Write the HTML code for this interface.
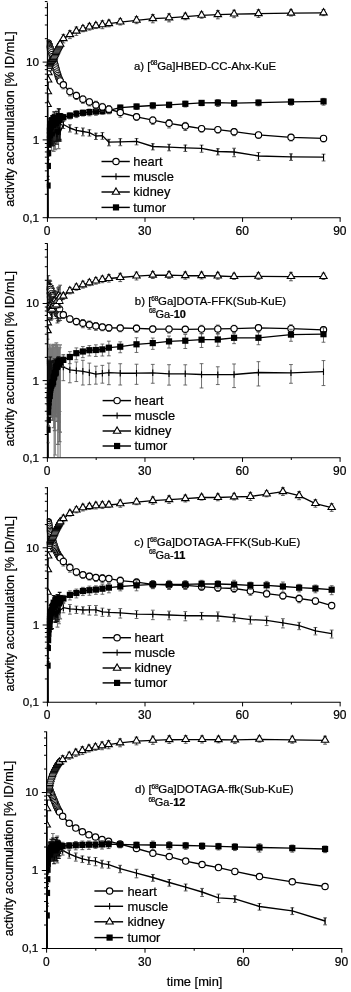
<!DOCTYPE html>
<html lang="en"><head><meta charset="utf-8"><title>Time activity curves</title>
<style>html,body{margin:0;padding:0;background:#fff}svg{display:block;filter:blur(0.38px)}text{font-family:'Liberation Sans', Arial, sans-serif;fill:#000;stroke:#000;stroke-width:0.22px}</style>
</head><body>
<svg width="351" height="992" viewBox="0 0 351 992">
<rect width="351" height="992" fill="#fff"/>
<g>
<clipPath id="cp0"><rect x="46.85" y="-3" width="320" height="221.1"/></clipPath>
<text x="39.2" y="221.65" text-anchor="end" font-size="11.8">0,1</text>
<text x="39.2" y="143.85" text-anchor="end" font-size="11.8">1</text>
<text x="39.2" y="66.05" text-anchor="end" font-size="11.8">10</text>
<text x="47.15" y="234.5" text-anchor="middle" font-size="12">0</text>
<text x="144.71" y="234.5" text-anchor="middle" font-size="12">30</text>
<text x="242.27" y="234.5" text-anchor="middle" font-size="12">60</text>
<text x="339.83" y="234.5" text-anchor="middle" font-size="12">90</text>
<text transform="translate(13.9 119) rotate(-90)" text-anchor="middle" font-size="12.65">activity accumulation [% ID/mL]</text>
<g clip-path="url(#cp0)">
<g>
<path d="M47.86 159.58V165.48 M45.96 159.58H49.76 M45.96 165.48H49.76" stroke="#777" stroke-width="1.15" fill="none"/>
<path d="M48.13 150.67V156.07 M46.23 150.67H50.03 M46.23 156.07H50.03" stroke="#777" stroke-width="1.15" fill="none"/>
<path d="M48.4 143.9V149.99 M46.5 143.9H50.3 M46.5 149.99H50.3" stroke="#777" stroke-width="1.15" fill="none"/>
<path d="M49.75 129.89V144.47 M47.85 129.89H51.65 M47.85 144.47H51.65" stroke="#777" stroke-width="1.15" fill="none"/>
<path d="M51.51 118.56V150.43 M49.61 118.56H53.41 M49.61 150.43H53.41" stroke="#777" stroke-width="1.15" fill="none"/>
<path d="M53.68 118.58V151.34 M51.78 118.58H55.58 M51.78 151.34H55.58" stroke="#777" stroke-width="1.15" fill="none"/>
<path d="M54.77 117.81V148.92 M52.87 117.81H56.67 M52.87 148.92H56.67" stroke="#777" stroke-width="1.15" fill="none"/>
<path d="M55.31 119.95V149.68 M53.41 119.95H57.21 M53.41 149.68H57.21" stroke="#777" stroke-width="1.15" fill="none"/>
<path d="M58.56 120.42V148.63 M56.66 120.42H60.46 M56.66 148.63H60.46" stroke="#777" stroke-width="1.15" fill="none"/>
<path d="M47.59 176.3V179.47 M45.69 176.3H49.49 M45.69 179.47H49.49" stroke="#111" stroke-width="1.15" fill="none"/>
<path d="M48.67 141.15V145.15 M46.77 141.15H50.57 M46.77 145.15H50.57" stroke="#111" stroke-width="1.15" fill="none"/>
<path d="M48.94 139.18V143.37 M47.04 139.18H50.84 M47.04 143.37H50.84" stroke="#111" stroke-width="1.15" fill="none"/>
<path d="M49.21 134.83V141.37 M47.31 134.83H51.11 M47.31 141.37H51.11" stroke="#111" stroke-width="1.15" fill="none"/>
<path d="M49.48 131.86V140.51 M47.58 131.86H51.38 M47.58 140.51H51.38" stroke="#111" stroke-width="1.15" fill="none"/>
<path d="M50.03 130.55V143.06 M48.13 130.55H51.93 M48.13 143.06H51.93" stroke="#111" stroke-width="1.15" fill="none"/>
<path d="M50.3 128.78V143.08 M48.4 128.78H52.2 M48.4 143.08H52.2" stroke="#111" stroke-width="1.15" fill="none"/>
<path d="M50.57 125.5V143.14 M48.67 125.5H52.47 M48.67 143.14H52.47" stroke="#111" stroke-width="1.15" fill="none"/>
<path d="M50.97 128.06V144.56 M49.07 128.06H52.87 M49.07 144.56H52.87" stroke="#111" stroke-width="1.15" fill="none"/>
<path d="M52.06 121.73V141.12 M50.16 121.73H53.96 M50.16 141.12H53.96" stroke="#111" stroke-width="1.15" fill="none"/>
<path d="M52.6 127.91V145.95 M50.7 127.91H54.5 M50.7 145.95H54.5" stroke="#111" stroke-width="1.15" fill="none"/>
<path d="M53.14 125.4V145.06 M51.24 125.4H55.04 M51.24 145.06H55.04" stroke="#111" stroke-width="1.15" fill="none"/>
<path d="M54.22 123.37V143.2 M52.32 123.37H56.12 M52.32 143.2H56.12" stroke="#111" stroke-width="1.15" fill="none"/>
<path d="M55.85 122.99V141.6 M53.95 122.99H57.75 M53.95 141.6H57.75" stroke="#111" stroke-width="1.15" fill="none"/>
<path d="M56.39 121.81V141.26 M54.49 121.81H58.29 M54.49 141.26H58.29" stroke="#111" stroke-width="1.15" fill="none"/>
<path d="M56.93 124.5V144.2 M55.03 124.5H58.83 M55.03 144.2H58.83" stroke="#111" stroke-width="1.15" fill="none"/>
<path d="M57.48 121.45V140.44 M55.58 121.45H59.38 M55.58 140.44H59.38" stroke="#111" stroke-width="1.15" fill="none"/>
<path d="M58.02 122.63V140.01 M56.12 122.63H59.92 M56.12 140.01H59.92" stroke="#111" stroke-width="1.15" fill="none"/>
<path d="M59.1 121.78V141.12 M57.2 121.78H61 M57.2 141.12H61" stroke="#111" stroke-width="1.15" fill="none"/>
<path d="M59.64 122.54V139.3 M57.74 122.54H61.54 M57.74 139.3H61.54" stroke="#111" stroke-width="1.15" fill="none"/>
<path d="M60.19 124.9V140.97 M58.29 124.9H62.09 M58.29 140.97H62.09" stroke="#111" stroke-width="1.15" fill="none"/>
<path d="M63.38 121.29V128.49 M61.48 121.29H65.28 M61.48 128.49H65.28" stroke="#333" stroke-width="0.8" fill="none"/>
<path d="M69.89 124.79V132 M67.99 124.79H71.79 M67.99 132H71.79" stroke="#333" stroke-width="0.8" fill="none"/>
<path d="M76.39 127.44V133.86 M74.49 127.44H78.29 M74.49 133.86H78.29" stroke="#333" stroke-width="0.8" fill="none"/>
<path d="M82.9 128V135.85 M81 128H84.8 M81 135.85H84.8" stroke="#333" stroke-width="0.8" fill="none"/>
<path d="M89.4 129.79V136.1 M87.5 129.79H91.3 M87.5 136.1H91.3" stroke="#333" stroke-width="0.8" fill="none"/>
<path d="M95.9 133.18V139.51 M94 133.18H97.8 M94 139.51H97.8" stroke="#333" stroke-width="0.8" fill="none"/>
<path d="M102.41 132.61V139.32 M100.51 132.61H104.31 M100.51 139.32H104.31" stroke="#333" stroke-width="0.8" fill="none"/>
<path d="M108.91 139.27V145.85 M107.01 139.27H110.81 M107.01 145.85H110.81" stroke="#333" stroke-width="0.8" fill="none"/>
<path d="M120.29 138.66V145.71 M118.39 138.66H122.19 M118.39 145.71H122.19" stroke="#333" stroke-width="0.8" fill="none"/>
<path d="M136.55 138.6V144.88 M134.65 138.6H138.45 M134.65 144.88H138.45" stroke="#333" stroke-width="0.8" fill="none"/>
<path d="M152.81 143.76V149.91 M150.91 143.76H154.71 M150.91 149.91H154.71" stroke="#333" stroke-width="0.8" fill="none"/>
<path d="M169.07 144.28V150.83 M167.17 144.28H170.97 M167.17 150.83H170.97" stroke="#333" stroke-width="0.8" fill="none"/>
<path d="M185.33 145.04V151.46 M183.43 145.04H187.23 M183.43 151.46H187.23" stroke="#333" stroke-width="0.8" fill="none"/>
<path d="M201.59 145.13V152.25 M199.69 145.13H203.49 M199.69 152.25H203.49" stroke="#333" stroke-width="0.8" fill="none"/>
<path d="M217.85 148.73V154.94 M215.95 148.73H219.75 M215.95 154.94H219.75" stroke="#333" stroke-width="0.8" fill="none"/>
<path d="M234.11 148.22V156.71 M232.21 148.22H236.01 M232.21 156.71H236.01" stroke="#333" stroke-width="0.8" fill="none"/>
<path d="M258.5 152.53V160.32 M256.6 152.53H260.4 M256.6 160.32H260.4" stroke="#333" stroke-width="0.8" fill="none"/>
<path d="M291.02 153.89V160.43 M289.12 153.89H292.92 M289.12 160.43H292.92" stroke="#333" stroke-width="0.8" fill="none"/>
<path d="M323.54 154.16V160.98 M321.64 154.16H325.44 M321.64 160.98H325.44" stroke="#333" stroke-width="0.8" fill="none"/>
<polyline points="47.8,219.7 47.59,177.62 47.86,161.96 48.13,153.14 48.4,146.88 48.67,143.11 48.94,140.79 49.21,137.19 49.48,135.77 49.75,135.62 50.03,135.77 50.3,134.4 50.57,132.85 50.97,135.21 51.51,133.01 52.06,130.4 52.6,135.17 53.14,133.23 53.68,132.43 54.22,133.34 54.77,131.69 55.31,130.3 55.85,129.98 56.39,129.61 56.93,133.96 57.48,130.99 58.02,129.56 58.56,131.7 59.1,130.05 59.64,130.59 60.19,132.05 63.38,124.5 69.89,128 76.39,130.3 82.9,131.5 89.4,132.6 95.9,136 102.41,135.6 108.91,142.2 120.29,141.8 136.55,141.4 152.81,146.5 169.07,147.2 185.33,147.9 201.59,148.3 217.85,151.5 234.11,152 258.5,156 291.02,156.8 323.54,157.2" fill="none" stroke="#000" stroke-width="1.35" stroke-linejoin="round"/>
<path d="M47.59 174.42V180.82" stroke="#000" stroke-width="1.1" fill="none"/>
<path d="M47.86 158.76V165.16" stroke="#000" stroke-width="1.1" fill="none"/>
<path d="M48.13 149.94V156.34" stroke="#000" stroke-width="1.1" fill="none"/>
<path d="M48.4 143.68V150.08" stroke="#000" stroke-width="1.1" fill="none"/>
<path d="M48.67 139.91V146.31" stroke="#000" stroke-width="1.1" fill="none"/>
<path d="M48.94 137.59V143.99" stroke="#000" stroke-width="1.1" fill="none"/>
<path d="M49.21 133.99V140.39" stroke="#000" stroke-width="1.1" fill="none"/>
<path d="M49.48 132.57V138.97" stroke="#000" stroke-width="1.1" fill="none"/>
<path d="M49.75 132.42V138.82" stroke="#000" stroke-width="1.1" fill="none"/>
<path d="M50.03 132.57V138.97" stroke="#000" stroke-width="1.1" fill="none"/>
<path d="M50.3 131.2V137.6" stroke="#000" stroke-width="1.1" fill="none"/>
<path d="M50.57 129.65V136.05" stroke="#000" stroke-width="1.1" fill="none"/>
<path d="M50.97 132.01V138.41" stroke="#000" stroke-width="1.1" fill="none"/>
<path d="M51.51 129.81V136.21" stroke="#000" stroke-width="1.1" fill="none"/>
<path d="M52.06 127.2V133.6" stroke="#000" stroke-width="1.1" fill="none"/>
<path d="M52.6 131.97V138.37" stroke="#000" stroke-width="1.1" fill="none"/>
<path d="M53.14 130.03V136.43" stroke="#000" stroke-width="1.1" fill="none"/>
<path d="M53.68 129.23V135.63" stroke="#000" stroke-width="1.1" fill="none"/>
<path d="M54.22 130.14V136.54" stroke="#000" stroke-width="1.1" fill="none"/>
<path d="M54.77 128.49V134.89" stroke="#000" stroke-width="1.1" fill="none"/>
<path d="M55.31 127.1V133.5" stroke="#000" stroke-width="1.1" fill="none"/>
<path d="M55.85 126.78V133.18" stroke="#000" stroke-width="1.1" fill="none"/>
<path d="M56.39 126.41V132.81" stroke="#000" stroke-width="1.1" fill="none"/>
<path d="M56.93 130.76V137.16" stroke="#000" stroke-width="1.1" fill="none"/>
<path d="M57.48 127.79V134.19" stroke="#000" stroke-width="1.1" fill="none"/>
<path d="M58.02 126.36V132.76" stroke="#000" stroke-width="1.1" fill="none"/>
<path d="M58.56 128.5V134.9" stroke="#000" stroke-width="1.1" fill="none"/>
<path d="M59.1 126.85V133.25" stroke="#000" stroke-width="1.1" fill="none"/>
<path d="M59.64 127.39V133.79" stroke="#000" stroke-width="1.1" fill="none"/>
<path d="M60.19 128.85V135.25" stroke="#000" stroke-width="1.1" fill="none"/>
<path d="M63.38 121.3V127.7" stroke="#000" stroke-width="1.1" fill="none"/>
<path d="M69.89 124.8V131.2" stroke="#000" stroke-width="1.1" fill="none"/>
<path d="M76.39 127.1V133.5" stroke="#000" stroke-width="1.1" fill="none"/>
<path d="M82.9 128.3V134.7" stroke="#000" stroke-width="1.1" fill="none"/>
<path d="M89.4 129.4V135.8" stroke="#000" stroke-width="1.1" fill="none"/>
<path d="M95.9 132.8V139.2" stroke="#000" stroke-width="1.1" fill="none"/>
<path d="M102.41 132.4V138.8" stroke="#000" stroke-width="1.1" fill="none"/>
<path d="M108.91 139V145.4" stroke="#000" stroke-width="1.1" fill="none"/>
<path d="M120.29 138.6V145" stroke="#000" stroke-width="1.1" fill="none"/>
<path d="M136.55 138.2V144.6" stroke="#000" stroke-width="1.1" fill="none"/>
<path d="M152.81 143.3V149.7" stroke="#000" stroke-width="1.1" fill="none"/>
<path d="M169.07 144V150.4" stroke="#000" stroke-width="1.1" fill="none"/>
<path d="M185.33 144.7V151.1" stroke="#000" stroke-width="1.1" fill="none"/>
<path d="M201.59 145.1V151.5" stroke="#000" stroke-width="1.1" fill="none"/>
<path d="M217.85 148.3V154.7" stroke="#000" stroke-width="1.1" fill="none"/>
<path d="M234.11 148.8V155.2" stroke="#000" stroke-width="1.1" fill="none"/>
<path d="M258.5 152.8V159.2" stroke="#000" stroke-width="1.1" fill="none"/>
<path d="M291.02 153.6V160" stroke="#000" stroke-width="1.1" fill="none"/>
<path d="M323.54 154V160.4" stroke="#000" stroke-width="1.1" fill="none"/>
</g>
<g>
<path d="M47.59 184.57V186.2 M45.69 184.57H49.49 M45.69 186.2H49.49" stroke="#111" stroke-width="1.15" fill="none"/>
<path d="M47.86 164.36V166.83 M45.96 164.36H49.76 M45.96 166.83H49.76" stroke="#111" stroke-width="1.15" fill="none"/>
<path d="M48.13 152.52V153.87 M46.23 152.52H50.03 M46.23 153.87H50.03" stroke="#111" stroke-width="1.15" fill="none"/>
<path d="M48.4 143.93V145.89 M46.5 143.93H50.3 M46.5 145.89H50.3" stroke="#111" stroke-width="1.15" fill="none"/>
<path d="M48.67 137.94V139.73 M46.77 137.94H50.57 M46.77 139.73H50.57" stroke="#111" stroke-width="1.15" fill="none"/>
<path d="M48.94 134.15V136.33 M47.04 134.15H50.84 M47.04 136.33H50.84" stroke="#111" stroke-width="1.15" fill="none"/>
<path d="M49.21 128.51V132.74 M47.31 128.51H51.11 M47.31 132.74H51.11" stroke="#111" stroke-width="1.15" fill="none"/>
<path d="M49.48 128.19V133.01 M47.58 128.19H51.38 M47.58 133.01H51.38" stroke="#111" stroke-width="1.15" fill="none"/>
<path d="M49.75 125.07V130.32 M47.85 125.07H51.65 M47.85 130.32H51.65" stroke="#111" stroke-width="1.15" fill="none"/>
<path d="M50.03 122.28V129.65 M48.13 122.28H51.93 M48.13 129.65H51.93" stroke="#111" stroke-width="1.15" fill="none"/>
<path d="M50.3 118.41V128.58 M48.4 118.41H52.2 M48.4 128.58H52.2" stroke="#111" stroke-width="1.15" fill="none"/>
<path d="M50.57 120.82V131.88 M48.67 120.82H52.47 M48.67 131.88H52.47" stroke="#111" stroke-width="1.15" fill="none"/>
<path d="M50.97 121.37V130.06 M49.07 121.37H52.87 M49.07 130.06H52.87" stroke="#111" stroke-width="1.15" fill="none"/>
<path d="M51.51 118.45V124.68 M49.61 118.45H53.41 M49.61 124.68H53.41" stroke="#111" stroke-width="1.15" fill="none"/>
<path d="M52.06 115.86V125.23 M50.16 115.86H53.96 M50.16 125.23H53.96" stroke="#111" stroke-width="1.15" fill="none"/>
<path d="M52.6 119.75V130.8 M50.7 119.75H54.5 M50.7 130.8H54.5" stroke="#111" stroke-width="1.15" fill="none"/>
<path d="M53.14 117.13V129 M51.24 117.13H55.04 M51.24 129H55.04" stroke="#111" stroke-width="1.15" fill="none"/>
<path d="M53.68 114.3V122.02 M51.78 114.3H55.58 M51.78 122.02H55.58" stroke="#111" stroke-width="1.15" fill="none"/>
<path d="M54.22 111.93V123.75 M52.32 111.93H56.12 M52.32 123.75H56.12" stroke="#111" stroke-width="1.15" fill="none"/>
<path d="M54.77 117.58V127.93 M52.87 117.58H56.67 M52.87 127.93H56.67" stroke="#111" stroke-width="1.15" fill="none"/>
<path d="M55.31 119.06V127.46 M53.41 119.06H57.21 M53.41 127.46H57.21" stroke="#111" stroke-width="1.15" fill="none"/>
<path d="M55.85 116.28V128.45 M53.95 116.28H57.75 M53.95 128.45H57.75" stroke="#111" stroke-width="1.15" fill="none"/>
<path d="M56.39 115.68V124.94 M54.49 115.68H58.29 M54.49 124.94H58.29" stroke="#111" stroke-width="1.15" fill="none"/>
<path d="M56.93 111.24V124.16 M55.03 111.24H58.83 M55.03 124.16H58.83" stroke="#111" stroke-width="1.15" fill="none"/>
<path d="M57.48 113.58V124.42 M55.58 113.58H59.38 M55.58 124.42H59.38" stroke="#111" stroke-width="1.15" fill="none"/>
<path d="M58.02 117.2V124.43 M56.12 117.2H59.92 M56.12 124.43H59.92" stroke="#111" stroke-width="1.15" fill="none"/>
<path d="M58.56 108.77V121.71 M56.66 108.77H60.46 M56.66 121.71H60.46" stroke="#111" stroke-width="1.15" fill="none"/>
<path d="M59.1 108.95V122.03 M57.2 108.95H61 M57.2 122.03H61" stroke="#111" stroke-width="1.15" fill="none"/>
<path d="M59.64 115.43V124.36 M57.74 115.43H61.54 M57.74 124.36H61.54" stroke="#111" stroke-width="1.15" fill="none"/>
<path d="M60.19 113.86V120.9 M58.29 113.86H62.09 M58.29 120.9H62.09" stroke="#111" stroke-width="1.15" fill="none"/>
<path d="M63.38 114.43V120.65 M61.48 114.43H65.28 M61.48 120.65H65.28" stroke="#333" stroke-width="0.8" fill="none"/>
<path d="M69.89 112.94V118.91 M67.99 112.94H71.79 M67.99 118.91H71.79" stroke="#333" stroke-width="0.8" fill="none"/>
<path d="M76.39 110.76V117.59 M74.49 110.76H78.29 M74.49 117.59H78.29" stroke="#333" stroke-width="0.8" fill="none"/>
<path d="M82.9 110.23V116 M81 110.23H84.8 M81 116H84.8" stroke="#333" stroke-width="0.8" fill="none"/>
<path d="M89.4 109.12V115.81 M87.5 109.12H91.3 M87.5 115.81H91.3" stroke="#333" stroke-width="0.8" fill="none"/>
<path d="M95.9 108.66V115.26 M94 108.66H97.8 M94 115.26H97.8" stroke="#333" stroke-width="0.8" fill="none"/>
<path d="M102.41 108.84V114.14 M100.51 108.84H104.31 M100.51 114.14H104.31" stroke="#333" stroke-width="0.8" fill="none"/>
<path d="M108.91 107.9V113.28 M107.01 107.9H110.81 M107.01 113.28H110.81" stroke="#333" stroke-width="0.8" fill="none"/>
<path d="M120.29 105.16V110.63 M118.39 105.16H122.19 M118.39 110.63H122.19" stroke="#333" stroke-width="0.8" fill="none"/>
<path d="M136.55 104.11V109.47 M134.65 104.11H138.45 M134.65 109.47H138.45" stroke="#333" stroke-width="0.8" fill="none"/>
<path d="M152.81 102.79V108.88 M150.91 102.79H154.71 M150.91 108.88H154.71" stroke="#333" stroke-width="0.8" fill="none"/>
<path d="M169.07 102.39V107.79 M167.17 102.39H170.97 M167.17 107.79H170.97" stroke="#333" stroke-width="0.8" fill="none"/>
<path d="M185.33 101.24V106.98 M183.43 101.24H187.23 M183.43 106.98H187.23" stroke="#333" stroke-width="0.8" fill="none"/>
<path d="M201.59 100.62V105.74 M199.69 100.62H203.49 M199.69 105.74H203.49" stroke="#333" stroke-width="0.8" fill="none"/>
<path d="M217.85 99.68V106.46 M215.95 99.68H219.75 M215.95 106.46H219.75" stroke="#333" stroke-width="0.8" fill="none"/>
<path d="M234.11 100.71V106.3 M232.21 100.71H236.01 M232.21 106.3H236.01" stroke="#333" stroke-width="0.8" fill="none"/>
<path d="M258.5 100.01V105.83 M256.6 100.01H260.4 M256.6 105.83H260.4" stroke="#333" stroke-width="0.8" fill="none"/>
<path d="M291.02 99.09V105.17 M289.12 99.09H292.92 M289.12 105.17H292.92" stroke="#333" stroke-width="0.8" fill="none"/>
<path d="M323.54 98.39V105.15 M321.64 98.39H325.44 M321.64 105.15H325.44" stroke="#333" stroke-width="0.8" fill="none"/>
<polyline points="47.8,219.7 47.59,185.53 47.86,165.95 48.13,153.2 48.4,144.79 48.67,138.56 48.94,135.12 49.21,130.57 49.48,131.23 49.75,127.27 50.03,126.95 50.3,123.93 50.57,127.05 50.97,125.5 51.51,121.6 52.06,120.15 52.6,124.99 53.14,124.9 53.68,118.43 54.22,118.05 54.77,122.97 55.31,122.48 55.85,123.2 56.39,119.57 56.93,118.24 57.48,118.58 58.02,121.05 58.56,116.29 59.1,116.09 59.64,119.95 60.19,116.27 63.38,117.2 69.89,115.6 76.39,113.8 82.9,112.8 89.4,112.1 95.9,111.6 102.41,111.2 108.91,110.3 120.29,107.6 136.55,106.5 152.81,105.5 169.07,104.8 185.33,103.8 201.59,102.9 217.85,102.7 234.11,103.2 258.5,102.6 291.02,101.8 323.54,101.4" fill="none" stroke="#000" stroke-width="1.35" stroke-linejoin="round"/>
<rect x="44.49" y="182.43" width="6.2" height="6.2" fill="#000"/>
<rect x="44.76" y="162.85" width="6.2" height="6.2" fill="#000"/>
<rect x="45.03" y="150.1" width="6.2" height="6.2" fill="#000"/>
<rect x="45.3" y="141.69" width="6.2" height="6.2" fill="#000"/>
<rect x="45.57" y="135.46" width="6.2" height="6.2" fill="#000"/>
<rect x="45.84" y="132.02" width="6.2" height="6.2" fill="#000"/>
<rect x="46.11" y="127.47" width="6.2" height="6.2" fill="#000"/>
<rect x="46.38" y="128.13" width="6.2" height="6.2" fill="#000"/>
<rect x="46.65" y="124.17" width="6.2" height="6.2" fill="#000"/>
<rect x="46.93" y="123.85" width="6.2" height="6.2" fill="#000"/>
<rect x="47.2" y="120.83" width="6.2" height="6.2" fill="#000"/>
<rect x="47.47" y="123.95" width="6.2" height="6.2" fill="#000"/>
<rect x="47.87" y="122.4" width="6.2" height="6.2" fill="#000"/>
<rect x="48.41" y="118.5" width="6.2" height="6.2" fill="#000"/>
<rect x="48.96" y="117.05" width="6.2" height="6.2" fill="#000"/>
<rect x="49.5" y="121.89" width="6.2" height="6.2" fill="#000"/>
<rect x="50.04" y="121.8" width="6.2" height="6.2" fill="#000"/>
<rect x="50.58" y="115.33" width="6.2" height="6.2" fill="#000"/>
<rect x="51.12" y="114.95" width="6.2" height="6.2" fill="#000"/>
<rect x="51.67" y="119.87" width="6.2" height="6.2" fill="#000"/>
<rect x="52.21" y="119.38" width="6.2" height="6.2" fill="#000"/>
<rect x="52.75" y="120.1" width="6.2" height="6.2" fill="#000"/>
<rect x="53.29" y="116.47" width="6.2" height="6.2" fill="#000"/>
<rect x="53.83" y="115.14" width="6.2" height="6.2" fill="#000"/>
<rect x="54.38" y="115.48" width="6.2" height="6.2" fill="#000"/>
<rect x="54.92" y="117.95" width="6.2" height="6.2" fill="#000"/>
<rect x="55.46" y="113.19" width="6.2" height="6.2" fill="#000"/>
<rect x="56" y="112.99" width="6.2" height="6.2" fill="#000"/>
<rect x="56.54" y="116.85" width="6.2" height="6.2" fill="#000"/>
<rect x="57.09" y="113.17" width="6.2" height="6.2" fill="#000"/>
<rect x="60.28" y="114.1" width="6.2" height="6.2" fill="#000"/>
<rect x="66.79" y="112.5" width="6.2" height="6.2" fill="#000"/>
<rect x="73.29" y="110.7" width="6.2" height="6.2" fill="#000"/>
<rect x="79.8" y="109.7" width="6.2" height="6.2" fill="#000"/>
<rect x="86.3" y="109" width="6.2" height="6.2" fill="#000"/>
<rect x="92.8" y="108.5" width="6.2" height="6.2" fill="#000"/>
<rect x="99.31" y="108.1" width="6.2" height="6.2" fill="#000"/>
<rect x="105.81" y="107.2" width="6.2" height="6.2" fill="#000"/>
<rect x="117.19" y="104.5" width="6.2" height="6.2" fill="#000"/>
<rect x="133.45" y="103.4" width="6.2" height="6.2" fill="#000"/>
<rect x="149.71" y="102.4" width="6.2" height="6.2" fill="#000"/>
<rect x="165.97" y="101.7" width="6.2" height="6.2" fill="#000"/>
<rect x="182.23" y="100.7" width="6.2" height="6.2" fill="#000"/>
<rect x="198.49" y="99.8" width="6.2" height="6.2" fill="#000"/>
<rect x="214.75" y="99.6" width="6.2" height="6.2" fill="#000"/>
<rect x="231.01" y="100.1" width="6.2" height="6.2" fill="#000"/>
<rect x="255.4" y="99.5" width="6.2" height="6.2" fill="#000"/>
<rect x="287.92" y="98.7" width="6.2" height="6.2" fill="#000"/>
<rect x="320.44" y="98.3" width="6.2" height="6.2" fill="#000"/>
</g>
<g>
<path d="M47.59 45.59V48.27 M45.69 45.59H49.49 M45.69 48.27H49.49" stroke="#222" stroke-width="0.8" fill="none"/>
<path d="M47.86 42.13V45.86 M45.96 42.13H49.76 M45.96 45.86H49.76" stroke="#222" stroke-width="0.8" fill="none"/>
<path d="M48.13 41.77V44.62 M46.23 41.77H50.03 M46.23 44.62H50.03" stroke="#222" stroke-width="0.8" fill="none"/>
<path d="M48.4 41.71V44.63 M46.5 41.71H50.3 M46.5 44.63H50.3" stroke="#222" stroke-width="0.8" fill="none"/>
<path d="M48.67 42.45V45.35 M46.77 42.45H50.57 M46.77 45.35H50.57" stroke="#222" stroke-width="0.8" fill="none"/>
<path d="M48.94 43.72V45.56 M47.04 43.72H50.84 M47.04 45.56H50.84" stroke="#222" stroke-width="0.8" fill="none"/>
<path d="M49.21 44.06V46.78 M47.31 44.06H51.11 M47.31 46.78H51.11" stroke="#222" stroke-width="0.8" fill="none"/>
<path d="M49.48 45.16V47.35 M47.58 45.16H51.38 M47.58 47.35H51.38" stroke="#222" stroke-width="0.8" fill="none"/>
<path d="M49.75 46.18V47.99 M47.85 46.18H51.65 M47.85 47.99H51.65" stroke="#222" stroke-width="0.8" fill="none"/>
<path d="M50.03 46.18V49.66 M48.13 46.18H51.93 M48.13 49.66H51.93" stroke="#222" stroke-width="0.8" fill="none"/>
<path d="M50.3 47.67V49.83 M48.4 47.67H52.2 M48.4 49.83H52.2" stroke="#222" stroke-width="0.8" fill="none"/>
<path d="M50.57 48.19V50.98 M48.67 48.19H52.47 M48.67 50.98H52.47" stroke="#222" stroke-width="0.8" fill="none"/>
<path d="M50.97 49.25V52.57 M49.07 49.25H52.87 M49.07 52.57H52.87" stroke="#222" stroke-width="0.8" fill="none"/>
<path d="M51.51 51.26V54.23 M49.61 51.26H53.41 M49.61 54.23H53.41" stroke="#222" stroke-width="0.8" fill="none"/>
<path d="M52.06 53.34V55.82 M50.16 53.34H53.96 M50.16 55.82H53.96" stroke="#222" stroke-width="0.8" fill="none"/>
<path d="M52.6 54.97V57.86 M50.7 54.97H54.5 M50.7 57.86H54.5" stroke="#222" stroke-width="0.8" fill="none"/>
<path d="M53.14 56.76V59.73 M51.24 56.76H55.04 M51.24 59.73H55.04" stroke="#222" stroke-width="0.8" fill="none"/>
<path d="M53.68 58.36V61.8 M51.78 58.36H55.58 M51.78 61.8H55.58" stroke="#222" stroke-width="0.8" fill="none"/>
<path d="M54.22 60.98V63.01 M52.32 60.98H56.12 M52.32 63.01H56.12" stroke="#222" stroke-width="0.8" fill="none"/>
<path d="M54.77 62.51V65.48 M52.87 62.51H56.67 M52.87 65.48H56.67" stroke="#222" stroke-width="0.8" fill="none"/>
<path d="M55.31 64.84V67.16 M53.41 64.84H57.21 M53.41 67.16H57.21" stroke="#222" stroke-width="0.8" fill="none"/>
<path d="M55.85 66.81V69.19 M53.95 66.81H57.75 M53.95 69.19H57.75" stroke="#222" stroke-width="0.8" fill="none"/>
<path d="M56.39 68.29V71.71 M54.49 68.29H58.29 M54.49 71.71H58.29" stroke="#222" stroke-width="0.8" fill="none"/>
<path d="M56.93 70.56V73.43 M55.03 70.56H58.83 M55.03 73.43H58.83" stroke="#222" stroke-width="0.8" fill="none"/>
<path d="M57.48 72.34V75.32 M55.58 72.34H59.38 M55.58 75.32H59.38" stroke="#222" stroke-width="0.8" fill="none"/>
<path d="M58.02 73.8V77.19 M56.12 73.8H59.92 M56.12 77.19H59.92" stroke="#222" stroke-width="0.8" fill="none"/>
<path d="M58.56 75.31V79.02 M56.66 75.31H60.46 M56.66 79.02H60.46" stroke="#222" stroke-width="0.8" fill="none"/>
<path d="M59.1 77.22V79.95 M57.2 77.22H61 M57.2 79.95H61" stroke="#222" stroke-width="0.8" fill="none"/>
<path d="M59.64 78.2V81.29 M57.74 78.2H61.54 M57.74 81.29H61.54" stroke="#222" stroke-width="0.8" fill="none"/>
<path d="M60.19 79.48V82.35 M58.29 79.48H62.09 M58.29 82.35H62.09" stroke="#222" stroke-width="0.8" fill="none"/>
<path d="M63.38 81.54V88.86 M61.48 81.54H65.28 M61.48 88.86H65.28" stroke="#333" stroke-width="0.8" fill="none"/>
<path d="M69.89 88.13V95.92 M67.99 88.13H71.79 M67.99 95.92H71.79" stroke="#333" stroke-width="0.8" fill="none"/>
<path d="M76.39 92.31V99.47 M74.49 92.31H78.29 M74.49 99.47H78.29" stroke="#333" stroke-width="0.8" fill="none"/>
<path d="M82.9 95.91V103.29 M81 95.91H84.8 M81 103.29H84.8" stroke="#333" stroke-width="0.8" fill="none"/>
<path d="M89.4 98.68V105.91 M87.5 98.68H91.3 M87.5 105.91H91.3" stroke="#333" stroke-width="0.8" fill="none"/>
<path d="M95.9 101.24V109.68 M94 101.24H97.8 M94 109.68H97.8" stroke="#333" stroke-width="0.8" fill="none"/>
<path d="M102.41 103.42V111.23 M100.51 103.42H104.31 M100.51 111.23H104.31" stroke="#333" stroke-width="0.8" fill="none"/>
<path d="M108.91 105.51V113.79 M107.01 105.51H110.81 M107.01 113.79H110.81" stroke="#333" stroke-width="0.8" fill="none"/>
<path d="M120.29 108.74V117.18 M118.39 108.74H122.19 M118.39 117.18H122.19" stroke="#333" stroke-width="0.8" fill="none"/>
<path d="M136.55 113.83V120.49 M134.65 113.83H138.45 M134.65 120.49H138.45" stroke="#333" stroke-width="0.8" fill="none"/>
<path d="M152.81 116.88V124.33 M150.91 116.88H154.71 M150.91 124.33H154.71" stroke="#333" stroke-width="0.8" fill="none"/>
<path d="M169.07 119.54V127.98 M167.17 119.54H170.97 M167.17 127.98H170.97" stroke="#333" stroke-width="0.8" fill="none"/>
<path d="M185.33 122.36V130.53 M183.43 122.36H187.23 M183.43 130.53H187.23" stroke="#333" stroke-width="0.8" fill="none"/>
<path d="M201.59 125.78V132.11 M199.69 125.78H203.49 M199.69 132.11H203.49" stroke="#333" stroke-width="0.8" fill="none"/>
<path d="M217.85 126.79V133.09 M215.95 126.79H219.75 M215.95 133.09H219.75" stroke="#333" stroke-width="0.8" fill="none"/>
<path d="M234.11 128.52V135.66 M232.21 128.52H236.01 M232.21 135.66H236.01" stroke="#333" stroke-width="0.8" fill="none"/>
<path d="M258.5 132.15V138.32 M256.6 132.15H260.4 M256.6 138.32H260.4" stroke="#333" stroke-width="0.8" fill="none"/>
<path d="M291.02 134.36V140.96 M289.12 134.36H292.92 M289.12 140.96H292.92" stroke="#333" stroke-width="0.8" fill="none"/>
<path d="M323.54 135.65V141.82 M321.64 135.65H325.44 M321.64 141.82H325.44" stroke="#333" stroke-width="0.8" fill="none"/>
<polyline points="47.8,219.7 47.59,46.93 47.86,44 48.13,43.2 48.4,43.17 48.67,43.9 48.94,44.64 49.21,45.42 49.48,46.25 49.75,47.09 50.03,47.92 50.3,48.75 50.57,49.59 50.97,50.91 51.51,52.75 52.06,54.58 52.6,56.41 53.14,58.25 53.68,60.08 54.22,62 54.77,64 55.31,66 55.85,68 56.39,70 56.93,72 57.48,73.83 58.02,75.5 58.56,77.16 59.1,78.58 59.64,79.75 60.19,80.91 63.38,84.8 69.89,91.6 76.39,95.5 82.9,99.2 89.4,101.9 95.9,105 102.41,106.9 108.91,109.2 120.29,112.5 136.55,116.8 152.81,120.2 169.07,123.3 185.33,126 201.59,128.6 217.85,129.6 234.11,131.7 258.5,134.9 291.02,137.3 323.54,138.4" fill="none" stroke="#000" stroke-width="1.35" stroke-linejoin="round"/>
<circle cx="47.59" cy="46.93" r="3.15" fill="#fff" stroke="#000" stroke-width="1.15"/>
<circle cx="47.86" cy="44" r="3.15" fill="#fff" stroke="#000" stroke-width="1.15"/>
<circle cx="48.13" cy="43.2" r="3.15" fill="#fff" stroke="#000" stroke-width="1.15"/>
<circle cx="48.4" cy="43.17" r="3.15" fill="#fff" stroke="#000" stroke-width="1.15"/>
<circle cx="48.67" cy="43.9" r="3.3" fill="#fff" stroke="#000" stroke-width="1.0"/>
<circle cx="48.94" cy="44.64" r="3.3" fill="#fff" stroke="#000" stroke-width="1.0"/>
<circle cx="49.21" cy="45.42" r="3.3" fill="#fff" stroke="#000" stroke-width="1.0"/>
<circle cx="49.48" cy="46.25" r="3.3" fill="#fff" stroke="#000" stroke-width="1.0"/>
<circle cx="49.75" cy="47.09" r="3.3" fill="#fff" stroke="#000" stroke-width="1.0"/>
<circle cx="50.03" cy="47.92" r="3.3" fill="#fff" stroke="#000" stroke-width="1.0"/>
<circle cx="50.3" cy="48.75" r="3.3" fill="#fff" stroke="#000" stroke-width="1.0"/>
<circle cx="50.57" cy="49.59" r="3.3" fill="#fff" stroke="#000" stroke-width="1.0"/>
<circle cx="50.97" cy="50.91" r="3.3" fill="#fff" stroke="#000" stroke-width="1.0"/>
<circle cx="51.51" cy="52.75" r="3.3" fill="#fff" stroke="#000" stroke-width="1.0"/>
<circle cx="52.06" cy="54.58" r="3.3" fill="#fff" stroke="#000" stroke-width="1.0"/>
<circle cx="52.6" cy="56.41" r="3.3" fill="#fff" stroke="#000" stroke-width="1.0"/>
<circle cx="53.14" cy="58.25" r="3.3" fill="#fff" stroke="#000" stroke-width="1.0"/>
<circle cx="53.68" cy="60.08" r="3.3" fill="#fff" stroke="#000" stroke-width="1.0"/>
<circle cx="54.22" cy="62" r="3.3" fill="#fff" stroke="#000" stroke-width="1.0"/>
<circle cx="54.77" cy="64" r="3.3" fill="#fff" stroke="#000" stroke-width="1.0"/>
<circle cx="55.31" cy="66" r="3.3" fill="#fff" stroke="#000" stroke-width="1.0"/>
<circle cx="55.85" cy="68" r="3.3" fill="#fff" stroke="#000" stroke-width="1.0"/>
<circle cx="56.39" cy="70" r="3.3" fill="#fff" stroke="#000" stroke-width="1.0"/>
<circle cx="56.93" cy="72" r="3.3" fill="#fff" stroke="#000" stroke-width="1.0"/>
<circle cx="57.48" cy="73.83" r="3.3" fill="#fff" stroke="#000" stroke-width="1.0"/>
<circle cx="58.02" cy="75.5" r="3.3" fill="#fff" stroke="#000" stroke-width="1.0"/>
<circle cx="58.56" cy="77.16" r="3.3" fill="#fff" stroke="#000" stroke-width="1.0"/>
<circle cx="59.1" cy="78.58" r="3.3" fill="#fff" stroke="#000" stroke-width="1.0"/>
<circle cx="59.64" cy="79.75" r="3.3" fill="#fff" stroke="#000" stroke-width="1.0"/>
<circle cx="60.19" cy="80.91" r="3.15" fill="#fff" stroke="#000" stroke-width="1.15"/>
<circle cx="63.38" cy="84.8" r="3.15" fill="#fff" stroke="#000" stroke-width="1.15"/>
<circle cx="69.89" cy="91.6" r="3.15" fill="#fff" stroke="#000" stroke-width="1.15"/>
<circle cx="76.39" cy="95.5" r="3.15" fill="#fff" stroke="#000" stroke-width="1.15"/>
<circle cx="82.9" cy="99.2" r="3.15" fill="#fff" stroke="#000" stroke-width="1.15"/>
<circle cx="89.4" cy="101.9" r="3.15" fill="#fff" stroke="#000" stroke-width="1.15"/>
<circle cx="95.9" cy="105" r="3.15" fill="#fff" stroke="#000" stroke-width="1.15"/>
<circle cx="102.41" cy="106.9" r="3.15" fill="#fff" stroke="#000" stroke-width="1.15"/>
<circle cx="108.91" cy="109.2" r="3.15" fill="#fff" stroke="#000" stroke-width="1.15"/>
<circle cx="120.29" cy="112.5" r="3.15" fill="#fff" stroke="#000" stroke-width="1.15"/>
<circle cx="136.55" cy="116.8" r="3.15" fill="#fff" stroke="#000" stroke-width="1.15"/>
<circle cx="152.81" cy="120.2" r="3.15" fill="#fff" stroke="#000" stroke-width="1.15"/>
<circle cx="169.07" cy="123.3" r="3.15" fill="#fff" stroke="#000" stroke-width="1.15"/>
<circle cx="185.33" cy="126" r="3.15" fill="#fff" stroke="#000" stroke-width="1.15"/>
<circle cx="201.59" cy="128.6" r="3.15" fill="#fff" stroke="#000" stroke-width="1.15"/>
<circle cx="217.85" cy="129.6" r="3.15" fill="#fff" stroke="#000" stroke-width="1.15"/>
<circle cx="234.11" cy="131.7" r="3.15" fill="#fff" stroke="#000" stroke-width="1.15"/>
<circle cx="258.5" cy="134.9" r="3.15" fill="#fff" stroke="#000" stroke-width="1.15"/>
<circle cx="291.02" cy="137.3" r="3.15" fill="#fff" stroke="#000" stroke-width="1.15"/>
<circle cx="323.54" cy="138.4" r="3.15" fill="#fff" stroke="#000" stroke-width="1.15"/>
</g>
<g>
<path d="M47.59 102.09V105.3 M45.69 102.09H49.49 M45.69 105.3H49.49" stroke="#222" stroke-width="0.8" fill="none"/>
<path d="M47.86 89.23V92.68 M45.96 89.23H49.76 M45.96 92.68H49.76" stroke="#222" stroke-width="0.8" fill="none"/>
<path d="M48.13 77.35V81.03 M46.23 77.35H50.03 M46.23 81.03H50.03" stroke="#222" stroke-width="0.8" fill="none"/>
<path d="M48.4 70.84V72.97 M46.5 70.84H50.3 M46.5 72.97H50.3" stroke="#222" stroke-width="0.8" fill="none"/>
<path d="M48.67 66.34V69.64 M46.77 66.34H50.57 M46.77 69.64H50.57" stroke="#222" stroke-width="0.8" fill="none"/>
<path d="M48.94 63.95V67.13 M47.04 63.95H50.84 M47.04 67.13H50.84" stroke="#222" stroke-width="0.8" fill="none"/>
<path d="M49.21 62.93V65.03 M47.31 62.93H51.11 M47.31 65.03H51.11" stroke="#222" stroke-width="0.8" fill="none"/>
<path d="M49.48 61.17V64.82 M47.58 61.17H51.38 M47.58 64.82H51.38" stroke="#222" stroke-width="0.8" fill="none"/>
<path d="M49.75 60.41V64.25 M47.85 60.41H51.65 M47.85 64.25H51.65" stroke="#222" stroke-width="0.8" fill="none"/>
<path d="M50.03 60.67V62.93 M48.13 60.67H51.93 M48.13 62.93H51.93" stroke="#222" stroke-width="0.8" fill="none"/>
<path d="M50.3 59.5V63.3 M48.4 59.5H52.2 M48.4 63.3H52.2" stroke="#222" stroke-width="0.8" fill="none"/>
<path d="M50.57 59.68V62.32 M48.67 59.68H52.47 M48.67 62.32H52.47" stroke="#222" stroke-width="0.8" fill="none"/>
<path d="M50.97 59.12V61.95 M49.07 59.12H52.87 M49.07 61.95H52.87" stroke="#222" stroke-width="0.8" fill="none"/>
<path d="M51.51 58.06V61.94 M49.61 58.06H53.41 M49.61 61.94H53.41" stroke="#222" stroke-width="0.8" fill="none"/>
<path d="M52.06 57.56V61.11 M50.16 57.56H53.96 M50.16 61.11H53.96" stroke="#222" stroke-width="0.8" fill="none"/>
<path d="M52.6 57.54V59.68 M50.7 57.54H54.5 M50.7 59.68H54.5" stroke="#222" stroke-width="0.8" fill="none"/>
<path d="M53.14 56.48V59.19 M51.24 56.48H55.04 M51.24 59.19H55.04" stroke="#222" stroke-width="0.8" fill="none"/>
<path d="M53.68 55.26V58.14 M51.78 55.26H55.58 M51.78 58.14H55.58" stroke="#222" stroke-width="0.8" fill="none"/>
<path d="M54.22 54.15V56.66 M52.32 54.15H56.12 M52.32 56.66H56.12" stroke="#222" stroke-width="0.8" fill="none"/>
<path d="M54.77 53.02V55.23 M52.87 53.02H56.67 M52.87 55.23H56.67" stroke="#222" stroke-width="0.8" fill="none"/>
<path d="M55.31 51.64V54.11 M53.41 51.64H57.21 M53.41 54.11H57.21" stroke="#222" stroke-width="0.8" fill="none"/>
<path d="M55.85 49.97V53.29 M53.95 49.97H57.75 M53.95 53.29H57.75" stroke="#222" stroke-width="0.8" fill="none"/>
<path d="M56.39 49.56V51.4 M54.49 49.56H58.29 M54.49 51.4H58.29" stroke="#222" stroke-width="0.8" fill="none"/>
<path d="M56.93 47.86V50.82 M55.03 47.86H58.83 M55.03 50.82H58.83" stroke="#222" stroke-width="0.8" fill="none"/>
<path d="M57.48 46.84V49.56 M55.58 46.84H59.38 M55.58 49.56H59.38" stroke="#222" stroke-width="0.8" fill="none"/>
<path d="M58.02 46.18V48.02 M56.12 46.18H59.92 M56.12 48.02H59.92" stroke="#222" stroke-width="0.8" fill="none"/>
<path d="M58.56 44.85V47.35 M56.66 44.85H60.46 M56.66 47.35H60.46" stroke="#222" stroke-width="0.8" fill="none"/>
<path d="M59.1 43.55V46.66 M57.2 43.55H61 M57.2 46.66H61" stroke="#222" stroke-width="0.8" fill="none"/>
<path d="M59.64 42.81V45.69 M57.74 42.81H61.54 M57.74 45.69H61.54" stroke="#222" stroke-width="0.8" fill="none"/>
<path d="M60.19 42.45V44.39 M58.29 42.45H62.09 M58.29 44.39H62.09" stroke="#222" stroke-width="0.8" fill="none"/>
<path d="M63.38 34.41V42.93 M61.48 34.41H65.28 M61.48 42.93H65.28" stroke="#333" stroke-width="0.8" fill="none"/>
<path d="M69.89 30.62V38.62 M67.99 30.62H71.79 M67.99 38.62H71.79" stroke="#333" stroke-width="0.8" fill="none"/>
<path d="M76.39 26.93V35.41 M74.49 26.93H78.29 M74.49 35.41H78.29" stroke="#333" stroke-width="0.8" fill="none"/>
<path d="M82.9 25.52V31.75 M81 25.52H84.8 M81 31.75H84.8" stroke="#333" stroke-width="0.8" fill="none"/>
<path d="M89.4 23.46V30.1 M87.5 23.46H91.3 M87.5 30.1H91.3" stroke="#333" stroke-width="0.8" fill="none"/>
<path d="M95.9 22.49V28.55 M94 22.49H97.8 M94 28.55H97.8" stroke="#333" stroke-width="0.8" fill="none"/>
<path d="M102.41 20.72V28.71 M100.51 20.72H104.31 M100.51 28.71H104.31" stroke="#333" stroke-width="0.8" fill="none"/>
<path d="M108.91 20.15V26.81 M107.01 20.15H110.81 M107.01 26.81H110.81" stroke="#333" stroke-width="0.8" fill="none"/>
<path d="M120.29 18.7V24.99 M118.39 18.7H122.19 M118.39 24.99H122.19" stroke="#333" stroke-width="0.8" fill="none"/>
<path d="M136.55 16.59V23.65 M134.65 16.59H138.45 M134.65 23.65H138.45" stroke="#333" stroke-width="0.8" fill="none"/>
<path d="M152.81 14.49V22.81 M150.91 14.49H154.71 M150.91 22.81H154.71" stroke="#333" stroke-width="0.8" fill="none"/>
<path d="M169.07 13.78V21.87 M167.17 13.78H170.97 M167.17 21.87H170.97" stroke="#333" stroke-width="0.8" fill="none"/>
<path d="M185.33 13.16V19.79 M183.43 13.16H187.23 M183.43 19.79H187.23" stroke="#333" stroke-width="0.8" fill="none"/>
<path d="M201.59 11.88V18.22 M199.69 11.88H203.49 M199.69 18.22H203.49" stroke="#333" stroke-width="0.8" fill="none"/>
<path d="M217.85 10.48V18.83 M215.95 10.48H219.75 M215.95 18.83H219.75" stroke="#333" stroke-width="0.8" fill="none"/>
<path d="M234.11 10.24V17.68 M232.21 10.24H236.01 M232.21 17.68H236.01" stroke="#333" stroke-width="0.8" fill="none"/>
<path d="M258.5 9.71V17.48 M256.6 9.71H260.4 M256.6 17.48H260.4" stroke="#333" stroke-width="0.8" fill="none"/>
<path d="M291.02 9.84V16.02 M289.12 9.84H292.92 M289.12 16.02H292.92" stroke="#333" stroke-width="0.8" fill="none"/>
<path d="M323.54 9.57V15.67 M321.64 9.57H325.44 M321.64 15.67H325.44" stroke="#333" stroke-width="0.8" fill="none"/>
<polyline points="47.8,219.7 47.59,104.59 47.86,91.85 48.13,80.09 48.4,72.81 48.67,68.89 48.94,66.44 49.21,64.88 49.48,63.9 49.75,63.23 50.03,62.7 50.3,62.3 50.57,61.9 50.97,61.43 51.51,60.9 52.06,60.23 52.6,59.51 53.14,58.73 53.68,57.6 54.22,56.31 54.77,55.03 55.31,53.78 55.85,52.53 56.39,51.38 56.93,50.24 57.48,49.1 58.02,48 58.56,47 59.1,46 59.64,45.15 60.19,44.32 63.38,38.7 69.89,34.7 76.39,31.2 82.9,28.9 89.4,27 95.9,25.8 102.41,24.8 108.91,23.7 120.29,22.1 136.55,20.3 152.81,18.7 169.07,17.9 185.33,16.7 201.59,15.3 217.85,14.7 234.11,14.1 258.5,13.7 291.02,13.2 323.54,12.9" fill="none" stroke="#000" stroke-width="1.35" stroke-linejoin="round"/>
<path d="M47.59 100.24 L51.29 106.54 L43.89 106.54 Z" fill="#fff" stroke="#000" stroke-width="1.1" stroke-linejoin="miter"/>
<path d="M47.86 87.5 L51.56 93.8 L44.16 93.8 Z" fill="#fff" stroke="#000" stroke-width="1.1" stroke-linejoin="miter"/>
<path d="M48.13 75.74 L51.83 82.04 L44.43 82.04 Z" fill="#fff" stroke="#000" stroke-width="1.1" stroke-linejoin="miter"/>
<path d="M48.4 68.46 L52.1 74.76 L44.7 74.76 Z" fill="#fff" stroke="#000" stroke-width="1.1" stroke-linejoin="miter"/>
<path d="M48.67 64.54 L52.37 70.84 L44.97 70.84 Z" fill="#fff" stroke="#000" stroke-width="1.0" stroke-linejoin="miter"/>
<path d="M48.94 62.09 L52.64 68.39 L45.24 68.39 Z" fill="#fff" stroke="#000" stroke-width="1.0" stroke-linejoin="miter"/>
<path d="M49.21 60.53 L52.91 66.83 L45.51 66.83 Z" fill="#fff" stroke="#000" stroke-width="1.0" stroke-linejoin="miter"/>
<path d="M49.48 59.55 L53.18 65.85 L45.78 65.85 Z" fill="#fff" stroke="#000" stroke-width="1.0" stroke-linejoin="miter"/>
<path d="M49.75 58.88 L53.45 65.18 L46.05 65.18 Z" fill="#fff" stroke="#000" stroke-width="1.0" stroke-linejoin="miter"/>
<path d="M50.03 58.35 L53.73 64.65 L46.33 64.65 Z" fill="#fff" stroke="#000" stroke-width="1.0" stroke-linejoin="miter"/>
<path d="M50.3 57.95 L54 64.25 L46.6 64.25 Z" fill="#fff" stroke="#000" stroke-width="1.0" stroke-linejoin="miter"/>
<path d="M50.57 57.55 L54.27 63.85 L46.87 63.85 Z" fill="#fff" stroke="#000" stroke-width="1.0" stroke-linejoin="miter"/>
<path d="M50.97 57.08 L54.67 63.38 L47.27 63.38 Z" fill="#fff" stroke="#000" stroke-width="1.0" stroke-linejoin="miter"/>
<path d="M51.51 56.55 L55.21 62.85 L47.81 62.85 Z" fill="#fff" stroke="#000" stroke-width="1.0" stroke-linejoin="miter"/>
<path d="M52.06 55.88 L55.76 62.18 L48.36 62.18 Z" fill="#fff" stroke="#000" stroke-width="1.0" stroke-linejoin="miter"/>
<path d="M52.6 55.16 L56.3 61.46 L48.9 61.46 Z" fill="#fff" stroke="#000" stroke-width="1.0" stroke-linejoin="miter"/>
<path d="M53.14 54.38 L56.84 60.68 L49.44 60.68 Z" fill="#fff" stroke="#000" stroke-width="1.0" stroke-linejoin="miter"/>
<path d="M53.68 53.25 L57.38 59.55 L49.98 59.55 Z" fill="#fff" stroke="#000" stroke-width="1.0" stroke-linejoin="miter"/>
<path d="M54.22 51.96 L57.92 58.26 L50.52 58.26 Z" fill="#fff" stroke="#000" stroke-width="1.0" stroke-linejoin="miter"/>
<path d="M54.77 50.68 L58.47 56.98 L51.07 56.98 Z" fill="#fff" stroke="#000" stroke-width="1.0" stroke-linejoin="miter"/>
<path d="M55.31 49.43 L59.01 55.73 L51.61 55.73 Z" fill="#fff" stroke="#000" stroke-width="1.0" stroke-linejoin="miter"/>
<path d="M55.85 48.18 L59.55 54.48 L52.15 54.48 Z" fill="#fff" stroke="#000" stroke-width="1.0" stroke-linejoin="miter"/>
<path d="M56.39 47.03 L60.09 53.33 L52.69 53.33 Z" fill="#fff" stroke="#000" stroke-width="1.0" stroke-linejoin="miter"/>
<path d="M56.93 45.89 L60.63 52.19 L53.23 52.19 Z" fill="#fff" stroke="#000" stroke-width="1.0" stroke-linejoin="miter"/>
<path d="M57.48 44.75 L61.18 51.05 L53.78 51.05 Z" fill="#fff" stroke="#000" stroke-width="1.0" stroke-linejoin="miter"/>
<path d="M58.02 43.65 L61.72 49.95 L54.32 49.95 Z" fill="#fff" stroke="#000" stroke-width="1.0" stroke-linejoin="miter"/>
<path d="M58.56 42.65 L62.26 48.95 L54.86 48.95 Z" fill="#fff" stroke="#000" stroke-width="1.0" stroke-linejoin="miter"/>
<path d="M59.1 41.65 L62.8 47.95 L55.4 47.95 Z" fill="#fff" stroke="#000" stroke-width="1.0" stroke-linejoin="miter"/>
<path d="M59.64 40.8 L63.34 47.1 L55.94 47.1 Z" fill="#fff" stroke="#000" stroke-width="1.0" stroke-linejoin="miter"/>
<path d="M60.19 39.97 L63.89 46.27 L56.49 46.27 Z" fill="#fff" stroke="#000" stroke-width="1.1" stroke-linejoin="miter"/>
<path d="M63.38 34.35 L67.08 40.65 L59.68 40.65 Z" fill="#fff" stroke="#000" stroke-width="1.1" stroke-linejoin="miter"/>
<path d="M69.89 30.35 L73.59 36.65 L66.19 36.65 Z" fill="#fff" stroke="#000" stroke-width="1.1" stroke-linejoin="miter"/>
<path d="M76.39 26.85 L80.09 33.15 L72.69 33.15 Z" fill="#fff" stroke="#000" stroke-width="1.1" stroke-linejoin="miter"/>
<path d="M82.9 24.55 L86.6 30.85 L79.2 30.85 Z" fill="#fff" stroke="#000" stroke-width="1.1" stroke-linejoin="miter"/>
<path d="M89.4 22.65 L93.1 28.95 L85.7 28.95 Z" fill="#fff" stroke="#000" stroke-width="1.1" stroke-linejoin="miter"/>
<path d="M95.9 21.45 L99.6 27.75 L92.2 27.75 Z" fill="#fff" stroke="#000" stroke-width="1.1" stroke-linejoin="miter"/>
<path d="M102.41 20.45 L106.11 26.75 L98.71 26.75 Z" fill="#fff" stroke="#000" stroke-width="1.1" stroke-linejoin="miter"/>
<path d="M108.91 19.35 L112.61 25.65 L105.21 25.65 Z" fill="#fff" stroke="#000" stroke-width="1.1" stroke-linejoin="miter"/>
<path d="M120.29 17.75 L123.99 24.05 L116.59 24.05 Z" fill="#fff" stroke="#000" stroke-width="1.1" stroke-linejoin="miter"/>
<path d="M136.55 15.95 L140.25 22.25 L132.85 22.25 Z" fill="#fff" stroke="#000" stroke-width="1.1" stroke-linejoin="miter"/>
<path d="M152.81 14.35 L156.51 20.65 L149.11 20.65 Z" fill="#fff" stroke="#000" stroke-width="1.1" stroke-linejoin="miter"/>
<path d="M169.07 13.55 L172.77 19.85 L165.37 19.85 Z" fill="#fff" stroke="#000" stroke-width="1.1" stroke-linejoin="miter"/>
<path d="M185.33 12.35 L189.03 18.65 L181.63 18.65 Z" fill="#fff" stroke="#000" stroke-width="1.1" stroke-linejoin="miter"/>
<path d="M201.59 10.95 L205.29 17.25 L197.89 17.25 Z" fill="#fff" stroke="#000" stroke-width="1.1" stroke-linejoin="miter"/>
<path d="M217.85 10.35 L221.55 16.65 L214.15 16.65 Z" fill="#fff" stroke="#000" stroke-width="1.1" stroke-linejoin="miter"/>
<path d="M234.11 9.75 L237.81 16.05 L230.41 16.05 Z" fill="#fff" stroke="#000" stroke-width="1.1" stroke-linejoin="miter"/>
<path d="M258.5 9.35 L262.2 15.65 L254.8 15.65 Z" fill="#fff" stroke="#000" stroke-width="1.1" stroke-linejoin="miter"/>
<path d="M291.02 8.85 L294.72 15.15 L287.32 15.15 Z" fill="#fff" stroke="#000" stroke-width="1.1" stroke-linejoin="miter"/>
<path d="M323.54 8.55 L327.24 14.85 L319.84 14.85 Z" fill="#fff" stroke="#000" stroke-width="1.1" stroke-linejoin="miter"/>
</g>
</g>
<path d="M47.45 2.5V218.3" stroke="#000" stroke-width="1.15" fill="none"/>
<path d="M46.75 217.7H340.63" stroke="#000" stroke-width="1.1" fill="none"/>
<path d="M42.65 217.7H47.45 M42.65 139.9H47.45 M42.65 62.1H47.45 M44.85 194.28H47.45 M44.85 180.58H47.45 M44.85 170.86H47.45 M44.85 163.32H47.45 M44.85 157.16H47.45 M44.85 151.95H47.45 M44.85 147.44H47.45 M44.85 143.46H47.45 M44.85 116.48H47.45 M44.85 102.78H47.45 M44.85 93.06H47.45 M44.85 85.52H47.45 M44.85 79.36H47.45 M44.85 74.15H47.45 M44.85 69.64H47.45 M44.85 65.66H47.45 M44.85 38.68H47.45 M44.85 24.98H47.45 M44.85 15.26H47.45 M44.85 7.72H47.45 M44.85 1.56H47.45" stroke="#000" stroke-width="1" fill="none"/>
<path d="M47.45 217.7V221.9 M145.01 217.7V221.9 M242.57 217.7V221.9 M340.13 217.7V221.9 M96.23 217.7V220 M193.79 217.7V220 M291.35 217.7V220" stroke="#000" stroke-width="1" fill="none"/>
<path d="M101.5 161.5H129.8" stroke="#000" stroke-width="1.45"/>
<circle cx="116" cy="161.5" r="3.15" fill="#fff" stroke="#000" stroke-width="1.15"/>
<text x="133.3" y="165.6" font-size="12.8">heart</text>
<path d="M101.5 176.5H129.8" stroke="#000" stroke-width="1.45"/>
<path d="M116 173.3V179.7" stroke="#000" stroke-width="1.1" fill="none"/>
<text x="133.3" y="180.6" font-size="12.8">muscle</text>
<path d="M101.5 192H129.8" stroke="#000" stroke-width="1.45"/>
<path d="M116 187.95 L119.7 194.25 L112.3 194.25 Z" fill="#fff" stroke="#000" stroke-width="1.1" stroke-linejoin="miter"/>
<text x="133.3" y="196.1" font-size="12.8">kidney</text>
<path d="M101.5 207.4H129.8" stroke="#000" stroke-width="1.45"/>
<rect x="112.9" y="204.3" width="6.2" height="6.2" fill="#000"/>
<text x="133.3" y="211.5" font-size="12.8">tumor</text>
<text x="134" y="69.6" font-size="11.4" fill="#2b2b2b" stroke="none">a) [<tspan font-size="6.61" dy="-4.2" letter-spacing="-0.35">68</tspan><tspan dy="4.2">Ga]HBED-CC-Ahx-KuE</tspan></text>
</g>
<g>
<clipPath id="cp1"><rect x="46.8" y="237.7" width="320" height="220.4"/></clipPath>
<text x="39.15" y="461.65" text-anchor="end" font-size="11.8">0,1</text>
<text x="39.15" y="384.55" text-anchor="end" font-size="11.8">1</text>
<text x="39.15" y="307.45" text-anchor="end" font-size="11.8">10</text>
<text x="47.1" y="474.5" text-anchor="middle" font-size="12">0</text>
<text x="144.66" y="474.5" text-anchor="middle" font-size="12">30</text>
<text x="242.22" y="474.5" text-anchor="middle" font-size="12">60</text>
<text x="339.78" y="474.5" text-anchor="middle" font-size="12">90</text>
<text transform="translate(13.85 358.8) rotate(-90)" text-anchor="middle" font-size="12.65">activity accumulation [% ID/mL]</text>
<g clip-path="url(#cp1)">
<g>
<path d="M47.54 290.57V308.96 M45.64 290.57H49.44 M45.64 308.96H49.44" stroke="#222" stroke-width="0.8" fill="none"/>
<path d="M47.81 282.36V297.62 M45.91 282.36H49.71 M45.91 297.62H49.71" stroke="#222" stroke-width="0.8" fill="none"/>
<path d="M48.08 281.79V292.85 M46.18 281.79H49.98 M46.18 292.85H49.98" stroke="#222" stroke-width="0.8" fill="none"/>
<path d="M48.35 275.65V297.02 M46.45 275.65H50.25 M46.45 297.02H50.25" stroke="#222" stroke-width="0.8" fill="none"/>
<path d="M48.62 280.84V298.59 M46.72 280.84H50.52 M46.72 298.59H50.52" stroke="#222" stroke-width="0.8" fill="none"/>
<path d="M48.89 285.28V296.47 M46.99 285.28H50.79 M46.99 296.47H50.79" stroke="#222" stroke-width="0.8" fill="none"/>
<path d="M49.16 286.19V297.18 M47.26 286.19H51.06 M47.26 297.18H51.06" stroke="#222" stroke-width="0.8" fill="none"/>
<path d="M49.43 280.01V295.61 M47.53 280.01H51.33 M47.53 295.61H51.33" stroke="#222" stroke-width="0.8" fill="none"/>
<path d="M49.7 285.54V302.32 M47.8 285.54H51.6 M47.8 302.32H51.6" stroke="#222" stroke-width="0.8" fill="none"/>
<path d="M49.98 280.89V294.28 M48.08 280.89H51.88 M48.08 294.28H51.88" stroke="#222" stroke-width="0.8" fill="none"/>
<path d="M50.25 281.16V297.63 M48.35 281.16H52.15 M48.35 297.63H52.15" stroke="#222" stroke-width="0.8" fill="none"/>
<path d="M50.52 283.79V295.29 M48.62 283.79H52.42 M48.62 295.29H52.42" stroke="#222" stroke-width="0.8" fill="none"/>
<path d="M50.92 285.75V296.55 M49.02 285.75H52.82 M49.02 296.55H52.82" stroke="#222" stroke-width="0.8" fill="none"/>
<path d="M51.46 286.79V300.7 M49.56 286.79H53.36 M49.56 300.7H53.36" stroke="#222" stroke-width="0.8" fill="none"/>
<path d="M52.01 285.65V304.89 M50.11 285.65H53.91 M50.11 304.89H53.91" stroke="#222" stroke-width="0.8" fill="none"/>
<path d="M52.55 287.69V303.84 M50.65 287.69H54.45 M50.65 303.84H54.45" stroke="#222" stroke-width="0.8" fill="none"/>
<path d="M53.09 288.5V302.83 M51.19 288.5H54.99 M51.19 302.83H54.99" stroke="#222" stroke-width="0.8" fill="none"/>
<path d="M53.63 290.38V303.56 M51.73 290.38H55.53 M51.73 303.56H55.53" stroke="#222" stroke-width="0.8" fill="none"/>
<path d="M54.17 293.66V312.59 M52.27 293.66H56.07 M52.27 312.59H56.07" stroke="#222" stroke-width="0.8" fill="none"/>
<path d="M54.72 297.54V310 M52.82 297.54H56.62 M52.82 310H56.62" stroke="#222" stroke-width="0.8" fill="none"/>
<path d="M55.26 291.13V312.45 M53.36 291.13H57.16 M53.36 312.45H57.16" stroke="#222" stroke-width="0.8" fill="none"/>
<path d="M55.8 295.92V315.86 M53.9 295.92H57.7 M53.9 315.86H57.7" stroke="#222" stroke-width="0.8" fill="none"/>
<path d="M56.34 302.46V318.55 M54.44 302.46H58.24 M54.44 318.55H58.24" stroke="#222" stroke-width="0.8" fill="none"/>
<path d="M56.88 301.12V316 M54.98 301.12H58.78 M54.98 316H58.78" stroke="#222" stroke-width="0.8" fill="none"/>
<path d="M57.43 304.56V322.95 M55.53 304.56H59.33 M55.53 322.95H59.33" stroke="#222" stroke-width="0.8" fill="none"/>
<path d="M57.97 306.1V320.38 M56.07 306.1H59.87 M56.07 320.38H59.87" stroke="#222" stroke-width="0.8" fill="none"/>
<path d="M58.51 303V321.61 M56.61 303H60.41 M56.61 321.61H60.41" stroke="#222" stroke-width="0.8" fill="none"/>
<path d="M59.05 302.87V317.88 M57.15 302.87H60.95 M57.15 317.88H60.95" stroke="#222" stroke-width="0.8" fill="none"/>
<path d="M59.59 303.49V314.34 M57.69 303.49H61.49 M57.69 314.34H61.49" stroke="#222" stroke-width="0.8" fill="none"/>
<path d="M60.14 309.4V320.44 M58.24 309.4H62.04 M58.24 320.44H62.04" stroke="#222" stroke-width="0.8" fill="none"/>
<path d="M63.33 311.74V318.39 M61.43 311.74H65.23 M61.43 318.39H65.23" stroke="#333" stroke-width="0.8" fill="none"/>
<path d="M69.84 316.05V322.45 M67.94 316.05H71.74 M67.94 322.45H71.74" stroke="#333" stroke-width="0.8" fill="none"/>
<path d="M76.34 318.74V324.94 M74.44 318.74H78.24 M74.44 324.94H78.24" stroke="#333" stroke-width="0.8" fill="none"/>
<path d="M82.85 319.56V327.74 M80.95 319.56H84.75 M80.95 327.74H84.75" stroke="#333" stroke-width="0.8" fill="none"/>
<path d="M89.35 321.02V329.28 M87.45 321.02H91.25 M87.45 329.28H91.25" stroke="#333" stroke-width="0.8" fill="none"/>
<path d="M95.85 322.55V330.29 M93.95 322.55H97.75 M93.95 330.29H97.75" stroke="#333" stroke-width="0.8" fill="none"/>
<path d="M102.36 324.01V330.72 M100.46 324.01H104.26 M100.46 330.72H104.26" stroke="#333" stroke-width="0.8" fill="none"/>
<path d="M108.86 324.85V331.47 M106.96 324.85H110.76 M106.96 331.47H110.76" stroke="#333" stroke-width="0.8" fill="none"/>
<path d="M120.24 324.99V331.74 M118.34 324.99H122.14 M118.34 331.74H122.14" stroke="#333" stroke-width="0.8" fill="none"/>
<path d="M136.5 325.1V332.28 M134.6 325.1H138.4 M134.6 332.28H138.4" stroke="#333" stroke-width="0.8" fill="none"/>
<path d="M152.76 326.15V332.54 M150.86 326.15H154.66 M150.86 332.54H154.66" stroke="#333" stroke-width="0.8" fill="none"/>
<path d="M169.02 325.92V333.06 M167.12 325.92H170.92 M167.12 333.06H170.92" stroke="#333" stroke-width="0.8" fill="none"/>
<path d="M185.28 326.33V333 M183.38 326.33H187.18 M183.38 333H187.18" stroke="#333" stroke-width="0.8" fill="none"/>
<path d="M201.54 325.32V333.81 M199.64 325.32H203.44 M199.64 333.81H203.44" stroke="#333" stroke-width="0.8" fill="none"/>
<path d="M217.8 325.1V333.63 M215.9 325.1H219.7 M215.9 333.63H219.7" stroke="#333" stroke-width="0.8" fill="none"/>
<path d="M234.06 325.3V332.71 M232.16 325.3H235.96 M232.16 332.71H235.96" stroke="#333" stroke-width="0.8" fill="none"/>
<path d="M258.45 324.85V331.47 M256.55 324.85H260.35 M256.55 331.47H260.35" stroke="#333" stroke-width="0.8" fill="none"/>
<path d="M290.97 324.81V333.32 M289.07 324.81H292.87 M289.07 333.32H292.87" stroke="#333" stroke-width="0.8" fill="none"/>
<path d="M323.49 326.78V333.56 M321.59 326.78H325.39 M321.59 333.56H325.39" stroke="#333" stroke-width="0.8" fill="none"/>
<polyline points="47.75,459.7 47.54,299.76 47.81,289.99 48.08,287.32 48.35,286.34 48.62,289.72 48.89,290.88 49.16,291.68 49.43,287.81 49.7,293.93 49.98,287.58 50.25,289.4 50.52,289.54 50.92,291.15 51.46,293.74 52.01,295.27 52.55,295.77 53.09,295.66 53.63,296.97 54.17,303.12 54.72,303.77 55.26,301.79 55.8,305.89 56.34,310.51 56.88,308.56 57.43,313.76 57.97,313.24 58.51,312.31 59.05,310.38 59.59,308.92 60.14,314.92 63.33,314.7 69.84,318.9 76.34,321.5 82.85,323.2 89.35,324.7 95.85,326 102.36,327 108.86,327.8 120.24,328 136.5,328.3 152.76,329 169.02,329.1 185.28,329.3 201.54,329.1 217.8,328.9 234.06,328.6 258.45,327.8 290.97,328.6 323.49,329.8" fill="none" stroke="#000" stroke-width="1.35" stroke-linejoin="round"/>
<circle cx="47.54" cy="299.76" r="3.15" fill="#fff" stroke="#000" stroke-width="1.15"/>
<circle cx="47.81" cy="289.99" r="3.15" fill="#fff" stroke="#000" stroke-width="1.15"/>
<circle cx="48.08" cy="287.32" r="3.15" fill="#fff" stroke="#000" stroke-width="1.15"/>
<circle cx="48.35" cy="286.34" r="3.15" fill="#fff" stroke="#000" stroke-width="1.15"/>
<circle cx="48.62" cy="289.72" r="3.3" fill="#fff" stroke="#000" stroke-width="1.0"/>
<circle cx="48.89" cy="290.88" r="3.3" fill="#fff" stroke="#000" stroke-width="1.0"/>
<circle cx="49.16" cy="291.68" r="3.3" fill="#fff" stroke="#000" stroke-width="1.0"/>
<circle cx="49.43" cy="287.81" r="3.3" fill="#fff" stroke="#000" stroke-width="1.0"/>
<circle cx="49.7" cy="293.93" r="3.3" fill="#fff" stroke="#000" stroke-width="1.0"/>
<circle cx="49.98" cy="287.58" r="3.3" fill="#fff" stroke="#000" stroke-width="1.0"/>
<circle cx="50.25" cy="289.4" r="3.3" fill="#fff" stroke="#000" stroke-width="1.0"/>
<circle cx="50.52" cy="289.54" r="3.3" fill="#fff" stroke="#000" stroke-width="1.0"/>
<circle cx="50.92" cy="291.15" r="3.3" fill="#fff" stroke="#000" stroke-width="1.0"/>
<circle cx="51.46" cy="293.74" r="3.3" fill="#fff" stroke="#000" stroke-width="1.0"/>
<circle cx="52.01" cy="295.27" r="3.3" fill="#fff" stroke="#000" stroke-width="1.0"/>
<circle cx="52.55" cy="295.77" r="3.3" fill="#fff" stroke="#000" stroke-width="1.0"/>
<circle cx="53.09" cy="295.66" r="3.3" fill="#fff" stroke="#000" stroke-width="1.0"/>
<circle cx="53.63" cy="296.97" r="3.3" fill="#fff" stroke="#000" stroke-width="1.0"/>
<circle cx="54.17" cy="303.12" r="3.3" fill="#fff" stroke="#000" stroke-width="1.0"/>
<circle cx="54.72" cy="303.77" r="3.3" fill="#fff" stroke="#000" stroke-width="1.0"/>
<circle cx="55.26" cy="301.79" r="3.3" fill="#fff" stroke="#000" stroke-width="1.0"/>
<circle cx="55.8" cy="305.89" r="3.3" fill="#fff" stroke="#000" stroke-width="1.0"/>
<circle cx="56.34" cy="310.51" r="3.3" fill="#fff" stroke="#000" stroke-width="1.0"/>
<circle cx="56.88" cy="308.56" r="3.3" fill="#fff" stroke="#000" stroke-width="1.0"/>
<circle cx="57.43" cy="313.76" r="3.3" fill="#fff" stroke="#000" stroke-width="1.0"/>
<circle cx="57.97" cy="313.24" r="3.3" fill="#fff" stroke="#000" stroke-width="1.0"/>
<circle cx="58.51" cy="312.31" r="3.3" fill="#fff" stroke="#000" stroke-width="1.0"/>
<circle cx="59.05" cy="310.38" r="3.3" fill="#fff" stroke="#000" stroke-width="1.0"/>
<circle cx="59.59" cy="308.92" r="3.3" fill="#fff" stroke="#000" stroke-width="1.0"/>
<circle cx="60.14" cy="314.92" r="3.15" fill="#fff" stroke="#000" stroke-width="1.15"/>
<circle cx="63.33" cy="314.7" r="3.15" fill="#fff" stroke="#000" stroke-width="1.15"/>
<circle cx="69.84" cy="318.9" r="3.15" fill="#fff" stroke="#000" stroke-width="1.15"/>
<circle cx="76.34" cy="321.5" r="3.15" fill="#fff" stroke="#000" stroke-width="1.15"/>
<circle cx="82.85" cy="323.2" r="3.15" fill="#fff" stroke="#000" stroke-width="1.15"/>
<circle cx="89.35" cy="324.7" r="3.15" fill="#fff" stroke="#000" stroke-width="1.15"/>
<circle cx="95.85" cy="326" r="3.15" fill="#fff" stroke="#000" stroke-width="1.15"/>
<circle cx="102.36" cy="327" r="3.15" fill="#fff" stroke="#000" stroke-width="1.15"/>
<circle cx="108.86" cy="327.8" r="3.15" fill="#fff" stroke="#000" stroke-width="1.15"/>
<circle cx="120.24" cy="328" r="3.15" fill="#fff" stroke="#000" stroke-width="1.15"/>
<circle cx="136.5" cy="328.3" r="3.15" fill="#fff" stroke="#000" stroke-width="1.15"/>
<circle cx="152.76" cy="329" r="3.15" fill="#fff" stroke="#000" stroke-width="1.15"/>
<circle cx="169.02" cy="329.1" r="3.15" fill="#fff" stroke="#000" stroke-width="1.15"/>
<circle cx="185.28" cy="329.3" r="3.15" fill="#fff" stroke="#000" stroke-width="1.15"/>
<circle cx="201.54" cy="329.1" r="3.15" fill="#fff" stroke="#000" stroke-width="1.15"/>
<circle cx="217.8" cy="328.9" r="3.15" fill="#fff" stroke="#000" stroke-width="1.15"/>
<circle cx="234.06" cy="328.6" r="3.15" fill="#fff" stroke="#000" stroke-width="1.15"/>
<circle cx="258.45" cy="327.8" r="3.15" fill="#fff" stroke="#000" stroke-width="1.15"/>
<circle cx="290.97" cy="328.6" r="3.15" fill="#fff" stroke="#000" stroke-width="1.15"/>
<circle cx="323.49" cy="329.8" r="3.15" fill="#fff" stroke="#000" stroke-width="1.15"/>
</g>
<g>
<path d="M47.54 424.71V442.88 M45.64 424.71H49.44 M45.64 442.88H49.44" stroke="#7a7a7a" stroke-width="1.15" fill="none"/>
<path d="M47.81 410.45V426.79 M45.91 410.45H49.71 M45.91 426.79H49.71" stroke="#7a7a7a" stroke-width="1.15" fill="none"/>
<path d="M48.08 404.94V420.31 M46.18 404.94H49.98 M46.18 420.31H49.98" stroke="#7a7a7a" stroke-width="1.15" fill="none"/>
<path d="M48.35 396.2V408.2 M46.45 396.2H50.25 M46.45 408.2H50.25" stroke="#7a7a7a" stroke-width="1.15" fill="none"/>
<path d="M48.62 391.12V407.23 M46.72 391.12H50.52 M46.72 407.23H50.52" stroke="#7a7a7a" stroke-width="1.15" fill="none"/>
<path d="M48.89 386.01V415.67 M46.99 386.01H50.79 M46.99 415.67H50.79" stroke="#7a7a7a" stroke-width="1.15" fill="none"/>
<path d="M49.16 348.3V415.42 M47.26 348.3H51.06 M47.26 415.42H51.06" stroke="#7a7a7a" stroke-width="1.15" fill="none"/>
<path d="M49.43 344.2V413.12 M47.53 344.2H51.33 M47.53 413.12H51.33" stroke="#7a7a7a" stroke-width="1.15" fill="none"/>
<path d="M49.7 349.54V391.47 M47.8 349.54H51.6 M47.8 391.47H51.6" stroke="#7a7a7a" stroke-width="1.15" fill="none"/>
<path d="M49.98 349.33V405.41 M48.08 349.33H51.88 M48.08 405.41H51.88" stroke="#7a7a7a" stroke-width="1.15" fill="none"/>
<path d="M50.25 348.82V398.27 M48.35 348.82H52.15 M48.35 398.27H52.15" stroke="#7a7a7a" stroke-width="1.15" fill="none"/>
<path d="M50.52 350.92V398.81 M48.62 350.92H52.42 M48.62 398.81H52.42" stroke="#7a7a7a" stroke-width="1.15" fill="none"/>
<path d="M50.92 345.82V409.96 M49.02 345.82H52.82 M49.02 409.96H52.82" stroke="#7a7a7a" stroke-width="1.15" fill="none"/>
<path d="M51.46 347.84V412.73 M49.56 347.84H53.36 M49.56 412.73H53.36" stroke="#7a7a7a" stroke-width="1.15" fill="none"/>
<path d="M52.01 348.67V417.17 M50.11 348.67H53.91 M50.11 417.17H53.91" stroke="#7a7a7a" stroke-width="1.15" fill="none"/>
<path d="M52.55 345.26V419.22 M50.65 345.26H54.45 M50.65 419.22H54.45" stroke="#7a7a7a" stroke-width="1.15" fill="none"/>
<path d="M53.09 345.04V414.42 M51.19 345.04H54.99 M51.19 414.42H54.99" stroke="#7a7a7a" stroke-width="1.15" fill="none"/>
<path d="M53.63 344.34V427.55 M51.73 344.34H55.53 M51.73 427.55H55.53" stroke="#7a7a7a" stroke-width="1.15" fill="none"/>
<path d="M54.17 347.61V457.2 M52.27 347.61H56.07" stroke="#7a7a7a" stroke-width="1.15" fill="none"/>
<path d="M54.72 347.21V415.71 M52.82 347.21H56.62 M52.82 415.71H56.62" stroke="#7a7a7a" stroke-width="1.15" fill="none"/>
<path d="M55.26 345.59V455.03 M53.36 345.59H57.16 M53.36 455.03H57.16" stroke="#7a7a7a" stroke-width="1.15" fill="none"/>
<path d="M55.8 344.55V416.45 M53.9 344.55H57.7 M53.9 416.45H57.7" stroke="#7a7a7a" stroke-width="1.15" fill="none"/>
<path d="M56.34 342.92V409.45 M54.44 342.92H58.24 M54.44 409.45H58.24" stroke="#7a7a7a" stroke-width="1.15" fill="none"/>
<path d="M56.88 347.11V415.71 M54.98 347.11H58.78 M54.98 415.71H58.78" stroke="#7a7a7a" stroke-width="1.15" fill="none"/>
<path d="M57.43 344.88V412.76 M55.53 344.88H59.33 M55.53 412.76H59.33" stroke="#7a7a7a" stroke-width="1.15" fill="none"/>
<path d="M57.97 347.38V457.2 M56.07 347.38H59.87" stroke="#7a7a7a" stroke-width="1.15" fill="none"/>
<path d="M58.51 349.09V420.54 M56.61 349.09H60.41 M56.61 420.54H60.41" stroke="#7a7a7a" stroke-width="1.15" fill="none"/>
<path d="M59.05 347.84V414.33 M57.15 347.84H60.95 M57.15 414.33H60.95" stroke="#7a7a7a" stroke-width="1.15" fill="none"/>
<path d="M59.59 347.61V411.54 M57.69 347.61H61.49 M57.69 411.54H61.49" stroke="#7a7a7a" stroke-width="1.15" fill="none"/>
<path d="M60.14 344.84V457.2 M58.24 344.84H62.04" stroke="#7a7a7a" stroke-width="1.15" fill="none"/>
<path d="M63.33 356.01V380.68 M61.43 356.01H65.23 M61.43 380.68H65.23" stroke="#4a4a4a" stroke-width="0.8" fill="none"/>
<path d="M69.84 359.54V382.79 M67.94 359.54H71.74 M67.94 382.79H71.74" stroke="#4a4a4a" stroke-width="0.8" fill="none"/>
<path d="M76.34 361.98V381.55 M74.44 361.98H78.24 M74.44 381.55H78.24" stroke="#4a4a4a" stroke-width="0.8" fill="none"/>
<path d="M82.85 360.27V385.03 M80.95 360.27H84.75 M80.95 385.03H84.75" stroke="#4a4a4a" stroke-width="0.8" fill="none"/>
<path d="M89.35 363.1V384.65 M87.45 363.1H91.25 M87.45 384.65H91.25" stroke="#4a4a4a" stroke-width="0.8" fill="none"/>
<path d="M95.85 366.19V384.16 M93.95 366.19H97.75 M93.95 384.16H97.75" stroke="#4a4a4a" stroke-width="0.8" fill="none"/>
<path d="M102.36 365.37V383.17 M100.46 365.37H104.26 M100.46 383.17H104.26" stroke="#4a4a4a" stroke-width="0.8" fill="none"/>
<path d="M108.86 363.08V384.68 M106.96 363.08H110.76 M106.96 384.68H110.76" stroke="#4a4a4a" stroke-width="0.8" fill="none"/>
<path d="M120.24 363.72V385 M118.34 363.72H122.14 M118.34 385H122.14" stroke="#4a4a4a" stroke-width="0.8" fill="none"/>
<path d="M136.5 364.23V384.36 M134.6 364.23H138.4 M134.6 384.36H138.4" stroke="#4a4a4a" stroke-width="0.8" fill="none"/>
<path d="M152.76 364.39V383.26 M150.86 364.39H154.66 M150.86 383.26H154.66" stroke="#4a4a4a" stroke-width="0.8" fill="none"/>
<path d="M169.02 364.69V385.14 M167.12 364.69H170.92 M167.12 385.14H170.92" stroke="#4a4a4a" stroke-width="0.8" fill="none"/>
<path d="M185.28 364.78V385.02 M183.38 364.78H187.18 M183.38 385.02H187.18" stroke="#4a4a4a" stroke-width="0.8" fill="none"/>
<path d="M201.54 363.67V387.98 M199.64 363.67H203.44 M199.64 387.98H203.44" stroke="#4a4a4a" stroke-width="0.8" fill="none"/>
<path d="M217.8 366.77V384.56 M215.9 366.77H219.7 M215.9 384.56H219.7" stroke="#4a4a4a" stroke-width="0.8" fill="none"/>
<path d="M234.06 363.98V387.59 M232.16 363.98H235.96 M232.16 387.59H235.96" stroke="#4a4a4a" stroke-width="0.8" fill="none"/>
<path d="M258.45 361.67V385.97 M256.55 361.67H260.35 M256.55 385.97H260.35" stroke="#4a4a4a" stroke-width="0.8" fill="none"/>
<path d="M290.97 364.56V383.27 M289.07 364.56H292.87 M289.07 383.27H292.87" stroke="#4a4a4a" stroke-width="0.8" fill="none"/>
<path d="M323.49 360.57V385.55 M321.59 360.57H325.39 M321.59 385.55H325.39" stroke="#4a4a4a" stroke-width="0.8" fill="none"/>
<polyline points="47.75,459.7 47.54,427.72 47.81,415.97 48.08,407.97 48.35,401.2 48.62,395.64 48.89,391.65 49.16,388.32 49.43,383.49 49.7,384.42 49.98,381.8 50.25,380.17 50.52,378.79 50.92,372.83 51.46,375.18 52.01,372.74 52.55,371.91 53.09,367.83 53.63,368.16 54.17,371.25 54.72,369.54 55.26,366.26 55.8,367.15 56.34,366.72 56.88,366.58 57.43,365.55 57.97,369.56 58.51,369.63 59.05,369.44 59.59,367.25 60.14,367.09 63.33,367 69.84,369.9 76.34,370.7 82.85,371.3 89.35,372.7 95.85,374.2 102.36,373.3 108.86,372.7 120.24,373.2 136.5,373.2 152.76,372.8 169.02,373.8 185.28,373.8 201.54,374.5 217.8,374.7 234.06,374.5 258.45,372.5 290.97,372.9 323.49,371.7" fill="none" stroke="#000" stroke-width="1.35" stroke-linejoin="round"/>
<path d="M47.54 424.52V430.92" stroke="#000" stroke-width="1.1" fill="none"/>
<path d="M47.81 412.77V419.17" stroke="#000" stroke-width="1.1" fill="none"/>
<path d="M48.08 404.77V411.17" stroke="#000" stroke-width="1.1" fill="none"/>
<path d="M48.35 398V404.4" stroke="#000" stroke-width="1.1" fill="none"/>
<path d="M48.62 392.44V398.84" stroke="#000" stroke-width="1.1" fill="none"/>
<path d="M48.89 388.45V394.85" stroke="#000" stroke-width="1.1" fill="none"/>
<path d="M49.16 385.12V391.52" stroke="#000" stroke-width="1.1" fill="none"/>
<path d="M49.43 380.29V386.69" stroke="#000" stroke-width="1.1" fill="none"/>
<path d="M49.7 381.22V387.62" stroke="#000" stroke-width="1.1" fill="none"/>
<path d="M49.98 378.6V385" stroke="#000" stroke-width="1.1" fill="none"/>
<path d="M50.25 376.97V383.37" stroke="#000" stroke-width="1.1" fill="none"/>
<path d="M50.52 375.59V381.99" stroke="#000" stroke-width="1.1" fill="none"/>
<path d="M50.92 369.63V376.03" stroke="#000" stroke-width="1.1" fill="none"/>
<path d="M51.46 371.98V378.38" stroke="#000" stroke-width="1.1" fill="none"/>
<path d="M52.01 369.54V375.94" stroke="#000" stroke-width="1.1" fill="none"/>
<path d="M52.55 368.71V375.11" stroke="#000" stroke-width="1.1" fill="none"/>
<path d="M53.09 364.63V371.03" stroke="#000" stroke-width="1.1" fill="none"/>
<path d="M53.63 364.96V371.36" stroke="#000" stroke-width="1.1" fill="none"/>
<path d="M54.17 368.05V374.45" stroke="#000" stroke-width="1.1" fill="none"/>
<path d="M54.72 366.34V372.74" stroke="#000" stroke-width="1.1" fill="none"/>
<path d="M55.26 363.06V369.46" stroke="#000" stroke-width="1.1" fill="none"/>
<path d="M55.8 363.95V370.35" stroke="#000" stroke-width="1.1" fill="none"/>
<path d="M56.34 363.52V369.92" stroke="#000" stroke-width="1.1" fill="none"/>
<path d="M56.88 363.38V369.78" stroke="#000" stroke-width="1.1" fill="none"/>
<path d="M57.43 362.35V368.75" stroke="#000" stroke-width="1.1" fill="none"/>
<path d="M57.97 366.36V372.76" stroke="#000" stroke-width="1.1" fill="none"/>
<path d="M58.51 366.43V372.83" stroke="#000" stroke-width="1.1" fill="none"/>
<path d="M59.05 366.24V372.64" stroke="#000" stroke-width="1.1" fill="none"/>
<path d="M59.59 364.05V370.45" stroke="#000" stroke-width="1.1" fill="none"/>
<path d="M60.14 363.89V370.29" stroke="#000" stroke-width="1.1" fill="none"/>
<path d="M63.33 363.8V370.2" stroke="#000" stroke-width="1.1" fill="none"/>
<path d="M69.84 366.7V373.1" stroke="#000" stroke-width="1.1" fill="none"/>
<path d="M76.34 367.5V373.9" stroke="#000" stroke-width="1.1" fill="none"/>
<path d="M82.85 368.1V374.5" stroke="#000" stroke-width="1.1" fill="none"/>
<path d="M89.35 369.5V375.9" stroke="#000" stroke-width="1.1" fill="none"/>
<path d="M95.85 371V377.4" stroke="#000" stroke-width="1.1" fill="none"/>
<path d="M102.36 370.1V376.5" stroke="#000" stroke-width="1.1" fill="none"/>
<path d="M108.86 369.5V375.9" stroke="#000" stroke-width="1.1" fill="none"/>
<path d="M120.24 370V376.4" stroke="#000" stroke-width="1.1" fill="none"/>
<path d="M136.5 370V376.4" stroke="#000" stroke-width="1.1" fill="none"/>
<path d="M152.76 369.6V376" stroke="#000" stroke-width="1.1" fill="none"/>
<path d="M169.02 370.6V377" stroke="#000" stroke-width="1.1" fill="none"/>
<path d="M185.28 370.6V377" stroke="#000" stroke-width="1.1" fill="none"/>
<path d="M201.54 371.3V377.7" stroke="#000" stroke-width="1.1" fill="none"/>
<path d="M217.8 371.5V377.9" stroke="#000" stroke-width="1.1" fill="none"/>
<path d="M234.06 371.3V377.7" stroke="#000" stroke-width="1.1" fill="none"/>
<path d="M258.45 369.3V375.7" stroke="#000" stroke-width="1.1" fill="none"/>
<path d="M290.97 369.7V376.1" stroke="#000" stroke-width="1.1" fill="none"/>
<path d="M323.49 368.5V374.9" stroke="#000" stroke-width="1.1" fill="none"/>
</g>
<g>
<path d="M47.54 320.47V339.15 M45.64 320.47H49.44 M45.64 339.15H49.44" stroke="#222" stroke-width="0.8" fill="none"/>
<path d="M47.81 311.51V332.44 M45.91 311.51H49.71 M45.91 332.44H49.71" stroke="#222" stroke-width="0.8" fill="none"/>
<path d="M48.08 309.27V322.92 M46.18 309.27H49.98 M46.18 322.92H49.98" stroke="#222" stroke-width="0.8" fill="none"/>
<path d="M48.35 305.14V319.77 M46.45 305.14H50.25 M46.45 319.77H50.25" stroke="#222" stroke-width="0.8" fill="none"/>
<path d="M48.62 307.55V322.42 M46.72 307.55H50.52 M46.72 322.42H50.52" stroke="#222" stroke-width="0.8" fill="none"/>
<path d="M48.89 299.46V316.67 M46.99 299.46H50.79 M46.99 316.67H50.79" stroke="#222" stroke-width="0.8" fill="none"/>
<path d="M49.16 298.82V314.11 M47.26 298.82H51.06 M47.26 314.11H51.06" stroke="#222" stroke-width="0.8" fill="none"/>
<path d="M49.43 298.99V309.77 M47.53 298.99H51.33 M47.53 309.77H51.33" stroke="#222" stroke-width="0.8" fill="none"/>
<path d="M49.7 295.48V315.61 M47.8 295.48H51.6 M47.8 315.61H51.6" stroke="#222" stroke-width="0.8" fill="none"/>
<path d="M49.98 294.27V315.6 M48.08 294.27H51.88 M48.08 315.6H51.88" stroke="#222" stroke-width="0.8" fill="none"/>
<path d="M50.25 300.33V313.7 M48.35 300.33H52.15 M48.35 313.7H52.15" stroke="#222" stroke-width="0.8" fill="none"/>
<path d="M50.52 299.27V311.73 M48.62 299.27H52.42 M48.62 311.73H52.42" stroke="#222" stroke-width="0.8" fill="none"/>
<path d="M50.92 298.75V320.33 M49.02 298.75H52.82 M49.02 320.33H52.82" stroke="#222" stroke-width="0.8" fill="none"/>
<path d="M51.46 296.5V316.36 M49.56 296.5H53.36 M49.56 316.36H53.36" stroke="#222" stroke-width="0.8" fill="none"/>
<path d="M52.01 297.85V318.92 M50.11 297.85H53.91 M50.11 318.92H53.91" stroke="#222" stroke-width="0.8" fill="none"/>
<path d="M52.55 297.28V314.01 M50.65 297.28H54.45 M50.65 314.01H54.45" stroke="#222" stroke-width="0.8" fill="none"/>
<path d="M53.09 299.7V310.49 M51.19 299.7H54.99 M51.19 310.49H54.99" stroke="#222" stroke-width="0.8" fill="none"/>
<path d="M53.63 296.83V312.39 M51.73 296.83H55.53 M51.73 312.39H55.53" stroke="#222" stroke-width="0.8" fill="none"/>
<path d="M54.17 290.89V308.76 M52.27 290.89H56.07 M52.27 308.76H56.07" stroke="#222" stroke-width="0.8" fill="none"/>
<path d="M54.72 299.7V310.48 M52.82 299.7H56.62 M52.82 310.48H56.62" stroke="#222" stroke-width="0.8" fill="none"/>
<path d="M55.26 294.64V306.36 M53.36 294.64H57.16 M53.36 306.36H57.16" stroke="#222" stroke-width="0.8" fill="none"/>
<path d="M55.8 291.29V305.58 M53.9 291.29H57.7 M53.9 305.58H57.7" stroke="#222" stroke-width="0.8" fill="none"/>
<path d="M56.34 294.54V313.53 M54.44 294.54H58.24 M54.44 313.53H58.24" stroke="#222" stroke-width="0.8" fill="none"/>
<path d="M56.88 294.01V307.3 M54.98 294.01H58.78 M54.98 307.3H58.78" stroke="#222" stroke-width="0.8" fill="none"/>
<path d="M57.43 292.38V306.16 M55.53 292.38H59.33 M55.53 306.16H59.33" stroke="#222" stroke-width="0.8" fill="none"/>
<path d="M57.97 287.81V302.7 M56.07 287.81H59.87 M56.07 302.7H59.87" stroke="#222" stroke-width="0.8" fill="none"/>
<path d="M58.51 289.06V301.18 M56.61 289.06H60.41 M56.61 301.18H60.41" stroke="#222" stroke-width="0.8" fill="none"/>
<path d="M59.05 286.82V307.8 M57.15 286.82H60.95 M57.15 307.8H60.95" stroke="#222" stroke-width="0.8" fill="none"/>
<path d="M59.59 294.25V307.07 M57.69 294.25H61.49 M57.69 307.07H61.49" stroke="#222" stroke-width="0.8" fill="none"/>
<path d="M60.14 285.19V307.25 M58.24 285.19H62.04 M58.24 307.25H62.04" stroke="#222" stroke-width="0.8" fill="none"/>
<path d="M63.33 292.79V299.1 M61.43 292.79H65.23 M61.43 299.1H65.23" stroke="#333" stroke-width="0.8" fill="none"/>
<path d="M69.84 287.43V293.89 M67.94 287.43H71.74 M67.94 293.89H71.74" stroke="#333" stroke-width="0.8" fill="none"/>
<path d="M76.34 284.04V290.23 M74.44 284.04H78.24 M74.44 290.23H78.24" stroke="#333" stroke-width="0.8" fill="none"/>
<path d="M82.85 281.28V288.12 M80.95 281.28H84.75 M80.95 288.12H84.75" stroke="#333" stroke-width="0.8" fill="none"/>
<path d="M89.35 279.54V285.73 M87.45 279.54H91.25 M87.45 285.73H91.25" stroke="#333" stroke-width="0.8" fill="none"/>
<path d="M95.85 277.58V284.16 M93.95 277.58H97.75 M93.95 284.16H97.75" stroke="#333" stroke-width="0.8" fill="none"/>
<path d="M102.36 276.06V282.69 M100.46 276.06H104.26 M100.46 282.69H104.26" stroke="#333" stroke-width="0.8" fill="none"/>
<path d="M108.86 274.64V282.08 M106.96 274.64H110.76 M106.96 282.08H110.76" stroke="#333" stroke-width="0.8" fill="none"/>
<path d="M120.24 273.31V281.58 M118.34 273.31H122.14 M118.34 281.58H122.14" stroke="#333" stroke-width="0.8" fill="none"/>
<path d="M136.5 272.06V279.96 M134.6 272.06H138.4 M134.6 279.96H138.4" stroke="#333" stroke-width="0.8" fill="none"/>
<path d="M152.76 271.5V278.53 M150.86 271.5H154.66 M150.86 278.53H154.66" stroke="#333" stroke-width="0.8" fill="none"/>
<path d="M169.02 271.5V278.53 M167.12 271.5H170.92 M167.12 278.53H170.92" stroke="#333" stroke-width="0.8" fill="none"/>
<path d="M185.28 271.89V279.21 M183.38 271.89H187.18 M183.38 279.21H187.18" stroke="#333" stroke-width="0.8" fill="none"/>
<path d="M201.54 272.04V278.97 M199.64 272.04H203.44 M199.64 278.97H203.44" stroke="#333" stroke-width="0.8" fill="none"/>
<path d="M217.8 272.38V279.21 M215.9 272.38H219.7 M215.9 279.21H219.7" stroke="#333" stroke-width="0.8" fill="none"/>
<path d="M234.06 273.27V279.38 M232.16 273.27H235.96 M232.16 279.38H235.96" stroke="#333" stroke-width="0.8" fill="none"/>
<path d="M258.45 272.74V279.42 M256.55 272.74H260.35 M256.55 279.42H260.35" stroke="#333" stroke-width="0.8" fill="none"/>
<path d="M290.97 272.33V280.8 M289.07 272.33H292.87 M289.07 280.8H292.87" stroke="#333" stroke-width="0.8" fill="none"/>
<path d="M323.49 273.2V279.48 M321.59 273.2H325.39 M321.59 279.48H325.39" stroke="#333" stroke-width="0.8" fill="none"/>
<polyline points="47.75,459.7 47.54,330.71 47.81,322.88 48.08,316.99 48.35,313.35 48.62,315.88 48.89,308.97 49.16,307.36 49.43,305.28 49.7,306.44 49.98,305.84 50.25,307.91 50.52,306.4 50.92,310.44 51.46,307.33 52.01,309.28 52.55,306.54 53.09,305.99 53.63,305.51 54.17,300.73 54.72,305.99 55.26,301.4 55.8,299.33 56.34,304.94 56.88,301.55 57.43,300.17 57.97,296.16 58.51,296.02 59.05,298.21 59.59,301.56 60.14,297.12 63.33,296.2 69.84,290.9 76.34,287.4 82.85,284.9 89.35,282.9 95.85,281.1 102.36,279.6 108.86,278.5 120.24,277.5 136.5,276.1 152.76,275.2 169.02,275.2 185.28,275.7 201.54,275.7 217.8,276 234.06,276.6 258.45,276.3 290.97,276.6 323.49,276.6" fill="none" stroke="#000" stroke-width="1.35" stroke-linejoin="round"/>
<path d="M47.54 326.36 L51.24 332.66 L43.84 332.66 Z" fill="#fff" stroke="#000" stroke-width="1.1" stroke-linejoin="miter"/>
<path d="M47.81 318.53 L51.51 324.83 L44.11 324.83 Z" fill="#fff" stroke="#000" stroke-width="1.1" stroke-linejoin="miter"/>
<path d="M48.08 312.64 L51.78 318.94 L44.38 318.94 Z" fill="#fff" stroke="#000" stroke-width="1.1" stroke-linejoin="miter"/>
<path d="M48.35 309 L52.05 315.3 L44.65 315.3 Z" fill="#fff" stroke="#000" stroke-width="1.1" stroke-linejoin="miter"/>
<path d="M48.62 311.53 L52.32 317.83 L44.92 317.83 Z" fill="#fff" stroke="#000" stroke-width="1.0" stroke-linejoin="miter"/>
<path d="M48.89 304.62 L52.59 310.92 L45.19 310.92 Z" fill="#fff" stroke="#000" stroke-width="1.0" stroke-linejoin="miter"/>
<path d="M49.16 303.01 L52.86 309.31 L45.46 309.31 Z" fill="#fff" stroke="#000" stroke-width="1.0" stroke-linejoin="miter"/>
<path d="M49.43 300.93 L53.13 307.23 L45.73 307.23 Z" fill="#fff" stroke="#000" stroke-width="1.0" stroke-linejoin="miter"/>
<path d="M49.7 302.09 L53.4 308.39 L46 308.39 Z" fill="#fff" stroke="#000" stroke-width="1.0" stroke-linejoin="miter"/>
<path d="M49.98 301.49 L53.68 307.79 L46.28 307.79 Z" fill="#fff" stroke="#000" stroke-width="1.0" stroke-linejoin="miter"/>
<path d="M50.25 303.56 L53.95 309.86 L46.55 309.86 Z" fill="#fff" stroke="#000" stroke-width="1.0" stroke-linejoin="miter"/>
<path d="M50.52 302.05 L54.22 308.35 L46.82 308.35 Z" fill="#fff" stroke="#000" stroke-width="1.0" stroke-linejoin="miter"/>
<path d="M50.92 306.09 L54.62 312.39 L47.22 312.39 Z" fill="#fff" stroke="#000" stroke-width="1.0" stroke-linejoin="miter"/>
<path d="M51.46 302.98 L55.16 309.28 L47.76 309.28 Z" fill="#fff" stroke="#000" stroke-width="1.0" stroke-linejoin="miter"/>
<path d="M52.01 304.93 L55.71 311.23 L48.31 311.23 Z" fill="#fff" stroke="#000" stroke-width="1.0" stroke-linejoin="miter"/>
<path d="M52.55 302.19 L56.25 308.49 L48.85 308.49 Z" fill="#fff" stroke="#000" stroke-width="1.0" stroke-linejoin="miter"/>
<path d="M53.09 301.64 L56.79 307.94 L49.39 307.94 Z" fill="#fff" stroke="#000" stroke-width="1.0" stroke-linejoin="miter"/>
<path d="M53.63 301.16 L57.33 307.46 L49.93 307.46 Z" fill="#fff" stroke="#000" stroke-width="1.0" stroke-linejoin="miter"/>
<path d="M54.17 296.38 L57.87 302.68 L50.47 302.68 Z" fill="#fff" stroke="#000" stroke-width="1.0" stroke-linejoin="miter"/>
<path d="M54.72 301.64 L58.42 307.94 L51.02 307.94 Z" fill="#fff" stroke="#000" stroke-width="1.0" stroke-linejoin="miter"/>
<path d="M55.26 297.05 L58.96 303.35 L51.56 303.35 Z" fill="#fff" stroke="#000" stroke-width="1.0" stroke-linejoin="miter"/>
<path d="M55.8 294.98 L59.5 301.28 L52.1 301.28 Z" fill="#fff" stroke="#000" stroke-width="1.0" stroke-linejoin="miter"/>
<path d="M56.34 300.59 L60.04 306.89 L52.64 306.89 Z" fill="#fff" stroke="#000" stroke-width="1.0" stroke-linejoin="miter"/>
<path d="M56.88 297.2 L60.58 303.5 L53.18 303.5 Z" fill="#fff" stroke="#000" stroke-width="1.0" stroke-linejoin="miter"/>
<path d="M57.43 295.82 L61.13 302.12 L53.73 302.12 Z" fill="#fff" stroke="#000" stroke-width="1.0" stroke-linejoin="miter"/>
<path d="M57.97 291.81 L61.67 298.11 L54.27 298.11 Z" fill="#fff" stroke="#000" stroke-width="1.0" stroke-linejoin="miter"/>
<path d="M58.51 291.67 L62.21 297.97 L54.81 297.97 Z" fill="#fff" stroke="#000" stroke-width="1.0" stroke-linejoin="miter"/>
<path d="M59.05 293.86 L62.75 300.16 L55.35 300.16 Z" fill="#fff" stroke="#000" stroke-width="1.0" stroke-linejoin="miter"/>
<path d="M59.59 297.21 L63.29 303.51 L55.89 303.51 Z" fill="#fff" stroke="#000" stroke-width="1.0" stroke-linejoin="miter"/>
<path d="M60.14 292.77 L63.84 299.07 L56.44 299.07 Z" fill="#fff" stroke="#000" stroke-width="1.1" stroke-linejoin="miter"/>
<path d="M63.33 291.85 L67.03 298.15 L59.63 298.15 Z" fill="#fff" stroke="#000" stroke-width="1.1" stroke-linejoin="miter"/>
<path d="M69.84 286.55 L73.54 292.85 L66.14 292.85 Z" fill="#fff" stroke="#000" stroke-width="1.1" stroke-linejoin="miter"/>
<path d="M76.34 283.05 L80.04 289.35 L72.64 289.35 Z" fill="#fff" stroke="#000" stroke-width="1.1" stroke-linejoin="miter"/>
<path d="M82.85 280.55 L86.55 286.85 L79.15 286.85 Z" fill="#fff" stroke="#000" stroke-width="1.1" stroke-linejoin="miter"/>
<path d="M89.35 278.55 L93.05 284.85 L85.65 284.85 Z" fill="#fff" stroke="#000" stroke-width="1.1" stroke-linejoin="miter"/>
<path d="M95.85 276.75 L99.55 283.05 L92.15 283.05 Z" fill="#fff" stroke="#000" stroke-width="1.1" stroke-linejoin="miter"/>
<path d="M102.36 275.25 L106.06 281.55 L98.66 281.55 Z" fill="#fff" stroke="#000" stroke-width="1.1" stroke-linejoin="miter"/>
<path d="M108.86 274.15 L112.56 280.45 L105.16 280.45 Z" fill="#fff" stroke="#000" stroke-width="1.1" stroke-linejoin="miter"/>
<path d="M120.24 273.15 L123.94 279.45 L116.54 279.45 Z" fill="#fff" stroke="#000" stroke-width="1.1" stroke-linejoin="miter"/>
<path d="M136.5 271.75 L140.2 278.05 L132.8 278.05 Z" fill="#fff" stroke="#000" stroke-width="1.1" stroke-linejoin="miter"/>
<path d="M152.76 270.85 L156.46 277.15 L149.06 277.15 Z" fill="#fff" stroke="#000" stroke-width="1.1" stroke-linejoin="miter"/>
<path d="M169.02 270.85 L172.72 277.15 L165.32 277.15 Z" fill="#fff" stroke="#000" stroke-width="1.1" stroke-linejoin="miter"/>
<path d="M185.28 271.35 L188.98 277.65 L181.58 277.65 Z" fill="#fff" stroke="#000" stroke-width="1.1" stroke-linejoin="miter"/>
<path d="M201.54 271.35 L205.24 277.65 L197.84 277.65 Z" fill="#fff" stroke="#000" stroke-width="1.1" stroke-linejoin="miter"/>
<path d="M217.8 271.65 L221.5 277.95 L214.1 277.95 Z" fill="#fff" stroke="#000" stroke-width="1.1" stroke-linejoin="miter"/>
<path d="M234.06 272.25 L237.76 278.55 L230.36 278.55 Z" fill="#fff" stroke="#000" stroke-width="1.1" stroke-linejoin="miter"/>
<path d="M258.45 271.95 L262.15 278.25 L254.75 278.25 Z" fill="#fff" stroke="#000" stroke-width="1.1" stroke-linejoin="miter"/>
<path d="M290.97 272.25 L294.67 278.55 L287.27 278.55 Z" fill="#fff" stroke="#000" stroke-width="1.1" stroke-linejoin="miter"/>
<path d="M323.49 272.25 L327.19 278.55 L319.79 278.55 Z" fill="#fff" stroke="#000" stroke-width="1.1" stroke-linejoin="miter"/>
</g>
<g>
<path d="M47.54 429.76V442.39 M45.64 442.39H49.44" stroke="#6c6c6c" stroke-width="1.15" fill="none"/><path d="M47.54 363.04V429.76 M45.64 363.04H49.44" stroke="#111" stroke-width="1.15" fill="none"/>
<path d="M47.81 419.97V426.45 M45.91 426.45H49.71" stroke="#6c6c6c" stroke-width="1.15" fill="none"/><path d="M47.81 360.17V419.97 M45.91 360.17H49.71" stroke="#111" stroke-width="1.15" fill="none"/>
<path d="M48.08 411.97V425.51 M46.18 425.51H49.98" stroke="#6c6c6c" stroke-width="1.15" fill="none"/><path d="M48.08 361.57V411.97 M46.18 361.57H49.98" stroke="#111" stroke-width="1.15" fill="none"/>
<path d="M48.35 406.15V410.37 M46.45 410.37H50.25" stroke="#6c6c6c" stroke-width="1.15" fill="none"/><path d="M48.35 364.98V406.15 M46.45 364.98H50.25" stroke="#111" stroke-width="1.15" fill="none"/>
<path d="M48.62 402.49V415.44 M46.72 415.44H50.52" stroke="#6c6c6c" stroke-width="1.15" fill="none"/><path d="M48.62 363.68V402.49 M46.72 363.68H50.52" stroke="#111" stroke-width="1.15" fill="none"/>
<path d="M48.89 398.82V402.82 M46.99 402.82H50.79" stroke="#6c6c6c" stroke-width="1.15" fill="none"/><path d="M48.89 362.7V398.82 M46.99 362.7H50.79" stroke="#111" stroke-width="1.15" fill="none"/>
<path d="M49.16 396.33V408.58 M47.26 408.58H51.06" stroke="#6c6c6c" stroke-width="1.15" fill="none"/><path d="M49.16 365.41V396.33 M47.26 365.41H51.06" stroke="#111" stroke-width="1.15" fill="none"/>
<path d="M49.43 393.04V399.52 M47.53 399.52H51.33" stroke="#6c6c6c" stroke-width="1.15" fill="none"/><path d="M49.43 363.82V393.04 M47.53 363.82H51.33" stroke="#111" stroke-width="1.15" fill="none"/>
<path d="M49.7 395.87V406.69 M47.8 406.69H51.6" stroke="#6c6c6c" stroke-width="1.15" fill="none"/><path d="M49.7 364.39V395.87 M47.8 364.39H51.6" stroke="#111" stroke-width="1.15" fill="none"/>
<path d="M49.98 392.11V403.76 M48.08 403.76H51.88" stroke="#6c6c6c" stroke-width="1.15" fill="none"/><path d="M49.98 362.97V392.11 M48.08 362.97H51.88" stroke="#111" stroke-width="1.15" fill="none"/>
<path d="M50.25 389.66V401.48 M48.35 401.48H52.15" stroke="#6c6c6c" stroke-width="1.15" fill="none"/><path d="M50.25 356.98V389.66 M48.35 356.98H52.15" stroke="#111" stroke-width="1.15" fill="none"/>
<path d="M50.52 387.8V394.84 M48.62 394.84H52.42" stroke="#6c6c6c" stroke-width="1.15" fill="none"/><path d="M50.52 361.3V387.8 M48.62 361.3H52.42" stroke="#111" stroke-width="1.15" fill="none"/>
<path d="M50.92 386.02V417.05 M49.02 417.05H52.82" stroke="#6c6c6c" stroke-width="1.15" fill="none"/><path d="M50.92 361.15V386.02 M49.02 361.15H52.82" stroke="#111" stroke-width="1.15" fill="none"/>
<path d="M51.46 385.32V417.27 M49.56 417.27H53.36" stroke="#6c6c6c" stroke-width="1.15" fill="none"/><path d="M51.46 361.64V385.32 M49.56 361.64H53.36" stroke="#111" stroke-width="1.15" fill="none"/>
<path d="M52.01 382.8V411.11 M50.11 411.11H53.91" stroke="#6c6c6c" stroke-width="1.15" fill="none"/><path d="M52.01 361.82V382.8 M50.11 361.82H53.91" stroke="#111" stroke-width="1.15" fill="none"/>
<path d="M52.55 383.63V420.36 M50.65 420.36H54.45" stroke="#6c6c6c" stroke-width="1.15" fill="none"/><path d="M52.55 367.59V383.63 M50.65 367.59H54.45" stroke="#111" stroke-width="1.15" fill="none"/>
<path d="M53.09 381.93V416.77 M51.19 416.77H54.99" stroke="#6c6c6c" stroke-width="1.15" fill="none"/><path d="M53.09 362.18V381.93 M51.19 362.18H54.99" stroke="#111" stroke-width="1.15" fill="none"/>
<path d="M53.63 377.66V412.21 M51.73 412.21H55.53" stroke="#6c6c6c" stroke-width="1.15" fill="none"/><path d="M53.63 360.45V377.66 M51.73 360.45H55.53" stroke="#111" stroke-width="1.15" fill="none"/>
<path d="M54.17 376.6V415.41 M52.27 415.41H56.07" stroke="#6c6c6c" stroke-width="1.15" fill="none"/><path d="M54.17 362.2V376.6 M52.27 362.2H56.07" stroke="#111" stroke-width="1.15" fill="none"/>
<path d="M54.72 373.05V430.55 M52.82 430.55H56.62" stroke="#6c6c6c" stroke-width="1.15" fill="none"/><path d="M54.72 359V373.05 M52.82 359H56.62" stroke="#111" stroke-width="1.15" fill="none"/>
<path d="M55.26 373.44V415.47 M53.36 415.47H57.16" stroke="#6c6c6c" stroke-width="1.15" fill="none"/><path d="M55.26 364.95V373.44 M53.36 364.95H57.16" stroke="#111" stroke-width="1.15" fill="none"/>
<path d="M55.8 372.52V416.4 M53.9 416.4H57.7" stroke="#6c6c6c" stroke-width="1.15" fill="none"/><path d="M55.8 364.39V372.52 M53.9 364.39H57.7" stroke="#111" stroke-width="1.15" fill="none"/>
<path d="M56.34 367.11V412.92 M54.44 412.92H58.24" stroke="#6c6c6c" stroke-width="1.15" fill="none"/><path d="M56.34 363.17V367.11 M54.44 363.17H58.24" stroke="#111" stroke-width="1.15" fill="none"/>
<path d="M56.88 366.82V421.5 M54.98 421.5H58.78" stroke="#6c6c6c" stroke-width="1.15" fill="none"/><path d="M56.88 360.34V366.82 M54.98 360.34H58.78" stroke="#111" stroke-width="1.15" fill="none"/>
<path d="M57.43 366V417 M55.53 417H59.33" stroke="#6c6c6c" stroke-width="1.15" fill="none"/><path d="M57.43 360.61V366 M55.53 360.61H59.33" stroke="#111" stroke-width="1.15" fill="none"/>
<path d="M57.97 362.92V444.3 M56.07 444.3H59.87" stroke="#6c6c6c" stroke-width="1.15" fill="none"/><path d="M57.97 357.74V362.92 M56.07 357.74H59.87" stroke="#111" stroke-width="1.15" fill="none"/>
<path d="M58.51 361.44V429.87 M56.61 429.87H60.41" stroke="#6c6c6c" stroke-width="1.15" fill="none"/><path d="M58.51 356.94V361.44 M56.61 356.94H60.41" stroke="#111" stroke-width="1.15" fill="none"/>
<path d="M59.05 364.09V422 M57.15 422H60.95" stroke="#6c6c6c" stroke-width="1.15" fill="none"/><path d="M59.05 362.09V364.09 M57.15 362.09H60.95" stroke="#111" stroke-width="1.15" fill="none"/>
<path d="M59.59 360.64V441.6 M57.69 441.6H61.49" stroke="#6c6c6c" stroke-width="1.15" fill="none"/><path d="M59.59 358.64V360.64 M57.69 358.64H61.49" stroke="#111" stroke-width="1.15" fill="none"/>
<path d="M60.14 362.53V432.1 M58.24 432.1H62.04" stroke="#6c6c6c" stroke-width="1.15" fill="none"/><path d="M60.14 360.53V362.53 M58.24 360.53H62.04" stroke="#111" stroke-width="1.15" fill="none"/>
<path d="M63.33 354.53V366.58 M61.43 354.53H65.23 M61.43 366.58H65.23" stroke="#4a4a4a" stroke-width="0.8" fill="none"/>
<path d="M69.84 351.64V363.67 M67.94 351.64H71.74 M67.94 363.67H71.74" stroke="#4a4a4a" stroke-width="0.8" fill="none"/>
<path d="M76.34 347.92V359.77 M74.44 347.92H78.24 M74.44 359.77H78.24" stroke="#4a4a4a" stroke-width="0.8" fill="none"/>
<path d="M82.85 346.55V357.66 M80.95 346.55H84.75 M80.95 357.66H84.75" stroke="#4a4a4a" stroke-width="0.8" fill="none"/>
<path d="M89.35 345.59V355.94 M87.45 345.59H91.25 M87.45 355.94H91.25" stroke="#4a4a4a" stroke-width="0.8" fill="none"/>
<path d="M95.85 344.83V356.44 M93.95 344.83H97.75 M93.95 356.44H97.75" stroke="#4a4a4a" stroke-width="0.8" fill="none"/>
<path d="M102.36 344.08V356.02 M100.46 344.08H104.26 M100.46 356.02H104.26" stroke="#4a4a4a" stroke-width="0.8" fill="none"/>
<path d="M108.86 341.17V355.83 M106.96 341.17H110.76 M106.96 355.83H110.76" stroke="#4a4a4a" stroke-width="0.8" fill="none"/>
<path d="M120.24 341.84V352.74 M118.34 341.84H122.14 M118.34 352.74H122.14" stroke="#4a4a4a" stroke-width="0.8" fill="none"/>
<path d="M136.5 337.75V352.45 M134.6 337.75H138.4 M134.6 352.45H138.4" stroke="#4a4a4a" stroke-width="0.8" fill="none"/>
<path d="M152.76 338.07V349.35 M150.86 338.07H154.66 M150.86 349.35H154.66" stroke="#4a4a4a" stroke-width="0.8" fill="none"/>
<path d="M169.02 336.07V348.03 M167.12 336.07H170.92 M167.12 348.03H170.92" stroke="#4a4a4a" stroke-width="0.8" fill="none"/>
<path d="M185.28 334.44V348.5 M183.38 334.44H187.18 M183.38 348.5H187.18" stroke="#4a4a4a" stroke-width="0.8" fill="none"/>
<path d="M201.54 333.43V347.5 M199.64 333.43H203.44 M199.64 347.5H203.44" stroke="#4a4a4a" stroke-width="0.8" fill="none"/>
<path d="M217.8 334.02V346.32 M215.9 334.02H219.7 M215.9 346.32H219.7" stroke="#4a4a4a" stroke-width="0.8" fill="none"/>
<path d="M234.06 333.09V343.66 M232.16 333.09H235.96 M232.16 343.66H235.96" stroke="#4a4a4a" stroke-width="0.8" fill="none"/>
<path d="M258.45 332.24V344.72 M256.55 332.24H260.35 M256.55 344.72H260.35" stroke="#4a4a4a" stroke-width="0.8" fill="none"/>
<path d="M290.97 329.24V341.27 M289.07 329.24H292.87 M289.07 341.27H292.87" stroke="#4a4a4a" stroke-width="0.8" fill="none"/>
<path d="M323.49 327.74V342.24 M321.59 327.74H325.39 M321.59 342.24H325.39" stroke="#4a4a4a" stroke-width="0.8" fill="none"/>
<polyline points="47.75,459.7 47.54,429.76 47.81,419.97 48.08,411.97 48.35,406.15 48.62,402.49 48.89,398.82 49.16,396.33 49.43,393.04 49.7,395.87 49.98,392.11 50.25,389.66 50.52,387.8 50.92,386.02 51.46,385.32 52.01,382.8 52.55,383.63 53.09,381.93 53.63,377.66 54.17,376.6 54.72,373.05 55.26,373.44 55.8,372.52 56.34,367.11 56.88,366.82 57.43,366 57.97,362.92 58.51,361.44 59.05,364.09 59.59,360.64 60.14,362.53 63.33,359.9 69.84,357 76.34,353.2 82.85,351.5 89.35,350.2 95.85,350 102.36,349.4 108.86,347.7 120.24,346.7 136.5,344.3 152.76,343.1 169.02,341.4 185.28,340.7 201.54,339.7 217.8,339.5 234.06,337.8 258.45,337.8 290.97,334.6 323.49,334.2" fill="none" stroke="#000" stroke-width="1.35" stroke-linejoin="round"/>
<rect x="44.44" y="426.66" width="6.2" height="6.2" fill="#000"/>
<rect x="44.71" y="416.87" width="6.2" height="6.2" fill="#000"/>
<rect x="44.98" y="408.87" width="6.2" height="6.2" fill="#000"/>
<rect x="45.25" y="403.05" width="6.2" height="6.2" fill="#000"/>
<rect x="45.52" y="399.39" width="6.2" height="6.2" fill="#000"/>
<rect x="45.79" y="395.72" width="6.2" height="6.2" fill="#000"/>
<rect x="46.06" y="393.23" width="6.2" height="6.2" fill="#000"/>
<rect x="46.33" y="389.94" width="6.2" height="6.2" fill="#000"/>
<rect x="46.6" y="392.77" width="6.2" height="6.2" fill="#000"/>
<rect x="46.88" y="389.01" width="6.2" height="6.2" fill="#000"/>
<rect x="47.15" y="386.56" width="6.2" height="6.2" fill="#000"/>
<rect x="47.42" y="384.7" width="6.2" height="6.2" fill="#000"/>
<rect x="47.82" y="382.92" width="6.2" height="6.2" fill="#000"/>
<rect x="48.36" y="382.22" width="6.2" height="6.2" fill="#000"/>
<rect x="48.91" y="379.7" width="6.2" height="6.2" fill="#000"/>
<rect x="49.45" y="380.53" width="6.2" height="6.2" fill="#000"/>
<rect x="49.99" y="378.83" width="6.2" height="6.2" fill="#000"/>
<rect x="50.53" y="374.56" width="6.2" height="6.2" fill="#000"/>
<rect x="51.07" y="373.5" width="6.2" height="6.2" fill="#000"/>
<rect x="51.62" y="369.95" width="6.2" height="6.2" fill="#000"/>
<rect x="52.16" y="370.34" width="6.2" height="6.2" fill="#000"/>
<rect x="52.7" y="369.42" width="6.2" height="6.2" fill="#000"/>
<rect x="53.24" y="364.01" width="6.2" height="6.2" fill="#000"/>
<rect x="53.78" y="363.72" width="6.2" height="6.2" fill="#000"/>
<rect x="54.33" y="362.9" width="6.2" height="6.2" fill="#000"/>
<rect x="54.87" y="359.82" width="6.2" height="6.2" fill="#000"/>
<rect x="55.41" y="358.34" width="6.2" height="6.2" fill="#000"/>
<rect x="55.95" y="360.99" width="6.2" height="6.2" fill="#000"/>
<rect x="56.49" y="357.54" width="6.2" height="6.2" fill="#000"/>
<rect x="57.04" y="359.43" width="6.2" height="6.2" fill="#000"/>
<rect x="60.23" y="356.8" width="6.2" height="6.2" fill="#000"/>
<rect x="66.74" y="353.9" width="6.2" height="6.2" fill="#000"/>
<rect x="73.24" y="350.1" width="6.2" height="6.2" fill="#000"/>
<rect x="79.75" y="348.4" width="6.2" height="6.2" fill="#000"/>
<rect x="86.25" y="347.1" width="6.2" height="6.2" fill="#000"/>
<rect x="92.75" y="346.9" width="6.2" height="6.2" fill="#000"/>
<rect x="99.26" y="346.3" width="6.2" height="6.2" fill="#000"/>
<rect x="105.76" y="344.6" width="6.2" height="6.2" fill="#000"/>
<rect x="117.14" y="343.6" width="6.2" height="6.2" fill="#000"/>
<rect x="133.4" y="341.2" width="6.2" height="6.2" fill="#000"/>
<rect x="149.66" y="340" width="6.2" height="6.2" fill="#000"/>
<rect x="165.92" y="338.3" width="6.2" height="6.2" fill="#000"/>
<rect x="182.18" y="337.6" width="6.2" height="6.2" fill="#000"/>
<rect x="198.44" y="336.6" width="6.2" height="6.2" fill="#000"/>
<rect x="214.7" y="336.4" width="6.2" height="6.2" fill="#000"/>
<rect x="230.96" y="334.7" width="6.2" height="6.2" fill="#000"/>
<rect x="255.35" y="334.7" width="6.2" height="6.2" fill="#000"/>
<rect x="287.87" y="331.5" width="6.2" height="6.2" fill="#000"/>
<rect x="320.39" y="331.1" width="6.2" height="6.2" fill="#000"/>
</g>
</g>
<path d="M47.4 243.2V458.3" stroke="#000" stroke-width="1.15" fill="none"/>
<path d="M46.7 457.7H340.58" stroke="#000" stroke-width="1.1" fill="none"/>
<path d="M42.6 457.7H47.4 M42.6 380.6H47.4 M42.6 303.5H47.4 M44.8 434.49H47.4 M44.8 420.91H47.4 M44.8 411.28H47.4 M44.8 403.81H47.4 M44.8 397.7H47.4 M44.8 392.54H47.4 M44.8 388.07H47.4 M44.8 384.13H47.4 M44.8 357.39H47.4 M44.8 343.81H47.4 M44.8 334.18H47.4 M44.8 326.71H47.4 M44.8 320.6H47.4 M44.8 315.44H47.4 M44.8 310.97H47.4 M44.8 307.03H47.4 M44.8 280.29H47.4 M44.8 266.71H47.4 M44.8 257.08H47.4 M44.8 249.61H47.4 M44.8 243.5H47.4" stroke="#000" stroke-width="1" fill="none"/>
<path d="M47.4 457.7V461.9 M144.96 457.7V461.9 M242.52 457.7V461.9 M340.08 457.7V461.9 M96.18 457.7V460 M193.74 457.7V460 M291.3 457.7V460" stroke="#000" stroke-width="1" fill="none"/>
<path d="M102.6 400.6H131" stroke="#000" stroke-width="1.45"/>
<circle cx="117.1" cy="400.6" r="3.15" fill="#fff" stroke="#000" stroke-width="1.15"/>
<text x="134.5" y="404.7" font-size="12.8">heart</text>
<path d="M102.6 415.6H131" stroke="#000" stroke-width="1.45"/>
<path d="M117.1 412.4V418.8" stroke="#000" stroke-width="1.1" fill="none"/>
<text x="134.5" y="419.7" font-size="12.8">muscle</text>
<path d="M102.6 431H131" stroke="#000" stroke-width="1.45"/>
<path d="M117.1 426.95 L120.8 433.25 L113.4 433.25 Z" fill="#fff" stroke="#000" stroke-width="1.1" stroke-linejoin="miter"/>
<text x="134.5" y="435.1" font-size="12.8">kidney</text>
<path d="M102.6 446H131" stroke="#000" stroke-width="1.45"/>
<rect x="114" y="442.9" width="6.2" height="6.2" fill="#000"/>
<text x="134.5" y="450.1" font-size="12.8">tumor</text>
<text x="134.8" y="304.8" font-size="11.45" fill="#2b2b2b" stroke="none">b) [<tspan font-size="6.64" dy="-4.2" letter-spacing="-0.35">68</tspan><tspan dy="4.2">Ga]DOTA-FFK(Sub-KuE)</tspan></text>
<text x="149" y="317.6" font-size="11" fill="#2b2b2b" stroke="none"><tspan font-size="6.38" dy="-4.2" letter-spacing="-0.35">68</tspan><tspan dy="4.2">Ga-</tspan><tspan font-weight="bold">10</tspan></text>
</g>
<g>
<clipPath id="cp2"><rect x="46.85" y="481.6" width="320" height="221"/></clipPath>
<text x="39.2" y="706.15" text-anchor="end" font-size="11.8">0,1</text>
<text x="39.2" y="628.95" text-anchor="end" font-size="11.8">1</text>
<text x="39.2" y="551.75" text-anchor="end" font-size="11.8">10</text>
<text x="47.15" y="719" text-anchor="middle" font-size="12">0</text>
<text x="144.71" y="719" text-anchor="middle" font-size="12">30</text>
<text x="242.27" y="719" text-anchor="middle" font-size="12">60</text>
<text x="339.83" y="719" text-anchor="middle" font-size="12">90</text>
<text transform="translate(13.9 603.8) rotate(-90)" text-anchor="middle" font-size="12.65">activity accumulation [% ID/mL]</text>
<g clip-path="url(#cp2)">
<g>
<path d="M47.59 526.78V528.99 M45.69 526.78H49.49 M45.69 528.99H49.49" stroke="#222" stroke-width="0.8" fill="none"/>
<path d="M47.86 521.71V524.28 M45.96 521.71H49.76 M45.96 524.28H49.76" stroke="#222" stroke-width="0.8" fill="none"/>
<path d="M48.13 520.15V523.84 M46.23 520.15H50.03 M46.23 523.84H50.03" stroke="#222" stroke-width="0.8" fill="none"/>
<path d="M48.4 521.07V522.94 M46.5 521.07H50.3 M46.5 522.94H50.3" stroke="#222" stroke-width="0.8" fill="none"/>
<path d="M48.67 521.68V524.34 M46.77 521.68H50.57 M46.77 524.34H50.57" stroke="#222" stroke-width="0.8" fill="none"/>
<path d="M48.94 522.92V526.43 M47.04 522.92H50.84 M47.04 526.43H50.84" stroke="#222" stroke-width="0.8" fill="none"/>
<path d="M49.21 524.74V528.15 M47.31 524.74H51.11 M47.31 528.15H51.11" stroke="#222" stroke-width="0.8" fill="none"/>
<path d="M49.48 527.38V529.26 M47.58 527.38H51.38 M47.58 529.26H51.38" stroke="#222" stroke-width="0.8" fill="none"/>
<path d="M49.75 529.21V531.08 M47.85 529.21H51.65 M47.85 531.08H51.65" stroke="#222" stroke-width="0.8" fill="none"/>
<path d="M50.03 530.57V532.5 M48.13 530.57H51.93 M48.13 532.5H51.93" stroke="#222" stroke-width="0.8" fill="none"/>
<path d="M50.3 531.06V534.79 M48.4 531.06H52.2 M48.4 534.79H52.2" stroke="#222" stroke-width="0.8" fill="none"/>
<path d="M50.57 533.14V535.48 M48.67 533.14H52.47 M48.67 535.48H52.47" stroke="#222" stroke-width="0.8" fill="none"/>
<path d="M50.97 534.15V537.51 M49.07 534.15H52.87 M49.07 537.51H52.87" stroke="#222" stroke-width="0.8" fill="none"/>
<path d="M51.51 535.65V539.34 M49.61 535.65H53.41 M49.61 539.34H53.41" stroke="#222" stroke-width="0.8" fill="none"/>
<path d="M52.06 537.67V540.19 M50.16 537.67H53.96 M50.16 540.19H53.96" stroke="#222" stroke-width="0.8" fill="none"/>
<path d="M52.6 539.08V541.45 M50.7 539.08H54.5 M50.7 541.45H54.5" stroke="#222" stroke-width="0.8" fill="none"/>
<path d="M53.14 539.95V543.76 M51.24 539.95H55.04 M51.24 543.76H55.04" stroke="#222" stroke-width="0.8" fill="none"/>
<path d="M53.68 542.07V545.16 M51.78 542.07H55.58 M51.78 545.16H55.58" stroke="#222" stroke-width="0.8" fill="none"/>
<path d="M54.22 544.14V546.49 M52.32 544.14H56.12 M52.32 546.49H56.12" stroke="#222" stroke-width="0.8" fill="none"/>
<path d="M54.77 545.29V548.6 M52.87 545.29H56.67 M52.87 548.6H56.67" stroke="#222" stroke-width="0.8" fill="none"/>
<path d="M55.31 547.35V549.81 M53.41 547.35H57.21 M53.41 549.81H57.21" stroke="#222" stroke-width="0.8" fill="none"/>
<path d="M55.85 548.81V551.19 M53.95 548.81H57.75 M53.95 551.19H57.75" stroke="#222" stroke-width="0.8" fill="none"/>
<path d="M56.39 550.29V552.1 M54.49 550.29H58.29 M54.49 552.1H58.29" stroke="#222" stroke-width="0.8" fill="none"/>
<path d="M56.93 550.7V554.09 M55.03 550.7H58.83 M55.03 554.09H58.83" stroke="#222" stroke-width="0.8" fill="none"/>
<path d="M57.48 551.62V555.35 M55.58 551.62H59.38 M55.58 555.35H59.38" stroke="#222" stroke-width="0.8" fill="none"/>
<path d="M58.02 552.89V556.02 M56.12 552.89H59.92 M56.12 556.02H59.92" stroke="#222" stroke-width="0.8" fill="none"/>
<path d="M58.56 553.54V557.32 M56.66 553.54H60.46 M56.66 557.32H60.46" stroke="#222" stroke-width="0.8" fill="none"/>
<path d="M59.1 555.48V557.33 M57.2 555.48H61 M57.2 557.33H61" stroke="#222" stroke-width="0.8" fill="none"/>
<path d="M59.64 555.98V558.27 M57.74 555.98H61.54 M57.74 558.27H61.54" stroke="#222" stroke-width="0.8" fill="none"/>
<path d="M60.19 556.42V559.22 M58.29 556.42H62.09 M58.29 559.22H62.09" stroke="#222" stroke-width="0.8" fill="none"/>
<path d="M63.38 557.72V565.98 M61.48 557.72H65.28 M61.48 565.98H65.28" stroke="#333" stroke-width="0.8" fill="none"/>
<path d="M69.89 563.93V572.17 M67.99 563.93H71.79 M67.99 572.17H71.79" stroke="#333" stroke-width="0.8" fill="none"/>
<path d="M76.39 568.87V575.67 M74.49 568.87H78.29 M74.49 575.67H78.29" stroke="#333" stroke-width="0.8" fill="none"/>
<path d="M82.9 571.82V578.28 M81 571.82H84.8 M81 578.28H84.8" stroke="#333" stroke-width="0.8" fill="none"/>
<path d="M89.4 573.12V580.03 M87.5 573.12H91.3 M87.5 580.03H91.3" stroke="#333" stroke-width="0.8" fill="none"/>
<path d="M95.9 574.45V581.52 M94 574.45H97.8 M94 581.52H97.8" stroke="#333" stroke-width="0.8" fill="none"/>
<path d="M102.41 574.56V582.74 M100.51 574.56H104.31 M100.51 582.74H104.31" stroke="#333" stroke-width="0.8" fill="none"/>
<path d="M108.91 575.8V582.08 M107.01 575.8H110.81 M107.01 582.08H110.81" stroke="#333" stroke-width="0.8" fill="none"/>
<path d="M120.29 577.1V584.96 M118.39 577.1H122.19 M118.39 584.96H122.19" stroke="#333" stroke-width="0.8" fill="none"/>
<path d="M136.55 578.77V586.47 M134.65 578.77H138.45 M134.65 586.47H138.45" stroke="#333" stroke-width="0.8" fill="none"/>
<path d="M152.81 580.77V588.69 M150.91 580.77H154.71 M150.91 588.69H154.71" stroke="#333" stroke-width="0.8" fill="none"/>
<path d="M169.07 581.53V589.32 M167.17 581.53H170.97 M167.17 589.32H170.97" stroke="#333" stroke-width="0.8" fill="none"/>
<path d="M185.33 582.02V589.38 M183.43 582.02H187.23 M183.43 589.38H187.23" stroke="#333" stroke-width="0.8" fill="none"/>
<path d="M201.59 583.74V590.39 M199.69 583.74H203.49 M199.69 590.39H203.49" stroke="#333" stroke-width="0.8" fill="none"/>
<path d="M217.85 584.85V591.48 M215.95 584.85H219.75 M215.95 591.48H219.75" stroke="#333" stroke-width="0.8" fill="none"/>
<path d="M234.11 585.5V592.24 M232.21 585.5H236.01 M232.21 592.24H236.01" stroke="#333" stroke-width="0.8" fill="none"/>
<path d="M250.37 587.42V595.23 M248.47 587.42H252.27 M248.47 595.23H252.27" stroke="#333" stroke-width="0.8" fill="none"/>
<path d="M266.63 591.02V597.04 M264.73 591.02H268.53 M264.73 597.04H268.53" stroke="#333" stroke-width="0.8" fill="none"/>
<path d="M282.89 592.88V599.2 M280.99 592.88H284.79 M280.99 599.2H284.79" stroke="#333" stroke-width="0.8" fill="none"/>
<path d="M299.15 595.05V602.79 M297.25 595.05H301.05 M297.25 602.79H301.05" stroke="#333" stroke-width="0.8" fill="none"/>
<path d="M315.41 598.03V604.47 M313.51 598.03H317.31 M313.51 604.47H317.31" stroke="#333" stroke-width="0.8" fill="none"/>
<path d="M331.67 602.93V608.92 M329.77 602.93H333.57 M329.77 608.92H333.57" stroke="#333" stroke-width="0.8" fill="none"/>
<polyline points="47.8,704.2 47.59,527.88 47.86,523 48.13,522 48.4,522 48.67,523.01 48.94,524.67 49.21,526.45 49.48,528.32 49.75,530.14 50.03,531.53 50.3,532.92 50.57,534.31 50.97,535.83 51.51,537.5 52.06,538.93 52.6,540.26 53.14,541.85 53.68,543.62 54.22,545.31 54.77,546.95 55.31,548.58 55.85,550 56.39,551.2 56.93,552.4 57.48,553.48 58.02,554.46 58.56,555.43 59.1,556.4 59.64,557.12 60.19,557.82 63.38,561.4 69.89,567.6 76.39,571.9 82.9,574.7 89.4,576.2 95.9,577.6 102.41,578.2 108.91,578.6 120.29,580.6 136.55,582.2 152.81,584.3 169.07,585 185.33,585.3 201.59,586.7 217.85,587.8 234.11,588.5 250.37,590.9 266.63,593.7 282.89,595.7 299.15,598.5 315.41,600.9 331.67,605.6" fill="none" stroke="#000" stroke-width="1.35" stroke-linejoin="round"/>
<circle cx="47.59" cy="527.88" r="3.15" fill="#fff" stroke="#000" stroke-width="1.15"/>
<circle cx="47.86" cy="523" r="3.15" fill="#fff" stroke="#000" stroke-width="1.15"/>
<circle cx="48.13" cy="522" r="3.15" fill="#fff" stroke="#000" stroke-width="1.15"/>
<circle cx="48.4" cy="522" r="3.15" fill="#fff" stroke="#000" stroke-width="1.15"/>
<circle cx="48.67" cy="523.01" r="3.3" fill="#fff" stroke="#000" stroke-width="1.0"/>
<circle cx="48.94" cy="524.67" r="3.3" fill="#fff" stroke="#000" stroke-width="1.0"/>
<circle cx="49.21" cy="526.45" r="3.3" fill="#fff" stroke="#000" stroke-width="1.0"/>
<circle cx="49.48" cy="528.32" r="3.3" fill="#fff" stroke="#000" stroke-width="1.0"/>
<circle cx="49.75" cy="530.14" r="3.3" fill="#fff" stroke="#000" stroke-width="1.0"/>
<circle cx="50.03" cy="531.53" r="3.3" fill="#fff" stroke="#000" stroke-width="1.0"/>
<circle cx="50.3" cy="532.92" r="3.3" fill="#fff" stroke="#000" stroke-width="1.0"/>
<circle cx="50.57" cy="534.31" r="3.3" fill="#fff" stroke="#000" stroke-width="1.0"/>
<circle cx="50.97" cy="535.83" r="3.3" fill="#fff" stroke="#000" stroke-width="1.0"/>
<circle cx="51.51" cy="537.5" r="3.3" fill="#fff" stroke="#000" stroke-width="1.0"/>
<circle cx="52.06" cy="538.93" r="3.3" fill="#fff" stroke="#000" stroke-width="1.0"/>
<circle cx="52.6" cy="540.26" r="3.3" fill="#fff" stroke="#000" stroke-width="1.0"/>
<circle cx="53.14" cy="541.85" r="3.3" fill="#fff" stroke="#000" stroke-width="1.0"/>
<circle cx="53.68" cy="543.62" r="3.3" fill="#fff" stroke="#000" stroke-width="1.0"/>
<circle cx="54.22" cy="545.31" r="3.3" fill="#fff" stroke="#000" stroke-width="1.0"/>
<circle cx="54.77" cy="546.95" r="3.3" fill="#fff" stroke="#000" stroke-width="1.0"/>
<circle cx="55.31" cy="548.58" r="3.3" fill="#fff" stroke="#000" stroke-width="1.0"/>
<circle cx="55.85" cy="550" r="3.3" fill="#fff" stroke="#000" stroke-width="1.0"/>
<circle cx="56.39" cy="551.2" r="3.3" fill="#fff" stroke="#000" stroke-width="1.0"/>
<circle cx="56.93" cy="552.4" r="3.3" fill="#fff" stroke="#000" stroke-width="1.0"/>
<circle cx="57.48" cy="553.48" r="3.3" fill="#fff" stroke="#000" stroke-width="1.0"/>
<circle cx="58.02" cy="554.46" r="3.3" fill="#fff" stroke="#000" stroke-width="1.0"/>
<circle cx="58.56" cy="555.43" r="3.3" fill="#fff" stroke="#000" stroke-width="1.0"/>
<circle cx="59.1" cy="556.4" r="3.3" fill="#fff" stroke="#000" stroke-width="1.0"/>
<circle cx="59.64" cy="557.12" r="3.3" fill="#fff" stroke="#000" stroke-width="1.0"/>
<circle cx="60.19" cy="557.82" r="3.15" fill="#fff" stroke="#000" stroke-width="1.15"/>
<circle cx="63.38" cy="561.4" r="3.15" fill="#fff" stroke="#000" stroke-width="1.15"/>
<circle cx="69.89" cy="567.6" r="3.15" fill="#fff" stroke="#000" stroke-width="1.15"/>
<circle cx="76.39" cy="571.9" r="3.15" fill="#fff" stroke="#000" stroke-width="1.15"/>
<circle cx="82.9" cy="574.7" r="3.15" fill="#fff" stroke="#000" stroke-width="1.15"/>
<circle cx="89.4" cy="576.2" r="3.15" fill="#fff" stroke="#000" stroke-width="1.15"/>
<circle cx="95.9" cy="577.6" r="3.15" fill="#fff" stroke="#000" stroke-width="1.15"/>
<circle cx="102.41" cy="578.2" r="3.15" fill="#fff" stroke="#000" stroke-width="1.15"/>
<circle cx="108.91" cy="578.6" r="3.15" fill="#fff" stroke="#000" stroke-width="1.15"/>
<circle cx="120.29" cy="580.6" r="3.15" fill="#fff" stroke="#000" stroke-width="1.15"/>
<circle cx="136.55" cy="582.2" r="3.15" fill="#fff" stroke="#000" stroke-width="1.15"/>
<circle cx="152.81" cy="584.3" r="3.15" fill="#fff" stroke="#000" stroke-width="1.15"/>
<circle cx="169.07" cy="585" r="3.15" fill="#fff" stroke="#000" stroke-width="1.15"/>
<circle cx="185.33" cy="585.3" r="3.15" fill="#fff" stroke="#000" stroke-width="1.15"/>
<circle cx="201.59" cy="586.7" r="3.15" fill="#fff" stroke="#000" stroke-width="1.15"/>
<circle cx="217.85" cy="587.8" r="3.15" fill="#fff" stroke="#000" stroke-width="1.15"/>
<circle cx="234.11" cy="588.5" r="3.15" fill="#fff" stroke="#000" stroke-width="1.15"/>
<circle cx="250.37" cy="590.9" r="3.15" fill="#fff" stroke="#000" stroke-width="1.15"/>
<circle cx="266.63" cy="593.7" r="3.15" fill="#fff" stroke="#000" stroke-width="1.15"/>
<circle cx="282.89" cy="595.7" r="3.15" fill="#fff" stroke="#000" stroke-width="1.15"/>
<circle cx="299.15" cy="598.5" r="3.15" fill="#fff" stroke="#000" stroke-width="1.15"/>
<circle cx="315.41" cy="600.9" r="3.15" fill="#fff" stroke="#000" stroke-width="1.15"/>
<circle cx="331.67" cy="605.6" r="3.15" fill="#fff" stroke="#000" stroke-width="1.15"/>
</g>
<g>
<path d="M50.57 607.01V622.44 M48.67 607.01H52.47 M48.67 622.44H52.47" stroke="#777" stroke-width="1.15" fill="none"/>
<path d="M52.6 603.58V621.57 M50.7 603.58H54.5 M50.7 621.57H54.5" stroke="#777" stroke-width="1.15" fill="none"/>
<path d="M57.48 605.95V627.07 M55.58 605.95H59.38 M55.58 627.07H59.38" stroke="#777" stroke-width="1.15" fill="none"/>
<path d="M58.56 603.04V621.79 M56.66 603.04H60.46 M56.66 621.79H60.46" stroke="#777" stroke-width="1.15" fill="none"/>
<path d="M59.1 599.81V623.77 M57.2 599.81H61 M57.2 623.77H61" stroke="#777" stroke-width="1.15" fill="none"/>
<path d="M59.64 600V618.37 M57.74 600H61.54 M57.74 618.37H61.54" stroke="#777" stroke-width="1.15" fill="none"/>
<path d="M60.19 600.63V618.87 M58.29 600.63H62.09 M58.29 618.87H62.09" stroke="#777" stroke-width="1.15" fill="none"/>
<path d="M47.59 658.43V661.65 M45.69 658.43H49.49 M45.69 661.65H49.49" stroke="#111" stroke-width="1.15" fill="none"/>
<path d="M47.86 644.38V647.05 M45.96 644.38H49.76 M45.96 647.05H49.76" stroke="#111" stroke-width="1.15" fill="none"/>
<path d="M48.13 636.93V639.57 M46.23 636.93H50.03 M46.23 639.57H50.03" stroke="#111" stroke-width="1.15" fill="none"/>
<path d="M48.4 631.63V634.44 M46.5 631.63H50.3 M46.5 634.44H50.3" stroke="#111" stroke-width="1.15" fill="none"/>
<path d="M48.67 627.9V630.5 M46.77 627.9H50.57 M46.77 630.5H50.57" stroke="#111" stroke-width="1.15" fill="none"/>
<path d="M48.94 625.59V628.73 M47.04 625.59H50.84 M47.04 628.73H50.84" stroke="#111" stroke-width="1.15" fill="none"/>
<path d="M49.21 623.08V627.1 M47.31 623.08H51.11 M47.31 627.1H51.11" stroke="#111" stroke-width="1.15" fill="none"/>
<path d="M49.48 617.24V623.88 M47.58 617.24H51.38 M47.58 623.88H51.38" stroke="#111" stroke-width="1.15" fill="none"/>
<path d="M49.75 615.75V623.85 M47.85 615.75H51.65 M47.85 623.85H51.65" stroke="#111" stroke-width="1.15" fill="none"/>
<path d="M50.03 617.69V625.9 M48.13 617.69H51.93 M48.13 625.9H51.93" stroke="#111" stroke-width="1.15" fill="none"/>
<path d="M50.3 613.36V626.53 M48.4 613.36H52.2 M48.4 626.53H52.2" stroke="#111" stroke-width="1.15" fill="none"/>
<path d="M50.97 615.98V629.18 M49.07 615.98H52.87 M49.07 629.18H52.87" stroke="#111" stroke-width="1.15" fill="none"/>
<path d="M51.51 614.62V629.3 M49.61 614.62H53.41 M49.61 629.3H53.41" stroke="#111" stroke-width="1.15" fill="none"/>
<path d="M52.06 615.95V628.48 M50.16 615.95H53.96 M50.16 628.48H53.96" stroke="#111" stroke-width="1.15" fill="none"/>
<path d="M53.14 605.65V618.07 M51.24 605.65H55.04 M51.24 618.07H55.04" stroke="#111" stroke-width="1.15" fill="none"/>
<path d="M53.68 603.64V614.87 M51.78 603.64H55.58 M51.78 614.87H55.58" stroke="#111" stroke-width="1.15" fill="none"/>
<path d="M54.22 606.64V619.2 M52.32 606.64H56.12 M52.32 619.2H56.12" stroke="#111" stroke-width="1.15" fill="none"/>
<path d="M54.77 604.23V616.38 M52.87 604.23H56.67 M52.87 616.38H56.67" stroke="#111" stroke-width="1.15" fill="none"/>
<path d="M55.31 609.69V622.54 M53.41 609.69H57.21 M53.41 622.54H57.21" stroke="#111" stroke-width="1.15" fill="none"/>
<path d="M55.85 606.3V621.2 M53.95 606.3H57.75 M53.95 621.2H57.75" stroke="#111" stroke-width="1.15" fill="none"/>
<path d="M56.39 603.86V617.21 M54.49 603.86H58.29 M54.49 617.21H58.29" stroke="#111" stroke-width="1.15" fill="none"/>
<path d="M56.93 607.32V621.3 M55.03 607.32H58.83 M55.03 621.3H58.83" stroke="#111" stroke-width="1.15" fill="none"/>
<path d="M58.02 603.08V619.78 M56.12 603.08H59.92 M56.12 619.78H59.92" stroke="#111" stroke-width="1.15" fill="none"/>
<path d="M63.38 603.61V612.79 M61.48 603.61H65.28 M61.48 612.79H65.28" stroke="#4a4a4a" stroke-width="0.8" fill="none"/>
<path d="M69.89 604.5V614.16 M67.99 604.5H71.79 M67.99 614.16H71.79" stroke="#4a4a4a" stroke-width="0.8" fill="none"/>
<path d="M76.39 606.11V613.49 M74.49 606.11H78.29 M74.49 613.49H78.29" stroke="#4a4a4a" stroke-width="0.8" fill="none"/>
<path d="M82.9 606.81V613.97 M81 606.81H84.8 M81 613.97H84.8" stroke="#4a4a4a" stroke-width="0.8" fill="none"/>
<path d="M89.4 605.53V615.12 M87.5 605.53H91.3 M87.5 615.12H91.3" stroke="#4a4a4a" stroke-width="0.8" fill="none"/>
<path d="M95.9 605.49V615.17 M94 605.49H97.8 M94 615.17H97.8" stroke="#4a4a4a" stroke-width="0.8" fill="none"/>
<path d="M102.41 608.14V616.36 M100.51 608.14H104.31 M100.51 616.36H104.31" stroke="#4a4a4a" stroke-width="0.8" fill="none"/>
<path d="M108.91 609.31V616.25 M107.01 609.31H110.81 M107.01 616.25H110.81" stroke="#4a4a4a" stroke-width="0.8" fill="none"/>
<path d="M120.29 608.55V618.09 M118.39 608.55H122.19 M118.39 618.09H122.19" stroke="#4a4a4a" stroke-width="0.8" fill="none"/>
<path d="M136.55 610.56V618.5 M134.65 610.56H138.45 M134.65 618.5H138.45" stroke="#4a4a4a" stroke-width="0.8" fill="none"/>
<path d="M152.81 610.18V619.65 M150.91 610.18H154.71 M150.91 619.65H154.71" stroke="#4a4a4a" stroke-width="0.8" fill="none"/>
<path d="M169.07 611.16V619.78 M167.17 611.16H170.97 M167.17 619.78H170.97" stroke="#4a4a4a" stroke-width="0.8" fill="none"/>
<path d="M185.33 611.59V620.82 M183.43 611.59H187.23 M183.43 620.82H187.23" stroke="#4a4a4a" stroke-width="0.8" fill="none"/>
<path d="M201.59 612.46V619.73 M199.69 612.46H203.49 M199.69 619.73H203.49" stroke="#4a4a4a" stroke-width="0.8" fill="none"/>
<path d="M217.85 611.94V621.06 M215.95 611.94H219.75 M215.95 621.06H219.75" stroke="#4a4a4a" stroke-width="0.8" fill="none"/>
<path d="M234.11 614.28V621.73 M232.21 614.28H236.01 M232.21 621.73H236.01" stroke="#4a4a4a" stroke-width="0.8" fill="none"/>
<path d="M250.37 616.04V624.03 M248.47 616.04H252.27 M248.47 624.03H252.27" stroke="#4a4a4a" stroke-width="0.8" fill="none"/>
<path d="M266.63 616.26V625.56 M264.73 616.26H268.53 M264.73 625.56H268.53" stroke="#4a4a4a" stroke-width="0.8" fill="none"/>
<path d="M282.89 618.68V627.93 M280.99 618.68H284.79 M280.99 627.93H284.79" stroke="#4a4a4a" stroke-width="0.8" fill="none"/>
<path d="M299.15 622.33V629.66 M297.25 622.33H301.05 M297.25 629.66H301.05" stroke="#4a4a4a" stroke-width="0.8" fill="none"/>
<path d="M315.41 627.49V634.92 M313.51 627.49H317.31 M313.51 634.92H317.31" stroke="#4a4a4a" stroke-width="0.8" fill="none"/>
<path d="M331.67 630.05V638.02 M329.77 630.05H333.57 M329.77 638.02H333.57" stroke="#4a4a4a" stroke-width="0.8" fill="none"/>
<polyline points="47.8,704.2 47.59,659.67 47.86,645.97 48.13,638.13 48.4,632.77 48.67,629.38 48.94,626.94 49.21,624.83 49.48,620.77 49.75,620.32 50.03,622.17 50.3,619.05 50.57,614.34 50.97,622.31 51.51,620.41 52.06,620.38 52.6,612.34 53.14,612.05 53.68,608.95 54.22,611.46 54.77,608.63 55.31,614.06 55.85,611.43 56.39,610.12 56.93,615.31 57.48,613.66 58.02,610.36 58.56,610.48 59.1,612.03 59.64,609.15 60.19,610.29 63.38,607.7 69.89,608.8 76.39,609.4 82.9,610 89.4,609.8 95.9,609.8 102.41,611.8 108.91,612.4 120.29,612.8 136.55,614.1 152.81,614.4 169.07,615 185.33,615.7 201.59,615.7 217.85,616 234.11,617.6 250.37,619.6 266.63,620.4 282.89,622.8 299.15,625.6 315.41,630.8 331.67,633.6" fill="none" stroke="#000" stroke-width="1.35" stroke-linejoin="round"/>
<path d="M47.59 656.47V662.87" stroke="#000" stroke-width="1.1" fill="none"/>
<path d="M47.86 642.77V649.17" stroke="#000" stroke-width="1.1" fill="none"/>
<path d="M48.13 634.93V641.33" stroke="#000" stroke-width="1.1" fill="none"/>
<path d="M48.4 629.57V635.97" stroke="#000" stroke-width="1.1" fill="none"/>
<path d="M48.67 626.18V632.58" stroke="#000" stroke-width="1.1" fill="none"/>
<path d="M48.94 623.74V630.14" stroke="#000" stroke-width="1.1" fill="none"/>
<path d="M49.21 621.63V628.03" stroke="#000" stroke-width="1.1" fill="none"/>
<path d="M49.48 617.57V623.97" stroke="#000" stroke-width="1.1" fill="none"/>
<path d="M49.75 617.12V623.52" stroke="#000" stroke-width="1.1" fill="none"/>
<path d="M50.03 618.97V625.37" stroke="#000" stroke-width="1.1" fill="none"/>
<path d="M50.3 615.85V622.25" stroke="#000" stroke-width="1.1" fill="none"/>
<path d="M50.57 611.14V617.54" stroke="#000" stroke-width="1.1" fill="none"/>
<path d="M50.97 619.11V625.51" stroke="#000" stroke-width="1.1" fill="none"/>
<path d="M51.51 617.21V623.61" stroke="#000" stroke-width="1.1" fill="none"/>
<path d="M52.06 617.18V623.58" stroke="#000" stroke-width="1.1" fill="none"/>
<path d="M52.6 609.14V615.54" stroke="#000" stroke-width="1.1" fill="none"/>
<path d="M53.14 608.85V615.25" stroke="#000" stroke-width="1.1" fill="none"/>
<path d="M53.68 605.75V612.15" stroke="#000" stroke-width="1.1" fill="none"/>
<path d="M54.22 608.26V614.66" stroke="#000" stroke-width="1.1" fill="none"/>
<path d="M54.77 605.43V611.83" stroke="#000" stroke-width="1.1" fill="none"/>
<path d="M55.31 610.86V617.26" stroke="#000" stroke-width="1.1" fill="none"/>
<path d="M55.85 608.23V614.63" stroke="#000" stroke-width="1.1" fill="none"/>
<path d="M56.39 606.92V613.32" stroke="#000" stroke-width="1.1" fill="none"/>
<path d="M56.93 612.11V618.51" stroke="#000" stroke-width="1.1" fill="none"/>
<path d="M57.48 610.46V616.86" stroke="#000" stroke-width="1.1" fill="none"/>
<path d="M58.02 607.16V613.56" stroke="#000" stroke-width="1.1" fill="none"/>
<path d="M58.56 607.28V613.68" stroke="#000" stroke-width="1.1" fill="none"/>
<path d="M59.1 608.83V615.23" stroke="#000" stroke-width="1.1" fill="none"/>
<path d="M59.64 605.95V612.35" stroke="#000" stroke-width="1.1" fill="none"/>
<path d="M60.19 607.09V613.49" stroke="#000" stroke-width="1.1" fill="none"/>
<path d="M63.38 604.5V610.9" stroke="#000" stroke-width="1.1" fill="none"/>
<path d="M69.89 605.6V612" stroke="#000" stroke-width="1.1" fill="none"/>
<path d="M76.39 606.2V612.6" stroke="#000" stroke-width="1.1" fill="none"/>
<path d="M82.9 606.8V613.2" stroke="#000" stroke-width="1.1" fill="none"/>
<path d="M89.4 606.6V613" stroke="#000" stroke-width="1.1" fill="none"/>
<path d="M95.9 606.6V613" stroke="#000" stroke-width="1.1" fill="none"/>
<path d="M102.41 608.6V615" stroke="#000" stroke-width="1.1" fill="none"/>
<path d="M108.91 609.2V615.6" stroke="#000" stroke-width="1.1" fill="none"/>
<path d="M120.29 609.6V616" stroke="#000" stroke-width="1.1" fill="none"/>
<path d="M136.55 610.9V617.3" stroke="#000" stroke-width="1.1" fill="none"/>
<path d="M152.81 611.2V617.6" stroke="#000" stroke-width="1.1" fill="none"/>
<path d="M169.07 611.8V618.2" stroke="#000" stroke-width="1.1" fill="none"/>
<path d="M185.33 612.5V618.9" stroke="#000" stroke-width="1.1" fill="none"/>
<path d="M201.59 612.5V618.9" stroke="#000" stroke-width="1.1" fill="none"/>
<path d="M217.85 612.8V619.2" stroke="#000" stroke-width="1.1" fill="none"/>
<path d="M234.11 614.4V620.8" stroke="#000" stroke-width="1.1" fill="none"/>
<path d="M250.37 616.4V622.8" stroke="#000" stroke-width="1.1" fill="none"/>
<path d="M266.63 617.2V623.6" stroke="#000" stroke-width="1.1" fill="none"/>
<path d="M282.89 619.6V626" stroke="#000" stroke-width="1.1" fill="none"/>
<path d="M299.15 622.4V628.8" stroke="#000" stroke-width="1.1" fill="none"/>
<path d="M315.41 627.6V634" stroke="#000" stroke-width="1.1" fill="none"/>
<path d="M331.67 630.4V636.8" stroke="#000" stroke-width="1.1" fill="none"/>
</g>
<g>
<path d="M47.59 590.02V592.9 M45.69 590.02H49.49 M45.69 592.9H49.49" stroke="#222" stroke-width="0.8" fill="none"/>
<path d="M47.86 567.64V570.25 M45.96 567.64H49.76 M45.96 570.25H49.76" stroke="#222" stroke-width="0.8" fill="none"/>
<path d="M48.13 554.19V556.25 M46.23 554.19H50.03 M46.23 556.25H50.03" stroke="#222" stroke-width="0.8" fill="none"/>
<path d="M48.4 547.76V550.08 M46.5 547.76H50.3 M46.5 550.08H50.3" stroke="#222" stroke-width="0.8" fill="none"/>
<path d="M48.67 543.83V547.15 M46.77 543.83H50.57 M46.77 547.15H50.57" stroke="#222" stroke-width="0.8" fill="none"/>
<path d="M48.94 541.69V545.37 M47.04 541.69H50.84 M47.04 545.37H50.84" stroke="#222" stroke-width="0.8" fill="none"/>
<path d="M49.21 541.04V542.92 M47.31 541.04H51.11 M47.31 542.92H51.11" stroke="#222" stroke-width="0.8" fill="none"/>
<path d="M49.48 539.71V542.69 M47.58 539.71H51.38 M47.58 542.69H51.38" stroke="#222" stroke-width="0.8" fill="none"/>
<path d="M49.75 538.76V542.15 M47.85 538.76H51.65 M47.85 542.15H51.65" stroke="#222" stroke-width="0.8" fill="none"/>
<path d="M50.03 539.04V540.92 M48.13 539.04H51.93 M48.13 540.92H51.93" stroke="#222" stroke-width="0.8" fill="none"/>
<path d="M50.3 537.73V541.29 M48.4 537.73H52.2 M48.4 541.29H52.2" stroke="#222" stroke-width="0.8" fill="none"/>
<path d="M50.57 538.01V540.06 M48.67 538.01H52.47 M48.67 540.06H52.47" stroke="#222" stroke-width="0.8" fill="none"/>
<path d="M50.97 536.91V539.97 M49.07 536.91H52.87 M49.07 539.97H52.87" stroke="#222" stroke-width="0.8" fill="none"/>
<path d="M51.51 536.24V539.2 M49.61 536.24H53.41 M49.61 539.2H53.41" stroke="#222" stroke-width="0.8" fill="none"/>
<path d="M52.06 535.38V538.49 M50.16 535.38H53.96 M50.16 538.49H53.96" stroke="#222" stroke-width="0.8" fill="none"/>
<path d="M52.6 534.9V537.35 M50.7 534.9H54.5 M50.7 537.35H54.5" stroke="#222" stroke-width="0.8" fill="none"/>
<path d="M53.14 533.72V536.4 M51.24 533.72H55.04 M51.24 536.4H55.04" stroke="#222" stroke-width="0.8" fill="none"/>
<path d="M53.68 532.31V535.33 M51.78 532.31H55.58 M51.78 535.33H55.58" stroke="#222" stroke-width="0.8" fill="none"/>
<path d="M54.22 531.24V533.93 M52.32 531.24H56.12 M52.32 533.93H56.12" stroke="#222" stroke-width="0.8" fill="none"/>
<path d="M54.77 529.76V532.94 M52.87 529.76H56.67 M52.87 532.94H56.67" stroke="#222" stroke-width="0.8" fill="none"/>
<path d="M55.31 528.75V531.49 M53.41 528.75H57.21 M53.41 531.49H57.21" stroke="#222" stroke-width="0.8" fill="none"/>
<path d="M55.85 527.56V530.28 M53.95 527.56H57.75 M53.95 530.28H57.75" stroke="#222" stroke-width="0.8" fill="none"/>
<path d="M56.39 526.83V528.68 M54.49 526.83H58.29 M54.49 528.68H58.29" stroke="#222" stroke-width="0.8" fill="none"/>
<path d="M56.93 525.06V528.16 M55.03 525.06H58.83 M55.03 528.16H58.83" stroke="#222" stroke-width="0.8" fill="none"/>
<path d="M57.48 524.22V527.05 M55.58 524.22H59.38 M55.58 527.05H59.38" stroke="#222" stroke-width="0.8" fill="none"/>
<path d="M58.02 523.52V525.82 M56.12 523.52H59.92 M56.12 525.82H59.92" stroke="#222" stroke-width="0.8" fill="none"/>
<path d="M58.56 522.01V525.41 M56.66 522.01H60.46 M56.66 525.41H60.46" stroke="#222" stroke-width="0.8" fill="none"/>
<path d="M59.1 521.06V524.49 M57.2 521.06H61 M57.2 524.49H61" stroke="#222" stroke-width="0.8" fill="none"/>
<path d="M59.64 520.46V523.22 M57.74 520.46H61.54 M57.74 523.22H61.54" stroke="#222" stroke-width="0.8" fill="none"/>
<path d="M60.19 519.86V522.03 M58.29 519.86H62.09 M58.29 522.03H62.09" stroke="#222" stroke-width="0.8" fill="none"/>
<path d="M63.38 515.08V521.91 M61.48 515.08H65.28 M61.48 521.91H65.28" stroke="#333" stroke-width="0.8" fill="none"/>
<path d="M69.89 510.25V516.16 M67.99 510.25H71.79 M67.99 516.16H71.79" stroke="#333" stroke-width="0.8" fill="none"/>
<path d="M76.39 506.82V512.8 M74.49 506.82H78.29 M74.49 512.8H78.29" stroke="#333" stroke-width="0.8" fill="none"/>
<path d="M82.9 504.23V510.95 M81 504.23H84.8 M81 510.95H84.8" stroke="#333" stroke-width="0.8" fill="none"/>
<path d="M89.4 503.46V509.34 M87.5 503.46H91.3 M87.5 509.34H91.3" stroke="#333" stroke-width="0.8" fill="none"/>
<path d="M95.9 502.22V508.96 M94 502.22H97.8 M94 508.96H97.8" stroke="#333" stroke-width="0.8" fill="none"/>
<path d="M102.41 501.65V508.56 M100.51 501.65H104.31 M100.51 508.56H104.31" stroke="#333" stroke-width="0.8" fill="none"/>
<path d="M108.91 501.81V507.57 M107.01 501.81H110.81 M107.01 507.57H110.81" stroke="#333" stroke-width="0.8" fill="none"/>
<path d="M120.29 500.02V507.25 M118.39 500.02H122.19 M118.39 507.25H122.19" stroke="#333" stroke-width="0.8" fill="none"/>
<path d="M136.55 498.87V504.73 M134.65 498.87H138.45 M134.65 504.73H138.45" stroke="#333" stroke-width="0.8" fill="none"/>
<path d="M152.81 496.83V504.3 M150.91 496.83H154.71 M150.91 504.3H154.71" stroke="#333" stroke-width="0.8" fill="none"/>
<path d="M169.07 495.79V503.36 M167.17 495.79H170.97 M167.17 503.36H170.97" stroke="#333" stroke-width="0.8" fill="none"/>
<path d="M185.33 495.05V501.97 M183.43 495.05H187.23 M183.43 501.97H187.23" stroke="#333" stroke-width="0.8" fill="none"/>
<path d="M201.59 494.3V500.09 M199.69 494.3H203.49 M199.69 500.09H203.49" stroke="#333" stroke-width="0.8" fill="none"/>
<path d="M217.85 493.85V500.76 M215.95 493.85H219.75 M215.95 500.76H219.75" stroke="#333" stroke-width="0.8" fill="none"/>
<path d="M234.11 493.38V499.97 M232.21 493.38H236.01 M232.21 499.97H236.01" stroke="#333" stroke-width="0.8" fill="none"/>
<path d="M250.37 492.41V500.42 M248.47 492.41H252.27 M248.47 500.42H252.27" stroke="#333" stroke-width="0.8" fill="none"/>
<path d="M266.63 490.82V496.81 M264.73 490.82H268.53 M264.73 496.81H268.53" stroke="#333" stroke-width="0.8" fill="none"/>
<path d="M282.89 487.71V495.48 M280.99 487.71H284.79 M280.99 495.48H284.79" stroke="#333" stroke-width="0.8" fill="none"/>
<path d="M299.15 491.57V499.69 M297.25 491.57H301.05 M297.25 499.69H301.05" stroke="#333" stroke-width="0.8" fill="none"/>
<path d="M315.41 499.73V507.2 M313.51 499.73H317.31 M313.51 507.2H317.31" stroke="#333" stroke-width="0.8" fill="none"/>
<path d="M331.67 503.65V511.32 M329.77 503.65H333.57 M329.77 511.32H333.57" stroke="#333" stroke-width="0.8" fill="none"/>
<polyline points="47.8,704.2 47.59,592.36 47.86,569.85 48.13,556.12 48.4,549.82 48.67,546.39 48.94,544.43 49.21,542.88 49.48,542.1 49.75,541.35 50.03,540.88 50.3,540.41 50.57,539.93 50.97,539.34 51.51,538.62 52.06,537.83 52.6,537.03 53.14,535.96 53.68,534.72 54.22,533.49 54.77,532.25 55.31,531.02 55.85,529.82 56.39,528.65 56.93,527.51 57.48,526.54 58.02,525.57 58.56,524.61 59.1,523.68 59.64,522.74 60.19,521.84 63.38,518.7 69.89,513.5 76.39,510.1 82.9,507.8 89.4,506.7 95.9,505.8 102.41,505.3 108.91,505 120.29,503.8 136.55,502.1 152.81,500.7 169.07,499.7 185.33,498.7 201.59,497.5 217.85,497.5 234.11,496.9 250.37,496.5 266.63,494.1 282.89,491.7 299.15,495.7 315.41,503.6 331.67,507.6" fill="none" stroke="#000" stroke-width="1.35" stroke-linejoin="round"/>
<path d="M47.59 588.01 L51.29 594.31 L43.89 594.31 Z" fill="#fff" stroke="#000" stroke-width="1.1" stroke-linejoin="miter"/>
<path d="M47.86 565.5 L51.56 571.8 L44.16 571.8 Z" fill="#fff" stroke="#000" stroke-width="1.1" stroke-linejoin="miter"/>
<path d="M48.13 551.77 L51.83 558.07 L44.43 558.07 Z" fill="#fff" stroke="#000" stroke-width="1.1" stroke-linejoin="miter"/>
<path d="M48.4 545.47 L52.1 551.77 L44.7 551.77 Z" fill="#fff" stroke="#000" stroke-width="1.1" stroke-linejoin="miter"/>
<path d="M48.67 542.04 L52.37 548.34 L44.97 548.34 Z" fill="#fff" stroke="#000" stroke-width="1.0" stroke-linejoin="miter"/>
<path d="M48.94 540.08 L52.64 546.38 L45.24 546.38 Z" fill="#fff" stroke="#000" stroke-width="1.0" stroke-linejoin="miter"/>
<path d="M49.21 538.53 L52.91 544.83 L45.51 544.83 Z" fill="#fff" stroke="#000" stroke-width="1.0" stroke-linejoin="miter"/>
<path d="M49.48 537.75 L53.18 544.05 L45.78 544.05 Z" fill="#fff" stroke="#000" stroke-width="1.0" stroke-linejoin="miter"/>
<path d="M49.75 537 L53.45 543.3 L46.05 543.3 Z" fill="#fff" stroke="#000" stroke-width="1.0" stroke-linejoin="miter"/>
<path d="M50.03 536.53 L53.73 542.83 L46.33 542.83 Z" fill="#fff" stroke="#000" stroke-width="1.0" stroke-linejoin="miter"/>
<path d="M50.3 536.06 L54 542.36 L46.6 542.36 Z" fill="#fff" stroke="#000" stroke-width="1.0" stroke-linejoin="miter"/>
<path d="M50.57 535.58 L54.27 541.88 L46.87 541.88 Z" fill="#fff" stroke="#000" stroke-width="1.0" stroke-linejoin="miter"/>
<path d="M50.97 534.99 L54.67 541.29 L47.27 541.29 Z" fill="#fff" stroke="#000" stroke-width="1.0" stroke-linejoin="miter"/>
<path d="M51.51 534.27 L55.21 540.57 L47.81 540.57 Z" fill="#fff" stroke="#000" stroke-width="1.0" stroke-linejoin="miter"/>
<path d="M52.06 533.48 L55.76 539.78 L48.36 539.78 Z" fill="#fff" stroke="#000" stroke-width="1.0" stroke-linejoin="miter"/>
<path d="M52.6 532.68 L56.3 538.98 L48.9 538.98 Z" fill="#fff" stroke="#000" stroke-width="1.0" stroke-linejoin="miter"/>
<path d="M53.14 531.61 L56.84 537.91 L49.44 537.91 Z" fill="#fff" stroke="#000" stroke-width="1.0" stroke-linejoin="miter"/>
<path d="M53.68 530.37 L57.38 536.67 L49.98 536.67 Z" fill="#fff" stroke="#000" stroke-width="1.0" stroke-linejoin="miter"/>
<path d="M54.22 529.14 L57.92 535.44 L50.52 535.44 Z" fill="#fff" stroke="#000" stroke-width="1.0" stroke-linejoin="miter"/>
<path d="M54.77 527.9 L58.47 534.2 L51.07 534.2 Z" fill="#fff" stroke="#000" stroke-width="1.0" stroke-linejoin="miter"/>
<path d="M55.31 526.67 L59.01 532.97 L51.61 532.97 Z" fill="#fff" stroke="#000" stroke-width="1.0" stroke-linejoin="miter"/>
<path d="M55.85 525.47 L59.55 531.77 L52.15 531.77 Z" fill="#fff" stroke="#000" stroke-width="1.0" stroke-linejoin="miter"/>
<path d="M56.39 524.3 L60.09 530.6 L52.69 530.6 Z" fill="#fff" stroke="#000" stroke-width="1.0" stroke-linejoin="miter"/>
<path d="M56.93 523.16 L60.63 529.46 L53.23 529.46 Z" fill="#fff" stroke="#000" stroke-width="1.0" stroke-linejoin="miter"/>
<path d="M57.48 522.19 L61.18 528.49 L53.78 528.49 Z" fill="#fff" stroke="#000" stroke-width="1.0" stroke-linejoin="miter"/>
<path d="M58.02 521.22 L61.72 527.52 L54.32 527.52 Z" fill="#fff" stroke="#000" stroke-width="1.0" stroke-linejoin="miter"/>
<path d="M58.56 520.26 L62.26 526.56 L54.86 526.56 Z" fill="#fff" stroke="#000" stroke-width="1.0" stroke-linejoin="miter"/>
<path d="M59.1 519.33 L62.8 525.63 L55.4 525.63 Z" fill="#fff" stroke="#000" stroke-width="1.0" stroke-linejoin="miter"/>
<path d="M59.64 518.39 L63.34 524.69 L55.94 524.69 Z" fill="#fff" stroke="#000" stroke-width="1.0" stroke-linejoin="miter"/>
<path d="M60.19 517.49 L63.89 523.79 L56.49 523.79 Z" fill="#fff" stroke="#000" stroke-width="1.1" stroke-linejoin="miter"/>
<path d="M63.38 514.35 L67.08 520.65 L59.68 520.65 Z" fill="#fff" stroke="#000" stroke-width="1.1" stroke-linejoin="miter"/>
<path d="M69.89 509.15 L73.59 515.45 L66.19 515.45 Z" fill="#fff" stroke="#000" stroke-width="1.1" stroke-linejoin="miter"/>
<path d="M76.39 505.75 L80.09 512.05 L72.69 512.05 Z" fill="#fff" stroke="#000" stroke-width="1.1" stroke-linejoin="miter"/>
<path d="M82.9 503.45 L86.6 509.75 L79.2 509.75 Z" fill="#fff" stroke="#000" stroke-width="1.1" stroke-linejoin="miter"/>
<path d="M89.4 502.35 L93.1 508.65 L85.7 508.65 Z" fill="#fff" stroke="#000" stroke-width="1.1" stroke-linejoin="miter"/>
<path d="M95.9 501.45 L99.6 507.75 L92.2 507.75 Z" fill="#fff" stroke="#000" stroke-width="1.1" stroke-linejoin="miter"/>
<path d="M102.41 500.95 L106.11 507.25 L98.71 507.25 Z" fill="#fff" stroke="#000" stroke-width="1.1" stroke-linejoin="miter"/>
<path d="M108.91 500.65 L112.61 506.95 L105.21 506.95 Z" fill="#fff" stroke="#000" stroke-width="1.1" stroke-linejoin="miter"/>
<path d="M120.29 499.45 L123.99 505.75 L116.59 505.75 Z" fill="#fff" stroke="#000" stroke-width="1.1" stroke-linejoin="miter"/>
<path d="M136.55 497.75 L140.25 504.05 L132.85 504.05 Z" fill="#fff" stroke="#000" stroke-width="1.1" stroke-linejoin="miter"/>
<path d="M152.81 496.35 L156.51 502.65 L149.11 502.65 Z" fill="#fff" stroke="#000" stroke-width="1.1" stroke-linejoin="miter"/>
<path d="M169.07 495.35 L172.77 501.65 L165.37 501.65 Z" fill="#fff" stroke="#000" stroke-width="1.1" stroke-linejoin="miter"/>
<path d="M185.33 494.35 L189.03 500.65 L181.63 500.65 Z" fill="#fff" stroke="#000" stroke-width="1.1" stroke-linejoin="miter"/>
<path d="M201.59 493.15 L205.29 499.45 L197.89 499.45 Z" fill="#fff" stroke="#000" stroke-width="1.1" stroke-linejoin="miter"/>
<path d="M217.85 493.15 L221.55 499.45 L214.15 499.45 Z" fill="#fff" stroke="#000" stroke-width="1.1" stroke-linejoin="miter"/>
<path d="M234.11 492.55 L237.81 498.85 L230.41 498.85 Z" fill="#fff" stroke="#000" stroke-width="1.1" stroke-linejoin="miter"/>
<path d="M250.37 492.15 L254.07 498.45 L246.67 498.45 Z" fill="#fff" stroke="#000" stroke-width="1.1" stroke-linejoin="miter"/>
<path d="M266.63 489.75 L270.33 496.05 L262.93 496.05 Z" fill="#fff" stroke="#000" stroke-width="1.1" stroke-linejoin="miter"/>
<path d="M282.89 487.35 L286.59 493.65 L279.19 493.65 Z" fill="#fff" stroke="#000" stroke-width="1.1" stroke-linejoin="miter"/>
<path d="M299.15 491.35 L302.85 497.65 L295.45 497.65 Z" fill="#fff" stroke="#000" stroke-width="1.1" stroke-linejoin="miter"/>
<path d="M315.41 499.25 L319.11 505.55 L311.71 505.55 Z" fill="#fff" stroke="#000" stroke-width="1.1" stroke-linejoin="miter"/>
<path d="M331.67 503.25 L335.37 509.55 L327.97 509.55 Z" fill="#fff" stroke="#000" stroke-width="1.1" stroke-linejoin="miter"/>
</g>
<g>
<path d="M47.59 663.99V666.47 M45.69 663.99H49.49 M45.69 666.47H49.49" stroke="#111" stroke-width="1.15" fill="none"/>
<path d="M47.86 646.45V648.67 M45.96 646.45H49.76 M45.96 648.67H49.76" stroke="#111" stroke-width="1.15" fill="none"/>
<path d="M48.13 638.59V640.76 M46.23 638.59H50.03 M46.23 640.76H50.03" stroke="#111" stroke-width="1.15" fill="none"/>
<path d="M48.4 632.48V634.53 M46.5 632.48H50.3 M46.5 634.53H50.3" stroke="#111" stroke-width="1.15" fill="none"/>
<path d="M48.67 628.48V630.45 M46.77 628.48H50.57 M46.77 630.45H50.57" stroke="#111" stroke-width="1.15" fill="none"/>
<path d="M48.94 623.07V626.01 M47.04 623.07H50.84 M47.04 626.01H50.84" stroke="#111" stroke-width="1.15" fill="none"/>
<path d="M49.21 619.73V622.95 M47.31 619.73H51.11 M47.31 622.95H51.11" stroke="#111" stroke-width="1.15" fill="none"/>
<path d="M49.48 617.6V620.75 M47.58 617.6H51.38 M47.58 620.75H51.38" stroke="#111" stroke-width="1.15" fill="none"/>
<path d="M49.75 611.77V619.06 M47.85 611.77H51.65 M47.85 619.06H51.65" stroke="#111" stroke-width="1.15" fill="none"/>
<path d="M50.03 614.82V621.05 M48.13 614.82H51.93 M48.13 621.05H51.93" stroke="#111" stroke-width="1.15" fill="none"/>
<path d="M50.3 608.06V616.32 M48.4 608.06H52.2 M48.4 616.32H52.2" stroke="#111" stroke-width="1.15" fill="none"/>
<path d="M50.57 605.49V616.15 M48.67 605.49H52.47 M48.67 616.15H52.47" stroke="#111" stroke-width="1.15" fill="none"/>
<path d="M50.97 604.32V615.05 M49.07 604.32H52.87 M49.07 615.05H52.87" stroke="#111" stroke-width="1.15" fill="none"/>
<path d="M51.51 606.56V616.89 M49.61 606.56H53.41 M49.61 616.89H53.41" stroke="#111" stroke-width="1.15" fill="none"/>
<path d="M52.06 605.72V616.01 M50.16 605.72H53.96 M50.16 616.01H53.96" stroke="#111" stroke-width="1.15" fill="none"/>
<path d="M52.6 602.75V612.84 M50.7 602.75H54.5 M50.7 612.84H54.5" stroke="#111" stroke-width="1.15" fill="none"/>
<path d="M53.14 602.02V611.14 M51.24 602.02H55.04 M51.24 611.14H55.04" stroke="#111" stroke-width="1.15" fill="none"/>
<path d="M53.68 595.61V606.47 M51.78 595.61H55.58 M51.78 606.47H55.58" stroke="#111" stroke-width="1.15" fill="none"/>
<path d="M54.22 597.67V610.34 M52.32 597.67H56.12 M52.32 610.34H56.12" stroke="#111" stroke-width="1.15" fill="none"/>
<path d="M54.77 600.67V608.24 M52.87 600.67H56.67 M52.87 608.24H56.67" stroke="#111" stroke-width="1.15" fill="none"/>
<path d="M55.31 597.21V605.8 M53.41 597.21H57.21 M53.41 605.8H57.21" stroke="#111" stroke-width="1.15" fill="none"/>
<path d="M55.85 597.28V608.53 M53.95 597.28H57.75 M53.95 608.53H57.75" stroke="#111" stroke-width="1.15" fill="none"/>
<path d="M56.39 596.41V605.5 M54.49 596.41H58.29 M54.49 605.5H58.29" stroke="#111" stroke-width="1.15" fill="none"/>
<path d="M56.93 596.37V603.45 M55.03 596.37H58.83 M55.03 603.45H58.83" stroke="#111" stroke-width="1.15" fill="none"/>
<path d="M57.48 594.69V603.14 M55.58 594.69H59.38 M55.58 603.14H59.38" stroke="#111" stroke-width="1.15" fill="none"/>
<path d="M58.02 596.06V605.61 M56.12 596.06H59.92 M56.12 605.61H59.92" stroke="#111" stroke-width="1.15" fill="none"/>
<path d="M58.56 596.54V605.32 M56.66 596.54H60.46 M56.66 605.32H60.46" stroke="#111" stroke-width="1.15" fill="none"/>
<path d="M59.1 599.24V606.9 M57.2 599.24H61 M57.2 606.9H61" stroke="#111" stroke-width="1.15" fill="none"/>
<path d="M59.64 592.31V603.53 M57.74 592.31H61.54 M57.74 603.53H61.54" stroke="#111" stroke-width="1.15" fill="none"/>
<path d="M60.19 597.57V604.47 M58.29 597.57H62.09 M58.29 604.47H62.09" stroke="#111" stroke-width="1.15" fill="none"/>
<path d="M63.38 595.32V602.46 M61.48 595.32H65.28 M61.48 602.46H65.28" stroke="#4a4a4a" stroke-width="0.8" fill="none"/>
<path d="M69.89 590.84V599.95 M67.99 590.84H71.79 M67.99 599.95H71.79" stroke="#4a4a4a" stroke-width="0.8" fill="none"/>
<path d="M76.39 589.05V597.91 M74.49 589.05H78.29 M74.49 597.91H78.29" stroke="#4a4a4a" stroke-width="0.8" fill="none"/>
<path d="M82.9 587.35V595.55 M81 587.35H84.8 M81 595.55H84.8" stroke="#4a4a4a" stroke-width="0.8" fill="none"/>
<path d="M89.4 586.14V595.26 M87.5 586.14H91.3 M87.5 595.26H91.3" stroke="#4a4a4a" stroke-width="0.8" fill="none"/>
<path d="M95.9 585.82V594.31 M94 585.82H97.8 M94 594.31H97.8" stroke="#4a4a4a" stroke-width="0.8" fill="none"/>
<path d="M102.41 584.23V594.26 M100.51 584.23H104.31 M100.51 594.26H104.31" stroke="#4a4a4a" stroke-width="0.8" fill="none"/>
<path d="M108.91 583.42V592.81 M107.01 583.42H110.81 M107.01 592.81H110.81" stroke="#4a4a4a" stroke-width="0.8" fill="none"/>
<path d="M120.29 582.99V590.87 M118.39 582.99H122.19 M118.39 590.87H122.19" stroke="#4a4a4a" stroke-width="0.8" fill="none"/>
<path d="M136.55 580.88V590.8 M134.65 580.88H138.45 M134.65 590.8H138.45" stroke="#4a4a4a" stroke-width="0.8" fill="none"/>
<path d="M152.81 581.07V588.32 M150.91 581.07H154.71 M150.91 588.32H154.71" stroke="#4a4a4a" stroke-width="0.8" fill="none"/>
<path d="M169.07 580.4V589.16 M167.17 580.4H170.97 M167.17 589.16H170.97" stroke="#4a4a4a" stroke-width="0.8" fill="none"/>
<path d="M185.33 580.57V588.94 M183.43 580.57H187.23 M183.43 588.94H187.23" stroke="#4a4a4a" stroke-width="0.8" fill="none"/>
<path d="M201.59 580.3V588.15 M199.69 580.3H203.49 M199.69 588.15H203.49" stroke="#4a4a4a" stroke-width="0.8" fill="none"/>
<path d="M217.85 580.75V588.04 M215.95 580.75H219.75 M215.95 588.04H219.75" stroke="#4a4a4a" stroke-width="0.8" fill="none"/>
<path d="M234.11 580.25V589.79 M232.21 580.25H236.01 M232.21 589.79H236.01" stroke="#4a4a4a" stroke-width="0.8" fill="none"/>
<path d="M250.37 582.11V589.26 M248.47 582.11H252.27 M248.47 589.26H252.27" stroke="#4a4a4a" stroke-width="0.8" fill="none"/>
<path d="M266.63 581.37V590.19 M264.73 581.37H268.53 M264.73 590.19H268.53" stroke="#4a4a4a" stroke-width="0.8" fill="none"/>
<path d="M282.89 582.03V592.07 M280.99 582.03H284.79 M280.99 592.07H284.79" stroke="#4a4a4a" stroke-width="0.8" fill="none"/>
<path d="M299.15 584.33V591.89 M297.25 584.33H301.05 M297.25 591.89H301.05" stroke="#4a4a4a" stroke-width="0.8" fill="none"/>
<path d="M315.41 585.06V592.79 M313.51 585.06H317.31 M313.51 592.79H317.31" stroke="#4a4a4a" stroke-width="0.8" fill="none"/>
<path d="M331.67 585.69V594.69 M329.77 585.69H333.57 M329.77 594.69H333.57" stroke="#4a4a4a" stroke-width="0.8" fill="none"/>
<polyline points="47.8,704.2 47.59,665.58 47.86,647.97 48.13,640.13 48.4,633.84 48.67,629.36 48.94,624.5 49.21,621.3 49.48,619.09 49.75,616.18 50.03,617.42 50.3,612.48 50.57,612.01 50.97,611.73 51.51,612.71 52.06,610.04 52.6,607.55 53.14,605.91 53.68,602.71 54.22,605.59 54.77,605.23 55.31,600.95 55.85,602.84 56.39,600.54 56.93,599.38 57.48,599.47 58.02,602 58.56,601.91 59.1,603.45 59.64,598.2 60.19,601.49 63.38,598.5 69.89,594.9 76.39,593 82.9,591 89.4,590.2 95.9,589.6 102.41,588.7 108.91,587.6 120.29,586.5 136.55,585.3 152.81,584.3 169.07,584.3 185.33,584.3 201.59,583.8 217.85,584 234.11,584.5 250.37,585.3 266.63,585.3 282.89,586.5 299.15,587.7 315.41,588.5 331.67,589.7" fill="none" stroke="#000" stroke-width="1.35" stroke-linejoin="round"/>
<rect x="44.49" y="662.48" width="6.2" height="6.2" fill="#000"/>
<rect x="44.76" y="644.87" width="6.2" height="6.2" fill="#000"/>
<rect x="45.03" y="637.03" width="6.2" height="6.2" fill="#000"/>
<rect x="45.3" y="630.74" width="6.2" height="6.2" fill="#000"/>
<rect x="45.57" y="626.26" width="6.2" height="6.2" fill="#000"/>
<rect x="45.84" y="621.4" width="6.2" height="6.2" fill="#000"/>
<rect x="46.11" y="618.2" width="6.2" height="6.2" fill="#000"/>
<rect x="46.38" y="615.99" width="6.2" height="6.2" fill="#000"/>
<rect x="46.65" y="613.08" width="6.2" height="6.2" fill="#000"/>
<rect x="46.93" y="614.32" width="6.2" height="6.2" fill="#000"/>
<rect x="47.2" y="609.38" width="6.2" height="6.2" fill="#000"/>
<rect x="47.47" y="608.91" width="6.2" height="6.2" fill="#000"/>
<rect x="47.87" y="608.63" width="6.2" height="6.2" fill="#000"/>
<rect x="48.41" y="609.61" width="6.2" height="6.2" fill="#000"/>
<rect x="48.96" y="606.94" width="6.2" height="6.2" fill="#000"/>
<rect x="49.5" y="604.45" width="6.2" height="6.2" fill="#000"/>
<rect x="50.04" y="602.81" width="6.2" height="6.2" fill="#000"/>
<rect x="50.58" y="599.61" width="6.2" height="6.2" fill="#000"/>
<rect x="51.12" y="602.49" width="6.2" height="6.2" fill="#000"/>
<rect x="51.67" y="602.13" width="6.2" height="6.2" fill="#000"/>
<rect x="52.21" y="597.85" width="6.2" height="6.2" fill="#000"/>
<rect x="52.75" y="599.74" width="6.2" height="6.2" fill="#000"/>
<rect x="53.29" y="597.44" width="6.2" height="6.2" fill="#000"/>
<rect x="53.83" y="596.28" width="6.2" height="6.2" fill="#000"/>
<rect x="54.38" y="596.37" width="6.2" height="6.2" fill="#000"/>
<rect x="54.92" y="598.9" width="6.2" height="6.2" fill="#000"/>
<rect x="55.46" y="598.81" width="6.2" height="6.2" fill="#000"/>
<rect x="56" y="600.35" width="6.2" height="6.2" fill="#000"/>
<rect x="56.54" y="595.1" width="6.2" height="6.2" fill="#000"/>
<rect x="57.09" y="598.39" width="6.2" height="6.2" fill="#000"/>
<rect x="60.28" y="595.4" width="6.2" height="6.2" fill="#000"/>
<rect x="66.79" y="591.8" width="6.2" height="6.2" fill="#000"/>
<rect x="73.29" y="589.9" width="6.2" height="6.2" fill="#000"/>
<rect x="79.8" y="587.9" width="6.2" height="6.2" fill="#000"/>
<rect x="86.3" y="587.1" width="6.2" height="6.2" fill="#000"/>
<rect x="92.8" y="586.5" width="6.2" height="6.2" fill="#000"/>
<rect x="99.31" y="585.6" width="6.2" height="6.2" fill="#000"/>
<rect x="105.81" y="584.5" width="6.2" height="6.2" fill="#000"/>
<rect x="117.19" y="583.4" width="6.2" height="6.2" fill="#000"/>
<rect x="133.45" y="582.2" width="6.2" height="6.2" fill="#000"/>
<rect x="149.71" y="581.2" width="6.2" height="6.2" fill="#000"/>
<rect x="165.97" y="581.2" width="6.2" height="6.2" fill="#000"/>
<rect x="182.23" y="581.2" width="6.2" height="6.2" fill="#000"/>
<rect x="198.49" y="580.7" width="6.2" height="6.2" fill="#000"/>
<rect x="214.75" y="580.9" width="6.2" height="6.2" fill="#000"/>
<rect x="231.01" y="581.4" width="6.2" height="6.2" fill="#000"/>
<rect x="247.27" y="582.2" width="6.2" height="6.2" fill="#000"/>
<rect x="263.53" y="582.2" width="6.2" height="6.2" fill="#000"/>
<rect x="279.79" y="583.4" width="6.2" height="6.2" fill="#000"/>
<rect x="296.05" y="584.6" width="6.2" height="6.2" fill="#000"/>
<rect x="312.31" y="585.4" width="6.2" height="6.2" fill="#000"/>
<rect x="328.57" y="586.6" width="6.2" height="6.2" fill="#000"/>
</g>
</g>
<path d="M47.45 487.1V702.8" stroke="#000" stroke-width="1.15" fill="none"/>
<path d="M46.75 702.2H340.63" stroke="#000" stroke-width="1.1" fill="none"/>
<path d="M42.65 702.2H47.45 M42.65 625H47.45 M42.65 547.8H47.45 M44.85 678.96H47.45 M44.85 665.37H47.45 M44.85 655.72H47.45 M44.85 648.24H47.45 M44.85 642.13H47.45 M44.85 636.96H47.45 M44.85 632.48H47.45 M44.85 628.53H47.45 M44.85 601.76H47.45 M44.85 588.17H47.45 M44.85 578.52H47.45 M44.85 571.04H47.45 M44.85 564.93H47.45 M44.85 559.76H47.45 M44.85 555.28H47.45 M44.85 551.33H47.45 M44.85 524.56H47.45 M44.85 510.97H47.45 M44.85 501.32H47.45 M44.85 493.84H47.45 M44.85 487.73H47.45" stroke="#000" stroke-width="1" fill="none"/>
<path d="M47.45 702.2V706.4 M145.01 702.2V706.4 M242.57 702.2V706.4 M340.13 702.2V706.4 M96.23 702.2V704.5 M193.79 702.2V704.5 M291.35 702.2V704.5" stroke="#000" stroke-width="1" fill="none"/>
<path d="M102.6 637.7H131" stroke="#000" stroke-width="1.45"/>
<circle cx="117.1" cy="637.7" r="3.15" fill="#fff" stroke="#000" stroke-width="1.15"/>
<text x="134.5" y="641.8" font-size="12.8">heart</text>
<path d="M102.6 652.6H131" stroke="#000" stroke-width="1.45"/>
<path d="M117.1 649.4V655.8" stroke="#000" stroke-width="1.1" fill="none"/>
<text x="134.5" y="656.7" font-size="12.8">muscle</text>
<path d="M102.6 668H131" stroke="#000" stroke-width="1.45"/>
<path d="M117.1 663.95 L120.8 670.25 L113.4 670.25 Z" fill="#fff" stroke="#000" stroke-width="1.1" stroke-linejoin="miter"/>
<text x="134.5" y="672.1" font-size="12.8">kidney</text>
<path d="M102.6 682.9H131" stroke="#000" stroke-width="1.45"/>
<rect x="114" y="679.8" width="6.2" height="6.2" fill="#000"/>
<text x="134.5" y="687" font-size="12.8">tumor</text>
<text x="134.3" y="545.8" font-size="11.35" fill="#2b2b2b" stroke="none">c) [<tspan font-size="6.58" dy="-4.2" letter-spacing="-0.35">68</tspan><tspan dy="4.2">Ga]DOTAGA-FFK(Sub-KuE)</tspan></text>
<text x="149" y="558.6" font-size="11" fill="#2b2b2b" stroke="none"><tspan font-size="6.38" dy="-4.2" letter-spacing="-0.35">68</tspan><tspan dy="4.2">Ga-</tspan><tspan font-weight="bold">11</tspan></text>
</g>
<g>
<clipPath id="cp3"><rect x="46" y="726.1" width="320" height="222.8"/></clipPath>
<text x="38.35" y="952.45" text-anchor="end" font-size="11.8">0,1</text>
<text x="38.35" y="874.45" text-anchor="end" font-size="11.8">1</text>
<text x="38.35" y="796.45" text-anchor="end" font-size="11.8">10</text>
<text x="46.3" y="966" text-anchor="middle" font-size="12">0</text>
<text x="144.7" y="966" text-anchor="middle" font-size="12">30</text>
<text x="243.1" y="966" text-anchor="middle" font-size="12">60</text>
<text x="341.5" y="966" text-anchor="middle" font-size="12">90</text>
<text transform="translate(13.05 848.5) rotate(-90)" text-anchor="middle" font-size="12.65">activity accumulation [% ID/mL]</text>
<g clip-path="url(#cp3)">
<g>
<path d="M46.74 790.47V793.34 M44.84 790.47H48.64 M44.84 793.34H48.64" stroke="#222" stroke-width="0.8" fill="none"/>
<path d="M47.01 786.42V789.57 M45.11 786.42H48.91 M45.11 789.57H48.91" stroke="#222" stroke-width="0.8" fill="none"/>
<path d="M47.28 784.91V788.42 M45.38 784.91H49.18 M45.38 788.42H49.18" stroke="#222" stroke-width="0.8" fill="none"/>
<path d="M47.56 785.08V787.25 M45.66 785.08H49.46 M45.66 787.25H49.46" stroke="#222" stroke-width="0.8" fill="none"/>
<path d="M47.83 785.28V787.73 M45.93 785.28H49.73 M45.93 787.73H49.73" stroke="#222" stroke-width="0.8" fill="none"/>
<path d="M48.1 785.62V788.05 M46.2 785.62H50 M46.2 788.05H50" stroke="#222" stroke-width="0.8" fill="none"/>
<path d="M48.38 786.3V788.2 M46.48 786.3H50.28 M46.48 788.2H50.28" stroke="#222" stroke-width="0.8" fill="none"/>
<path d="M48.65 785.92V789.59 M46.75 785.92H50.55 M46.75 789.59H50.55" stroke="#222" stroke-width="0.8" fill="none"/>
<path d="M48.92 786.53V789.97 M47.02 786.53H50.82 M47.02 789.97H50.82" stroke="#222" stroke-width="0.8" fill="none"/>
<path d="M49.2 787.1V790.4 M47.3 787.1H51.1 M47.3 790.4H51.1" stroke="#222" stroke-width="0.8" fill="none"/>
<path d="M49.47 788.35V790.16 M47.57 788.35H51.37 M47.57 790.16H51.37" stroke="#222" stroke-width="0.8" fill="none"/>
<path d="M49.74 787.97V791.54 M47.84 787.97H51.64 M47.84 791.54H51.64" stroke="#222" stroke-width="0.8" fill="none"/>
<path d="M50.15 788.98V792.35 M48.25 788.98H52.05 M48.25 792.35H52.05" stroke="#222" stroke-width="0.8" fill="none"/>
<path d="M50.7 790.61V793.39 M48.8 790.61H52.6 M48.8 793.39H52.6" stroke="#222" stroke-width="0.8" fill="none"/>
<path d="M51.25 791.65V795.01 M49.35 791.65H53.15 M49.35 795.01H53.15" stroke="#222" stroke-width="0.8" fill="none"/>
<path d="M51.79 793.29V796.04 M49.89 793.29H53.69 M49.89 796.04H53.69" stroke="#222" stroke-width="0.8" fill="none"/>
<path d="M52.34 794.86V797.13 M50.44 794.86H54.24 M50.44 797.13H54.24" stroke="#222" stroke-width="0.8" fill="none"/>
<path d="M52.89 796.32V798.34 M50.99 796.32H54.79 M50.99 798.34H54.79" stroke="#222" stroke-width="0.8" fill="none"/>
<path d="M53.43 797.52V799.81 M51.53 797.52H55.33 M51.53 799.81H55.33" stroke="#222" stroke-width="0.8" fill="none"/>
<path d="M53.98 799.06V800.94 M52.08 799.06H55.88 M52.08 800.94H55.88" stroke="#222" stroke-width="0.8" fill="none"/>
<path d="M54.53 800.08V802.58 M52.63 800.08H56.43 M52.63 802.58H56.43" stroke="#222" stroke-width="0.8" fill="none"/>
<path d="M55.07 800.98V804.35 M53.17 800.98H56.97 M53.17 804.35H56.97" stroke="#222" stroke-width="0.8" fill="none"/>
<path d="M55.62 802.37V805.63 M53.72 802.37H57.52 M53.72 805.63H57.52" stroke="#222" stroke-width="0.8" fill="none"/>
<path d="M56.17 803.54V807.12 M54.27 803.54H58.07 M54.27 807.12H58.07" stroke="#222" stroke-width="0.8" fill="none"/>
<path d="M56.71 804.93V808.23 M54.81 804.93H58.61 M54.81 808.23H58.61" stroke="#222" stroke-width="0.8" fill="none"/>
<path d="M57.26 806.57V808.93 M55.36 806.57H59.16 M55.36 808.93H59.16" stroke="#222" stroke-width="0.8" fill="none"/>
<path d="M57.81 807.43V810.4 M55.91 807.43H59.71 M55.91 810.4H59.71" stroke="#222" stroke-width="0.8" fill="none"/>
<path d="M58.35 808.64V811.36 M56.45 808.64H60.25 M56.45 811.36H60.25" stroke="#222" stroke-width="0.8" fill="none"/>
<path d="M58.9 809.27V812.73 M57 809.27H60.8 M57 812.73H60.8" stroke="#222" stroke-width="0.8" fill="none"/>
<path d="M59.45 810.55V813.45 M57.55 810.55H61.35 M57.55 813.45H61.35" stroke="#222" stroke-width="0.8" fill="none"/>
<path d="M62.67 814.91V817.8 M60.77 814.91H64.57 M60.77 817.8H64.57" stroke="#333" stroke-width="0.8" fill="none"/>
<path d="M69.23 821.82V825.14 M67.33 821.82H71.13 M67.33 825.14H71.13" stroke="#333" stroke-width="0.8" fill="none"/>
<path d="M75.79 826.46V830.14 M73.89 826.46H77.69 M73.89 830.14H77.69" stroke="#333" stroke-width="0.8" fill="none"/>
<path d="M82.35 830.54V833.37 M80.45 830.54H84.25 M80.45 833.37H84.25" stroke="#333" stroke-width="0.8" fill="none"/>
<path d="M88.91 833.1V836.69 M87.01 833.1H90.81 M87.01 836.69H90.81" stroke="#333" stroke-width="0.8" fill="none"/>
<path d="M95.47 835.84V838.44 M93.57 835.84H97.37 M93.57 838.44H97.37" stroke="#333" stroke-width="0.8" fill="none"/>
<path d="M102.03 838.22V841.1 M100.13 838.22H103.93 M100.13 841.1H103.93" stroke="#333" stroke-width="0.8" fill="none"/>
<path d="M108.59 839.93V842.78 M106.69 839.93H110.49 M106.69 842.78H110.49" stroke="#333" stroke-width="0.8" fill="none"/>
<path d="M120.07 842.57V846 M118.17 842.57H121.97 M118.17 846H121.97" stroke="#333" stroke-width="0.8" fill="none"/>
<path d="M136.47 846.87V850.53 M134.57 846.87H138.37 M134.57 850.53H138.37" stroke="#333" stroke-width="0.8" fill="none"/>
<path d="M152.87 851.67V855.1 M150.97 851.67H154.77 M150.97 855.1H154.77" stroke="#333" stroke-width="0.8" fill="none"/>
<path d="M169.27 855.28V858.24 M167.37 855.28H171.17 M167.37 858.24H171.17" stroke="#333" stroke-width="0.8" fill="none"/>
<path d="M185.67 859.5V863.09 M183.77 859.5H187.57 M183.77 863.09H187.57" stroke="#333" stroke-width="0.8" fill="none"/>
<path d="M202.07 863.18V866.14 M200.17 863.18H203.97 M200.17 866.14H203.97" stroke="#333" stroke-width="0.8" fill="none"/>
<path d="M218.47 866.33V869.18 M216.57 866.33H220.37 M216.57 869.18H220.37" stroke="#333" stroke-width="0.8" fill="none"/>
<path d="M234.87 869.79V873.4 M232.97 869.79H236.77 M232.97 873.4H236.77" stroke="#333" stroke-width="0.8" fill="none"/>
<path d="M259.47 875.13V878.43 M257.57 875.13H261.37 M257.57 878.43H261.37" stroke="#333" stroke-width="0.8" fill="none"/>
<path d="M292.27 880.3V883.67 M290.37 880.3H294.17 M290.37 883.67H294.17" stroke="#333" stroke-width="0.8" fill="none"/>
<path d="M325.07 885.01V888.35 M323.17 885.01H326.97 M323.17 888.35H326.97" stroke="#333" stroke-width="0.8" fill="none"/>
<polyline points="46.95,950.5 46.74,791.91 47.01,787.99 47.28,786.66 47.56,786.17 47.83,786.5 48.1,786.83 48.38,787.25 48.65,787.75 48.92,788.25 49.2,788.75 49.47,789.25 49.74,789.75 50.15,790.66 50.7,792 51.25,793.33 51.79,794.66 52.34,796 52.89,797.33 53.43,798.66 53.98,800 54.53,801.33 55.07,802.66 55.62,804 56.17,805.33 56.71,806.58 57.26,807.75 57.81,808.91 58.35,810 58.9,811 59.45,812 62.67,816.2 69.23,823.3 75.79,828.1 82.35,831.8 88.91,834.7 95.47,837 102.03,839.5 108.59,841.2 120.07,844.1 136.47,848.5 152.87,853.2 169.27,856.6 185.67,861.1 202.07,864.5 218.47,867.6 234.87,871.4 259.47,876.6 292.27,881.8 325.07,886.5" fill="none" stroke="#000" stroke-width="1.35" stroke-linejoin="round"/>
<circle cx="46.74" cy="791.91" r="3.15" fill="#fff" stroke="#000" stroke-width="1.15"/>
<circle cx="47.01" cy="787.99" r="3.15" fill="#fff" stroke="#000" stroke-width="1.15"/>
<circle cx="47.28" cy="786.66" r="3.15" fill="#fff" stroke="#000" stroke-width="1.15"/>
<circle cx="47.56" cy="786.17" r="3.15" fill="#fff" stroke="#000" stroke-width="1.15"/>
<circle cx="47.83" cy="786.5" r="3.3" fill="#fff" stroke="#000" stroke-width="1.0"/>
<circle cx="48.1" cy="786.83" r="3.3" fill="#fff" stroke="#000" stroke-width="1.0"/>
<circle cx="48.38" cy="787.25" r="3.3" fill="#fff" stroke="#000" stroke-width="1.0"/>
<circle cx="48.65" cy="787.75" r="3.3" fill="#fff" stroke="#000" stroke-width="1.0"/>
<circle cx="48.92" cy="788.25" r="3.3" fill="#fff" stroke="#000" stroke-width="1.0"/>
<circle cx="49.2" cy="788.75" r="3.3" fill="#fff" stroke="#000" stroke-width="1.0"/>
<circle cx="49.47" cy="789.25" r="3.3" fill="#fff" stroke="#000" stroke-width="1.0"/>
<circle cx="49.74" cy="789.75" r="3.3" fill="#fff" stroke="#000" stroke-width="1.0"/>
<circle cx="50.15" cy="790.66" r="3.3" fill="#fff" stroke="#000" stroke-width="1.0"/>
<circle cx="50.7" cy="792" r="3.3" fill="#fff" stroke="#000" stroke-width="1.0"/>
<circle cx="51.25" cy="793.33" r="3.3" fill="#fff" stroke="#000" stroke-width="1.0"/>
<circle cx="51.79" cy="794.66" r="3.3" fill="#fff" stroke="#000" stroke-width="1.0"/>
<circle cx="52.34" cy="796" r="3.3" fill="#fff" stroke="#000" stroke-width="1.0"/>
<circle cx="52.89" cy="797.33" r="3.3" fill="#fff" stroke="#000" stroke-width="1.0"/>
<circle cx="53.43" cy="798.66" r="3.3" fill="#fff" stroke="#000" stroke-width="1.0"/>
<circle cx="53.98" cy="800" r="3.3" fill="#fff" stroke="#000" stroke-width="1.0"/>
<circle cx="54.53" cy="801.33" r="3.3" fill="#fff" stroke="#000" stroke-width="1.0"/>
<circle cx="55.07" cy="802.66" r="3.3" fill="#fff" stroke="#000" stroke-width="1.0"/>
<circle cx="55.62" cy="804" r="3.3" fill="#fff" stroke="#000" stroke-width="1.0"/>
<circle cx="56.17" cy="805.33" r="3.3" fill="#fff" stroke="#000" stroke-width="1.0"/>
<circle cx="56.71" cy="806.58" r="3.3" fill="#fff" stroke="#000" stroke-width="1.0"/>
<circle cx="57.26" cy="807.75" r="3.3" fill="#fff" stroke="#000" stroke-width="1.0"/>
<circle cx="57.81" cy="808.91" r="3.3" fill="#fff" stroke="#000" stroke-width="1.0"/>
<circle cx="58.35" cy="810" r="3.3" fill="#fff" stroke="#000" stroke-width="1.0"/>
<circle cx="58.9" cy="811" r="3.3" fill="#fff" stroke="#000" stroke-width="1.0"/>
<circle cx="59.45" cy="812" r="3.15" fill="#fff" stroke="#000" stroke-width="1.15"/>
<circle cx="62.67" cy="816.2" r="3.15" fill="#fff" stroke="#000" stroke-width="1.15"/>
<circle cx="69.23" cy="823.3" r="3.15" fill="#fff" stroke="#000" stroke-width="1.15"/>
<circle cx="75.79" cy="828.1" r="3.15" fill="#fff" stroke="#000" stroke-width="1.15"/>
<circle cx="82.35" cy="831.8" r="3.15" fill="#fff" stroke="#000" stroke-width="1.15"/>
<circle cx="88.91" cy="834.7" r="3.15" fill="#fff" stroke="#000" stroke-width="1.15"/>
<circle cx="95.47" cy="837" r="3.15" fill="#fff" stroke="#000" stroke-width="1.15"/>
<circle cx="102.03" cy="839.5" r="3.15" fill="#fff" stroke="#000" stroke-width="1.15"/>
<circle cx="108.59" cy="841.2" r="3.15" fill="#fff" stroke="#000" stroke-width="1.15"/>
<circle cx="120.07" cy="844.1" r="3.15" fill="#fff" stroke="#000" stroke-width="1.15"/>
<circle cx="136.47" cy="848.5" r="3.15" fill="#fff" stroke="#000" stroke-width="1.15"/>
<circle cx="152.87" cy="853.2" r="3.15" fill="#fff" stroke="#000" stroke-width="1.15"/>
<circle cx="169.27" cy="856.6" r="3.15" fill="#fff" stroke="#000" stroke-width="1.15"/>
<circle cx="185.67" cy="861.1" r="3.15" fill="#fff" stroke="#000" stroke-width="1.15"/>
<circle cx="202.07" cy="864.5" r="3.15" fill="#fff" stroke="#000" stroke-width="1.15"/>
<circle cx="218.47" cy="867.6" r="3.15" fill="#fff" stroke="#000" stroke-width="1.15"/>
<circle cx="234.87" cy="871.4" r="3.15" fill="#fff" stroke="#000" stroke-width="1.15"/>
<circle cx="259.47" cy="876.6" r="3.15" fill="#fff" stroke="#000" stroke-width="1.15"/>
<circle cx="292.27" cy="881.8" r="3.15" fill="#fff" stroke="#000" stroke-width="1.15"/>
<circle cx="325.07" cy="886.5" r="3.15" fill="#fff" stroke="#000" stroke-width="1.15"/>
</g>
<g>
<path d="M47.56 863.95V866.91 M45.66 863.95H49.46 M45.66 866.91H49.46" stroke="#777" stroke-width="1.15" fill="none"/>
<path d="M47.83 859.31V862.56 M45.93 859.31H49.73 M45.93 862.56H49.73" stroke="#777" stroke-width="1.15" fill="none"/>
<path d="M49.2 845.27V858.11 M47.3 845.27H51.1 M47.3 858.11H51.1" stroke="#777" stroke-width="1.15" fill="none"/>
<path d="M49.74 843.47V859.68 M47.84 843.47H51.64 M47.84 859.68H51.64" stroke="#777" stroke-width="1.15" fill="none"/>
<path d="M52.89 833.45V859.45 M50.99 833.45H54.79 M50.99 859.45H54.79" stroke="#777" stroke-width="1.15" fill="none"/>
<path d="M57.26 836.18V862.86 M55.36 836.18H59.16 M55.36 862.86H59.16" stroke="#777" stroke-width="1.15" fill="none"/>
<path d="M46.74 903.37V906.11 M44.84 903.37H48.64 M44.84 906.11H48.64" stroke="#111" stroke-width="1.15" fill="none"/>
<path d="M47.01 883.83V886.35 M45.11 883.83H48.91 M45.11 886.35H48.91" stroke="#111" stroke-width="1.15" fill="none"/>
<path d="M47.28 872.33V873.9 M45.38 872.33H49.18 M45.38 873.9H49.18" stroke="#111" stroke-width="1.15" fill="none"/>
<path d="M48.1 853.51V857.43 M46.2 853.51H50 M46.2 857.43H50" stroke="#111" stroke-width="1.15" fill="none"/>
<path d="M48.38 854.94V858.2 M46.48 854.94H50.28 M46.48 858.2H50.28" stroke="#111" stroke-width="1.15" fill="none"/>
<path d="M48.65 852.04V857.38 M46.75 852.04H50.55 M46.75 857.38H50.55" stroke="#111" stroke-width="1.15" fill="none"/>
<path d="M48.92 850.54V857.56 M47.02 850.54H50.82 M47.02 857.56H50.82" stroke="#111" stroke-width="1.15" fill="none"/>
<path d="M49.47 849.72V860.84 M47.57 849.72H51.37 M47.57 860.84H51.37" stroke="#111" stroke-width="1.15" fill="none"/>
<path d="M50.15 841.87V849.93 M48.25 841.87H52.05 M48.25 849.93H52.05" stroke="#111" stroke-width="1.15" fill="none"/>
<path d="M50.7 842.65V852.92 M48.8 842.65H52.6 M48.8 852.92H52.6" stroke="#111" stroke-width="1.15" fill="none"/>
<path d="M51.25 839.29V857.03 M49.35 839.29H53.15 M49.35 857.03H53.15" stroke="#111" stroke-width="1.15" fill="none"/>
<path d="M51.79 848.97V858.21 M49.89 848.97H53.69 M49.89 858.21H53.69" stroke="#111" stroke-width="1.15" fill="none"/>
<path d="M52.34 849.24V861.09 M50.44 849.24H54.24 M50.44 861.09H54.24" stroke="#111" stroke-width="1.15" fill="none"/>
<path d="M53.43 842.92V854.26 M51.53 842.92H55.33 M51.53 854.26H55.33" stroke="#111" stroke-width="1.15" fill="none"/>
<path d="M53.98 854.29V863.76 M52.08 854.29H55.88 M52.08 863.76H55.88" stroke="#111" stroke-width="1.15" fill="none"/>
<path d="M54.53 850.76V860.29 M52.63 850.76H56.43 M52.63 860.29H56.43" stroke="#111" stroke-width="1.15" fill="none"/>
<path d="M55.07 850.87V860.42 M53.17 850.87H56.97 M53.17 860.42H56.97" stroke="#111" stroke-width="1.15" fill="none"/>
<path d="M55.62 839.68V850.65 M53.72 839.68H57.52 M53.72 850.65H57.52" stroke="#111" stroke-width="1.15" fill="none"/>
<path d="M56.17 849.38V860.75 M54.27 849.38H58.07 M54.27 860.75H58.07" stroke="#111" stroke-width="1.15" fill="none"/>
<path d="M56.71 848.25V860.83 M54.81 848.25H58.61 M54.81 860.83H58.61" stroke="#111" stroke-width="1.15" fill="none"/>
<path d="M57.81 840.12V853.66 M55.91 840.12H59.71 M55.91 853.66H59.71" stroke="#111" stroke-width="1.15" fill="none"/>
<path d="M58.35 845.74V855.65 M56.45 845.74H60.25 M56.45 855.65H60.25" stroke="#111" stroke-width="1.15" fill="none"/>
<path d="M58.9 844.6V858.34 M57 844.6H60.8 M57 858.34H60.8" stroke="#111" stroke-width="1.15" fill="none"/>
<path d="M59.45 848.62V855.81 M57.55 848.62H61.35 M57.55 855.81H61.35" stroke="#111" stroke-width="1.15" fill="none"/>
<path d="M62.67 846.65V855.06 M60.77 846.65H64.57 M60.77 855.06H64.57" stroke="#333" stroke-width="0.8" fill="none"/>
<path d="M69.23 850.27V858.19 M67.33 850.27H71.13 M67.33 858.19H71.13" stroke="#333" stroke-width="0.8" fill="none"/>
<path d="M75.79 852.98V861.11 M73.89 852.98H77.69 M73.89 861.11H77.69" stroke="#333" stroke-width="0.8" fill="none"/>
<path d="M82.35 855.96V862.56 M80.45 855.96H84.25 M80.45 862.56H84.25" stroke="#333" stroke-width="0.8" fill="none"/>
<path d="M88.91 857.04V864.36 M87.01 857.04H90.81 M87.01 864.36H90.81" stroke="#333" stroke-width="0.8" fill="none"/>
<path d="M95.47 857.54V865.76 M93.57 857.54H97.37 M93.57 865.76H97.37" stroke="#333" stroke-width="0.8" fill="none"/>
<path d="M102.03 860.27V867.97 M100.13 860.27H103.93 M100.13 867.97H103.93" stroke="#333" stroke-width="0.8" fill="none"/>
<path d="M108.59 861.71V868.19 M106.69 861.71H110.49 M106.69 868.19H110.49" stroke="#333" stroke-width="0.8" fill="none"/>
<path d="M120.07 865.31V872.69 M118.17 865.31H121.97 M118.17 872.69H121.97" stroke="#333" stroke-width="0.8" fill="none"/>
<path d="M136.47 869.3V877.82 M134.57 869.3H138.37 M134.57 877.82H138.37" stroke="#333" stroke-width="0.8" fill="none"/>
<path d="M152.87 874.48V881.26 M150.97 874.48H154.77 M150.97 881.26H154.77" stroke="#333" stroke-width="0.8" fill="none"/>
<path d="M169.27 879.53V886.19 M167.37 879.53H171.17 M167.37 886.19H171.17" stroke="#333" stroke-width="0.8" fill="none"/>
<path d="M185.67 884V890.95 M183.77 884H187.57 M183.77 890.95H187.57" stroke="#333" stroke-width="0.8" fill="none"/>
<path d="M202.07 888.42V896.45 M200.17 888.42H203.97 M200.17 896.45H203.97" stroke="#333" stroke-width="0.8" fill="none"/>
<path d="M218.47 894.15V902.56 M216.57 894.15H220.37 M216.57 902.56H220.37" stroke="#333" stroke-width="0.8" fill="none"/>
<path d="M234.87 895.88V902.44 M232.97 895.88H236.77 M232.97 902.44H236.77" stroke="#333" stroke-width="0.8" fill="none"/>
<path d="M259.47 903.58V910.14 M257.57 903.58H261.37 M257.57 910.14H261.37" stroke="#333" stroke-width="0.8" fill="none"/>
<path d="M292.27 907.77V914.57 M290.37 907.77H294.17 M290.37 914.57H294.17" stroke="#333" stroke-width="0.8" fill="none"/>
<path d="M325.07 917.87V924.89 M323.17 917.87H326.97 M323.17 924.89H326.97" stroke="#333" stroke-width="0.8" fill="none"/>
<polyline points="46.95,950.5 46.74,904.53 47.01,884.95 47.28,873.19 47.56,865.18 47.83,860.93 48.1,855.37 48.38,856.18 48.65,855.75 48.92,855.41 49.2,849.25 49.47,855.04 49.74,848.57 50.15,846.79 50.7,847.34 51.25,848.08 51.79,852.16 52.34,854.32 52.89,846.53 53.43,845.93 53.98,857.31 54.53,854.86 55.07,855.44 55.62,846.88 56.17,852.87 56.71,855.02 57.26,849.52 57.81,844.35 58.35,851.02 58.9,850.48 59.45,852.61 62.67,850.4 69.23,853.8 75.79,856.6 82.35,858.9 88.91,860.3 95.47,861.2 102.03,863.7 108.59,864.6 120.07,868.6 136.47,873.1 152.87,877.5 169.27,882.5 185.67,887.1 202.07,892 218.47,897.9 234.87,898.8 259.47,906.5 292.27,910.8 325.07,921" fill="none" stroke="#000" stroke-width="1.35" stroke-linejoin="round"/>
<path d="M46.74 901.33V907.73" stroke="#000" stroke-width="1.1" fill="none"/>
<path d="M47.01 881.75V888.15" stroke="#000" stroke-width="1.1" fill="none"/>
<path d="M47.28 869.99V876.39" stroke="#000" stroke-width="1.1" fill="none"/>
<path d="M47.56 861.98V868.38" stroke="#000" stroke-width="1.1" fill="none"/>
<path d="M47.83 857.73V864.13" stroke="#000" stroke-width="1.1" fill="none"/>
<path d="M48.1 852.17V858.57" stroke="#000" stroke-width="1.1" fill="none"/>
<path d="M48.38 852.98V859.38" stroke="#000" stroke-width="1.1" fill="none"/>
<path d="M48.65 852.55V858.95" stroke="#000" stroke-width="1.1" fill="none"/>
<path d="M48.92 852.21V858.61" stroke="#000" stroke-width="1.1" fill="none"/>
<path d="M49.2 846.05V852.45" stroke="#000" stroke-width="1.1" fill="none"/>
<path d="M49.47 851.84V858.24" stroke="#000" stroke-width="1.1" fill="none"/>
<path d="M49.74 845.37V851.77" stroke="#000" stroke-width="1.1" fill="none"/>
<path d="M50.15 843.59V849.99" stroke="#000" stroke-width="1.1" fill="none"/>
<path d="M50.7 844.14V850.54" stroke="#000" stroke-width="1.1" fill="none"/>
<path d="M51.25 844.88V851.28" stroke="#000" stroke-width="1.1" fill="none"/>
<path d="M51.79 848.96V855.36" stroke="#000" stroke-width="1.1" fill="none"/>
<path d="M52.34 851.12V857.52" stroke="#000" stroke-width="1.1" fill="none"/>
<path d="M52.89 843.33V849.73" stroke="#000" stroke-width="1.1" fill="none"/>
<path d="M53.43 842.73V849.13" stroke="#000" stroke-width="1.1" fill="none"/>
<path d="M53.98 854.11V860.51" stroke="#000" stroke-width="1.1" fill="none"/>
<path d="M54.53 851.66V858.06" stroke="#000" stroke-width="1.1" fill="none"/>
<path d="M55.07 852.24V858.64" stroke="#000" stroke-width="1.1" fill="none"/>
<path d="M55.62 843.68V850.08" stroke="#000" stroke-width="1.1" fill="none"/>
<path d="M56.17 849.67V856.07" stroke="#000" stroke-width="1.1" fill="none"/>
<path d="M56.71 851.82V858.22" stroke="#000" stroke-width="1.1" fill="none"/>
<path d="M57.26 846.32V852.72" stroke="#000" stroke-width="1.1" fill="none"/>
<path d="M57.81 841.15V847.55" stroke="#000" stroke-width="1.1" fill="none"/>
<path d="M58.35 847.82V854.22" stroke="#000" stroke-width="1.1" fill="none"/>
<path d="M58.9 847.28V853.68" stroke="#000" stroke-width="1.1" fill="none"/>
<path d="M59.45 849.41V855.81" stroke="#000" stroke-width="1.1" fill="none"/>
<path d="M62.67 847.2V853.6" stroke="#000" stroke-width="1.1" fill="none"/>
<path d="M69.23 850.6V857" stroke="#000" stroke-width="1.1" fill="none"/>
<path d="M75.79 853.4V859.8" stroke="#000" stroke-width="1.1" fill="none"/>
<path d="M82.35 855.7V862.1" stroke="#000" stroke-width="1.1" fill="none"/>
<path d="M88.91 857.1V863.5" stroke="#000" stroke-width="1.1" fill="none"/>
<path d="M95.47 858V864.4" stroke="#000" stroke-width="1.1" fill="none"/>
<path d="M102.03 860.5V866.9" stroke="#000" stroke-width="1.1" fill="none"/>
<path d="M108.59 861.4V867.8" stroke="#000" stroke-width="1.1" fill="none"/>
<path d="M120.07 865.4V871.8" stroke="#000" stroke-width="1.1" fill="none"/>
<path d="M136.47 869.9V876.3" stroke="#000" stroke-width="1.1" fill="none"/>
<path d="M152.87 874.3V880.7" stroke="#000" stroke-width="1.1" fill="none"/>
<path d="M169.27 879.3V885.7" stroke="#000" stroke-width="1.1" fill="none"/>
<path d="M185.67 883.9V890.3" stroke="#000" stroke-width="1.1" fill="none"/>
<path d="M202.07 888.8V895.2" stroke="#000" stroke-width="1.1" fill="none"/>
<path d="M218.47 894.7V901.1" stroke="#000" stroke-width="1.1" fill="none"/>
<path d="M234.87 895.6V902" stroke="#000" stroke-width="1.1" fill="none"/>
<path d="M259.47 903.3V909.7" stroke="#000" stroke-width="1.1" fill="none"/>
<path d="M292.27 907.6V914" stroke="#000" stroke-width="1.1" fill="none"/>
<path d="M325.07 917.8V924.2" stroke="#000" stroke-width="1.1" fill="none"/>
</g>
<g>
<path d="M46.74 822.66V825.56 M44.84 822.66H48.64 M44.84 825.56H48.64" stroke="#222" stroke-width="0.8" fill="none"/>
<path d="M47.01 806.89V809.03 M45.11 806.89H48.91 M45.11 809.03H48.91" stroke="#222" stroke-width="0.8" fill="none"/>
<path d="M47.28 795.93V798.42 M45.38 795.93H49.18 M45.38 798.42H49.18" stroke="#222" stroke-width="0.8" fill="none"/>
<path d="M47.56 791.34V793.54 M45.66 791.34H49.46 M45.66 793.54H49.46" stroke="#222" stroke-width="0.8" fill="none"/>
<path d="M47.83 788.07V791.92 M45.93 788.07H49.73 M45.93 791.92H49.73" stroke="#222" stroke-width="0.8" fill="none"/>
<path d="M48.1 787.32V790.65 M46.2 787.32H50 M46.2 790.65H50" stroke="#222" stroke-width="0.8" fill="none"/>
<path d="M48.38 786.97V788.99 M46.48 786.97H50.28 M46.48 788.99H50.28" stroke="#222" stroke-width="0.8" fill="none"/>
<path d="M48.65 785.28V789.1 M46.75 785.28H50.55 M46.75 789.1H50.55" stroke="#222" stroke-width="0.8" fill="none"/>
<path d="M48.92 785.39V787.4 M47.02 785.39H50.82 M47.02 787.4H50.82" stroke="#222" stroke-width="0.8" fill="none"/>
<path d="M49.2 784.02V786.63 M47.3 784.02H51.1 M47.3 786.63H51.1" stroke="#222" stroke-width="0.8" fill="none"/>
<path d="M49.47 782.06V785.93 M47.57 782.06H51.37 M47.57 785.93H51.37" stroke="#222" stroke-width="0.8" fill="none"/>
<path d="M49.74 780.93V784.4 M47.84 780.93H51.64 M47.84 784.4H51.64" stroke="#222" stroke-width="0.8" fill="none"/>
<path d="M50.15 779.33V782.67 M48.25 779.33H52.05 M48.25 782.67H52.05" stroke="#222" stroke-width="0.8" fill="none"/>
<path d="M50.7 777.65V780.36 M48.8 777.65H52.6 M48.8 780.36H52.6" stroke="#222" stroke-width="0.8" fill="none"/>
<path d="M51.25 775.9V778.11 M49.35 775.9H53.15 M49.35 778.11H53.15" stroke="#222" stroke-width="0.8" fill="none"/>
<path d="M51.79 773.68V776.82 M49.89 773.68H53.69 M49.89 776.82H53.69" stroke="#222" stroke-width="0.8" fill="none"/>
<path d="M52.34 772.74V774.77 M50.44 772.74H54.24 M50.44 774.77H54.24" stroke="#222" stroke-width="0.8" fill="none"/>
<path d="M52.89 771.14V773.37 M50.99 771.14H54.79 M50.99 773.37H54.79" stroke="#222" stroke-width="0.8" fill="none"/>
<path d="M53.43 769.61V772.23 M51.53 769.61H55.33 M51.53 772.23H55.33" stroke="#222" stroke-width="0.8" fill="none"/>
<path d="M53.98 768.82V770.69 M52.08 768.82H55.88 M52.08 770.69H55.88" stroke="#222" stroke-width="0.8" fill="none"/>
<path d="M54.53 767.27V769.9 M52.63 767.27H56.43 M52.63 769.9H56.43" stroke="#222" stroke-width="0.8" fill="none"/>
<path d="M55.07 765.77V769.23 M53.17 765.77H56.97 M53.17 769.23H56.97" stroke="#222" stroke-width="0.8" fill="none"/>
<path d="M55.62 764.87V768.13 M53.72 764.87H57.52 M53.72 768.13H57.52" stroke="#222" stroke-width="0.8" fill="none"/>
<path d="M56.17 764.08V766.93 M54.27 764.08H58.07 M54.27 766.93H58.07" stroke="#222" stroke-width="0.8" fill="none"/>
<path d="M56.71 763.02V766.15 M54.81 763.02H58.61 M54.81 766.15H58.61" stroke="#222" stroke-width="0.8" fill="none"/>
<path d="M57.26 762.37V765.14 M55.36 762.37H59.16 M55.36 765.14H59.16" stroke="#222" stroke-width="0.8" fill="none"/>
<path d="M57.81 761.87V763.97 M55.91 761.87H59.71 M55.91 763.97H59.71" stroke="#222" stroke-width="0.8" fill="none"/>
<path d="M58.35 760.72V763.78 M56.45 760.72H60.25 M56.45 763.78H60.25" stroke="#222" stroke-width="0.8" fill="none"/>
<path d="M58.9 760.43V763.08 M57 760.43H60.8 M57 763.08H60.8" stroke="#222" stroke-width="0.8" fill="none"/>
<path d="M59.45 759.57V762.93 M57.55 759.57H61.35 M57.55 762.93H61.35" stroke="#222" stroke-width="0.8" fill="none"/>
<path d="M62.67 755.49V763.81 M60.77 755.49H64.57 M60.77 763.81H64.57" stroke="#333" stroke-width="0.8" fill="none"/>
<path d="M69.23 752.19V759.26 M67.33 752.19H71.13 M67.33 759.26H71.13" stroke="#333" stroke-width="0.8" fill="none"/>
<path d="M75.79 749.14V756.58 M73.89 749.14H77.69 M73.89 756.58H77.69" stroke="#333" stroke-width="0.8" fill="none"/>
<path d="M82.35 746.66V754.56 M80.45 746.66H84.25 M80.45 754.56H84.25" stroke="#333" stroke-width="0.8" fill="none"/>
<path d="M88.91 745V752.04 M87.01 745H90.81 M87.01 752.04H90.81" stroke="#333" stroke-width="0.8" fill="none"/>
<path d="M95.47 743.8V750.34 M93.57 743.8H97.37 M93.57 750.34H97.37" stroke="#333" stroke-width="0.8" fill="none"/>
<path d="M102.03 741.88V749.72 M100.13 741.88H103.93 M100.13 749.72H103.93" stroke="#333" stroke-width="0.8" fill="none"/>
<path d="M108.59 740.52V748.76 M106.69 740.52H110.49 M106.69 748.76H110.49" stroke="#333" stroke-width="0.8" fill="none"/>
<path d="M120.07 738.83V746.8 M118.17 738.83H121.97 M118.17 746.8H121.97" stroke="#333" stroke-width="0.8" fill="none"/>
<path d="M136.47 737.11V744.88 M134.57 737.11H138.37 M134.57 744.88H138.37" stroke="#333" stroke-width="0.8" fill="none"/>
<path d="M152.87 736.15V744.32 M150.97 736.15H154.77 M150.97 744.32H154.77" stroke="#333" stroke-width="0.8" fill="none"/>
<path d="M169.27 735.73V743.45 M167.37 735.73H171.17 M167.37 743.45H171.17" stroke="#333" stroke-width="0.8" fill="none"/>
<path d="M185.67 735.67V743.29 M183.77 735.67H187.57 M183.77 743.29H187.57" stroke="#333" stroke-width="0.8" fill="none"/>
<path d="M202.07 735.86V743 M200.17 735.86H203.97 M200.17 743H203.97" stroke="#333" stroke-width="0.8" fill="none"/>
<path d="M218.47 736.11V742.87 M216.57 736.11H220.37 M216.57 742.87H220.37" stroke="#333" stroke-width="0.8" fill="none"/>
<path d="M234.87 735.98V743.57 M232.97 735.98H236.77 M232.97 743.57H236.77" stroke="#333" stroke-width="0.8" fill="none"/>
<path d="M259.47 735.93V742.14 M257.57 735.93H261.37 M257.57 742.14H261.37" stroke="#333" stroke-width="0.8" fill="none"/>
<path d="M292.27 736.2V743.24 M290.37 736.2H294.17 M290.37 743.24H294.17" stroke="#333" stroke-width="0.8" fill="none"/>
<path d="M325.07 736.22V744.21 M323.17 736.22H326.97 M323.17 744.21H326.97" stroke="#333" stroke-width="0.8" fill="none"/>
<polyline points="46.95,950.5 46.74,825.01 47.01,808.86 47.28,798.07 47.56,793.34 47.83,790.9 48.1,789.89 48.38,788.88 48.65,788.09 48.92,787.29 49.2,786.23 49.47,784.89 49.74,783.56 50.15,781.9 50.7,779.9 51.25,777.9 51.79,776.15 52.34,774.65 52.89,773.15 53.43,771.82 53.98,770.65 54.53,769.49 55.07,768.4 55.62,767.4 56.17,766.4 56.71,765.49 57.26,764.65 57.81,763.82 58.35,763.15 58.9,762.65 59.45,762.15 62.67,759.7 69.23,755.9 75.79,753 82.35,750.7 88.91,748.7 95.47,747.3 102.03,745.9 108.59,744.7 120.07,742.9 136.47,741.1 152.87,740.3 169.27,739.7 185.67,739.6 202.07,739.6 218.47,739.7 234.87,739.9 259.47,739.3 292.27,739.9 325.07,740.3" fill="none" stroke="#000" stroke-width="1.35" stroke-linejoin="round"/>
<path d="M46.74 820.66 L50.44 826.96 L43.04 826.96 Z" fill="#fff" stroke="#000" stroke-width="1.1" stroke-linejoin="miter"/>
<path d="M47.01 804.51 L50.71 810.81 L43.31 810.81 Z" fill="#fff" stroke="#000" stroke-width="1.1" stroke-linejoin="miter"/>
<path d="M47.28 793.72 L50.98 800.02 L43.58 800.02 Z" fill="#fff" stroke="#000" stroke-width="1.1" stroke-linejoin="miter"/>
<path d="M47.56 788.99 L51.26 795.29 L43.86 795.29 Z" fill="#fff" stroke="#000" stroke-width="1.1" stroke-linejoin="miter"/>
<path d="M47.83 786.55 L51.53 792.85 L44.13 792.85 Z" fill="#fff" stroke="#000" stroke-width="1.0" stroke-linejoin="miter"/>
<path d="M48.1 785.54 L51.8 791.84 L44.4 791.84 Z" fill="#fff" stroke="#000" stroke-width="1.0" stroke-linejoin="miter"/>
<path d="M48.38 784.53 L52.08 790.83 L44.68 790.83 Z" fill="#fff" stroke="#000" stroke-width="1.0" stroke-linejoin="miter"/>
<path d="M48.65 783.74 L52.35 790.04 L44.95 790.04 Z" fill="#fff" stroke="#000" stroke-width="1.0" stroke-linejoin="miter"/>
<path d="M48.92 782.94 L52.62 789.24 L45.22 789.24 Z" fill="#fff" stroke="#000" stroke-width="1.0" stroke-linejoin="miter"/>
<path d="M49.2 781.88 L52.9 788.18 L45.5 788.18 Z" fill="#fff" stroke="#000" stroke-width="1.0" stroke-linejoin="miter"/>
<path d="M49.47 780.54 L53.17 786.84 L45.77 786.84 Z" fill="#fff" stroke="#000" stroke-width="1.0" stroke-linejoin="miter"/>
<path d="M49.74 779.21 L53.44 785.51 L46.04 785.51 Z" fill="#fff" stroke="#000" stroke-width="1.0" stroke-linejoin="miter"/>
<path d="M50.15 777.55 L53.85 783.85 L46.45 783.85 Z" fill="#fff" stroke="#000" stroke-width="1.0" stroke-linejoin="miter"/>
<path d="M50.7 775.55 L54.4 781.85 L47 781.85 Z" fill="#fff" stroke="#000" stroke-width="1.0" stroke-linejoin="miter"/>
<path d="M51.25 773.55 L54.95 779.85 L47.55 779.85 Z" fill="#fff" stroke="#000" stroke-width="1.0" stroke-linejoin="miter"/>
<path d="M51.79 771.8 L55.49 778.1 L48.09 778.1 Z" fill="#fff" stroke="#000" stroke-width="1.0" stroke-linejoin="miter"/>
<path d="M52.34 770.3 L56.04 776.6 L48.64 776.6 Z" fill="#fff" stroke="#000" stroke-width="1.0" stroke-linejoin="miter"/>
<path d="M52.89 768.8 L56.59 775.1 L49.19 775.1 Z" fill="#fff" stroke="#000" stroke-width="1.0" stroke-linejoin="miter"/>
<path d="M53.43 767.47 L57.13 773.77 L49.73 773.77 Z" fill="#fff" stroke="#000" stroke-width="1.0" stroke-linejoin="miter"/>
<path d="M53.98 766.3 L57.68 772.6 L50.28 772.6 Z" fill="#fff" stroke="#000" stroke-width="1.0" stroke-linejoin="miter"/>
<path d="M54.53 765.14 L58.23 771.44 L50.83 771.44 Z" fill="#fff" stroke="#000" stroke-width="1.0" stroke-linejoin="miter"/>
<path d="M55.07 764.05 L58.77 770.35 L51.37 770.35 Z" fill="#fff" stroke="#000" stroke-width="1.0" stroke-linejoin="miter"/>
<path d="M55.62 763.05 L59.32 769.35 L51.92 769.35 Z" fill="#fff" stroke="#000" stroke-width="1.0" stroke-linejoin="miter"/>
<path d="M56.17 762.05 L59.87 768.35 L52.47 768.35 Z" fill="#fff" stroke="#000" stroke-width="1.0" stroke-linejoin="miter"/>
<path d="M56.71 761.13 L60.41 767.44 L53.01 767.44 Z" fill="#fff" stroke="#000" stroke-width="1.0" stroke-linejoin="miter"/>
<path d="M57.26 760.3 L60.96 766.6 L53.56 766.6 Z" fill="#fff" stroke="#000" stroke-width="1.0" stroke-linejoin="miter"/>
<path d="M57.81 759.47 L61.51 765.77 L54.11 765.77 Z" fill="#fff" stroke="#000" stroke-width="1.0" stroke-linejoin="miter"/>
<path d="M58.35 758.8 L62.05 765.1 L54.65 765.1 Z" fill="#fff" stroke="#000" stroke-width="1.0" stroke-linejoin="miter"/>
<path d="M58.9 758.3 L62.6 764.6 L55.2 764.6 Z" fill="#fff" stroke="#000" stroke-width="1.0" stroke-linejoin="miter"/>
<path d="M59.45 757.8 L63.15 764.1 L55.75 764.1 Z" fill="#fff" stroke="#000" stroke-width="1.1" stroke-linejoin="miter"/>
<path d="M62.67 755.35 L66.37 761.65 L58.97 761.65 Z" fill="#fff" stroke="#000" stroke-width="1.1" stroke-linejoin="miter"/>
<path d="M69.23 751.55 L72.93 757.85 L65.53 757.85 Z" fill="#fff" stroke="#000" stroke-width="1.1" stroke-linejoin="miter"/>
<path d="M75.79 748.65 L79.49 754.95 L72.09 754.95 Z" fill="#fff" stroke="#000" stroke-width="1.1" stroke-linejoin="miter"/>
<path d="M82.35 746.35 L86.05 752.65 L78.65 752.65 Z" fill="#fff" stroke="#000" stroke-width="1.1" stroke-linejoin="miter"/>
<path d="M88.91 744.35 L92.61 750.65 L85.21 750.65 Z" fill="#fff" stroke="#000" stroke-width="1.1" stroke-linejoin="miter"/>
<path d="M95.47 742.95 L99.17 749.25 L91.77 749.25 Z" fill="#fff" stroke="#000" stroke-width="1.1" stroke-linejoin="miter"/>
<path d="M102.03 741.55 L105.73 747.85 L98.33 747.85 Z" fill="#fff" stroke="#000" stroke-width="1.1" stroke-linejoin="miter"/>
<path d="M108.59 740.35 L112.29 746.65 L104.89 746.65 Z" fill="#fff" stroke="#000" stroke-width="1.1" stroke-linejoin="miter"/>
<path d="M120.07 738.55 L123.77 744.85 L116.37 744.85 Z" fill="#fff" stroke="#000" stroke-width="1.1" stroke-linejoin="miter"/>
<path d="M136.47 736.75 L140.17 743.05 L132.77 743.05 Z" fill="#fff" stroke="#000" stroke-width="1.1" stroke-linejoin="miter"/>
<path d="M152.87 735.95 L156.57 742.25 L149.17 742.25 Z" fill="#fff" stroke="#000" stroke-width="1.1" stroke-linejoin="miter"/>
<path d="M169.27 735.35 L172.97 741.65 L165.57 741.65 Z" fill="#fff" stroke="#000" stroke-width="1.1" stroke-linejoin="miter"/>
<path d="M185.67 735.25 L189.37 741.55 L181.97 741.55 Z" fill="#fff" stroke="#000" stroke-width="1.1" stroke-linejoin="miter"/>
<path d="M202.07 735.25 L205.77 741.55 L198.37 741.55 Z" fill="#fff" stroke="#000" stroke-width="1.1" stroke-linejoin="miter"/>
<path d="M218.47 735.35 L222.17 741.65 L214.77 741.65 Z" fill="#fff" stroke="#000" stroke-width="1.1" stroke-linejoin="miter"/>
<path d="M234.87 735.55 L238.57 741.85 L231.17 741.85 Z" fill="#fff" stroke="#000" stroke-width="1.1" stroke-linejoin="miter"/>
<path d="M259.47 734.95 L263.17 741.25 L255.77 741.25 Z" fill="#fff" stroke="#000" stroke-width="1.1" stroke-linejoin="miter"/>
<path d="M292.27 735.55 L295.97 741.85 L288.57 741.85 Z" fill="#fff" stroke="#000" stroke-width="1.1" stroke-linejoin="miter"/>
<path d="M325.07 735.95 L328.77 742.25 L321.37 742.25 Z" fill="#fff" stroke="#000" stroke-width="1.1" stroke-linejoin="miter"/>
</g>
<g>
<path d="M46.74 914.1V916.31 M44.84 914.1H48.64 M44.84 916.31H48.64" stroke="#111" stroke-width="1.15" fill="none"/>
<path d="M47.01 891.8V894.17 M45.11 891.8H48.91 M45.11 894.17H48.91" stroke="#111" stroke-width="1.15" fill="none"/>
<path d="M47.28 877.81V880.75 M45.38 877.81H49.18 M45.38 880.75H49.18" stroke="#111" stroke-width="1.15" fill="none"/>
<path d="M47.56 868.34V871.1 M45.66 868.34H49.46 M45.66 871.1H49.46" stroke="#111" stroke-width="1.15" fill="none"/>
<path d="M47.83 862.66V865.42 M45.93 862.66H49.73 M45.93 865.42H49.73" stroke="#111" stroke-width="1.15" fill="none"/>
<path d="M48.1 857.47V860.09 M46.2 857.47H50 M46.2 860.09H50" stroke="#111" stroke-width="1.15" fill="none"/>
<path d="M48.38 854.62V859.82 M46.48 854.62H50.28 M46.48 859.82H50.28" stroke="#111" stroke-width="1.15" fill="none"/>
<path d="M48.65 850.34V856.05 M46.75 850.34H50.55 M46.75 856.05H50.55" stroke="#111" stroke-width="1.15" fill="none"/>
<path d="M48.92 850.43V857.46 M47.02 850.43H50.82 M47.02 857.46H50.82" stroke="#111" stroke-width="1.15" fill="none"/>
<path d="M49.2 849.71V857.29 M47.3 849.71H51.1 M47.3 857.29H51.1" stroke="#111" stroke-width="1.15" fill="none"/>
<path d="M49.47 850.72V859.07 M47.57 850.72H51.37 M47.57 859.07H51.37" stroke="#111" stroke-width="1.15" fill="none"/>
<path d="M49.74 842.94V852.85 M47.84 842.94H51.64 M47.84 852.85H51.64" stroke="#111" stroke-width="1.15" fill="none"/>
<path d="M50.15 848.49V856.91 M48.25 848.49H52.05 M48.25 856.91H52.05" stroke="#111" stroke-width="1.15" fill="none"/>
<path d="M50.7 842.05V850.51 M48.8 842.05H52.6 M48.8 850.51H52.6" stroke="#111" stroke-width="1.15" fill="none"/>
<path d="M51.25 842.58V854.59 M49.35 842.58H53.15 M49.35 854.59H53.15" stroke="#111" stroke-width="1.15" fill="none"/>
<path d="M51.79 842.64V851.36 M49.89 842.64H53.69 M49.89 851.36H53.69" stroke="#111" stroke-width="1.15" fill="none"/>
<path d="M52.34 841.54V855.82 M50.44 841.54H54.24 M50.44 855.82H54.24" stroke="#111" stroke-width="1.15" fill="none"/>
<path d="M52.89 838.03V850.79 M50.99 838.03H54.79 M50.99 850.79H54.79" stroke="#111" stroke-width="1.15" fill="none"/>
<path d="M53.43 841.84V852.5 M51.53 841.84H55.33 M51.53 852.5H55.33" stroke="#111" stroke-width="1.15" fill="none"/>
<path d="M53.98 843.42V855.57 M52.08 843.42H55.88 M52.08 855.57H55.88" stroke="#111" stroke-width="1.15" fill="none"/>
<path d="M54.53 843.72V855.9 M52.63 843.72H56.43 M52.63 855.9H56.43" stroke="#111" stroke-width="1.15" fill="none"/>
<path d="M55.07 839.41V853.34 M53.17 839.41H56.97 M53.17 853.34H56.97" stroke="#111" stroke-width="1.15" fill="none"/>
<path d="M55.62 843.97V854.25 M53.72 843.97H57.52 M53.72 854.25H57.52" stroke="#111" stroke-width="1.15" fill="none"/>
<path d="M56.17 843.72V854.64 M54.27 843.72H58.07 M54.27 854.64H58.07" stroke="#111" stroke-width="1.15" fill="none"/>
<path d="M56.71 837.69V850.13 M54.81 837.69H58.61 M54.81 850.13H58.61" stroke="#111" stroke-width="1.15" fill="none"/>
<path d="M57.26 841.36V851.01 M55.36 841.36H59.16 M55.36 851.01H59.16" stroke="#111" stroke-width="1.15" fill="none"/>
<path d="M57.81 841.26V850.89 M55.91 841.26H59.71 M55.91 850.89H59.71" stroke="#111" stroke-width="1.15" fill="none"/>
<path d="M58.35 840.49V849.47 M56.45 840.49H60.25 M56.45 849.47H60.25" stroke="#111" stroke-width="1.15" fill="none"/>
<path d="M58.9 841.18V852.35 M57 841.18H60.8 M57 852.35H60.8" stroke="#111" stroke-width="1.15" fill="none"/>
<path d="M59.45 843.49V853.53 M57.55 843.49H61.35 M57.55 853.53H61.35" stroke="#111" stroke-width="1.15" fill="none"/>
<path d="M62.67 842.34V850.78 M60.77 842.34H64.57 M60.77 850.78H64.57" stroke="#333" stroke-width="0.8" fill="none"/>
<path d="M69.23 842.7V848.99 M67.33 842.7H71.13 M67.33 848.99H71.13" stroke="#333" stroke-width="0.8" fill="none"/>
<path d="M75.79 841.47V849.84 M73.89 841.47H77.69 M73.89 849.84H77.69" stroke="#333" stroke-width="0.8" fill="none"/>
<path d="M82.35 841.08V849.65 M80.45 841.08H84.25 M80.45 849.65H84.25" stroke="#333" stroke-width="0.8" fill="none"/>
<path d="M88.91 841.03V849.27 M87.01 841.03H90.81 M87.01 849.27H90.81" stroke="#333" stroke-width="0.8" fill="none"/>
<path d="M95.47 841.8V848.31 M93.57 841.8H97.37 M93.57 848.31H97.37" stroke="#333" stroke-width="0.8" fill="none"/>
<path d="M102.03 840.67V849.04 M100.13 840.67H103.93 M100.13 849.04H103.93" stroke="#333" stroke-width="0.8" fill="none"/>
<path d="M108.59 840.71V848.55 M106.69 840.71H110.49 M106.69 848.55H110.49" stroke="#333" stroke-width="0.8" fill="none"/>
<path d="M120.07 841.65V847.83 M118.17 841.65H121.97 M118.17 847.83H121.97" stroke="#333" stroke-width="0.8" fill="none"/>
<path d="M136.47 842.15V848.32 M134.57 842.15H138.37 M134.57 848.32H138.37" stroke="#333" stroke-width="0.8" fill="none"/>
<path d="M152.87 841.12V849.82 M150.97 841.12H154.77 M150.97 849.82H154.77" stroke="#333" stroke-width="0.8" fill="none"/>
<path d="M169.27 841.68V849.58 M167.37 841.68H171.17 M167.37 849.58H171.17" stroke="#333" stroke-width="0.8" fill="none"/>
<path d="M185.67 842.46V849.28 M183.77 842.46H187.57 M183.77 849.28H187.57" stroke="#333" stroke-width="0.8" fill="none"/>
<path d="M202.07 843.04V849.46 M200.17 843.04H203.97 M200.17 849.46H203.97" stroke="#333" stroke-width="0.8" fill="none"/>
<path d="M218.47 843.39V849.92 M216.57 843.39H220.37 M216.57 849.92H220.37" stroke="#333" stroke-width="0.8" fill="none"/>
<path d="M234.87 843.78V850.55 M232.97 843.78H236.77 M232.97 850.55H236.77" stroke="#333" stroke-width="0.8" fill="none"/>
<path d="M259.47 843.83V852.06 M257.57 843.83H261.37 M257.57 852.06H261.37" stroke="#333" stroke-width="0.8" fill="none"/>
<path d="M292.27 845.05V852.12 M290.37 845.05H294.17 M290.37 852.12H294.17" stroke="#333" stroke-width="0.8" fill="none"/>
<path d="M325.07 846.08V852.63 M323.17 846.08H326.97 M323.17 852.63H326.97" stroke="#333" stroke-width="0.8" fill="none"/>
<polyline points="46.95,950.5 46.74,915.46 47.01,892.95 47.28,879.22 47.56,869.73 47.83,863.84 48.1,859.1 48.38,857.77 48.65,853.37 48.92,853.91 49.2,853.86 49.47,854.05 49.74,849.65 50.15,853.63 50.7,847.45 51.25,848.1 51.79,847.23 52.34,850.18 52.89,845.83 53.43,845.61 53.98,850.23 54.53,848.08 55.07,846.24 55.62,849.78 56.17,847.47 56.71,845.8 57.26,845.88 57.81,844.28 58.35,844.96 58.9,846.47 59.45,847.54 62.67,846.1 69.23,845.5 75.79,845.2 82.35,844.9 88.91,844.7 95.47,844.7 102.03,844.4 108.59,844.2 120.07,844.4 136.47,844.9 152.87,845 169.27,845.2 185.67,845.5 202.07,845.9 218.47,846.3 234.87,846.8 259.47,847.5 292.27,848.2 325.07,849" fill="none" stroke="#000" stroke-width="1.35" stroke-linejoin="round"/>
<rect x="43.64" y="912.36" width="6.2" height="6.2" fill="#000"/>
<rect x="43.91" y="889.85" width="6.2" height="6.2" fill="#000"/>
<rect x="44.18" y="876.12" width="6.2" height="6.2" fill="#000"/>
<rect x="44.46" y="866.63" width="6.2" height="6.2" fill="#000"/>
<rect x="44.73" y="860.74" width="6.2" height="6.2" fill="#000"/>
<rect x="45" y="856" width="6.2" height="6.2" fill="#000"/>
<rect x="45.28" y="854.67" width="6.2" height="6.2" fill="#000"/>
<rect x="45.55" y="850.27" width="6.2" height="6.2" fill="#000"/>
<rect x="45.82" y="850.81" width="6.2" height="6.2" fill="#000"/>
<rect x="46.1" y="850.76" width="6.2" height="6.2" fill="#000"/>
<rect x="46.37" y="850.95" width="6.2" height="6.2" fill="#000"/>
<rect x="46.64" y="846.55" width="6.2" height="6.2" fill="#000"/>
<rect x="47.05" y="850.53" width="6.2" height="6.2" fill="#000"/>
<rect x="47.6" y="844.35" width="6.2" height="6.2" fill="#000"/>
<rect x="48.15" y="845" width="6.2" height="6.2" fill="#000"/>
<rect x="48.69" y="844.13" width="6.2" height="6.2" fill="#000"/>
<rect x="49.24" y="847.08" width="6.2" height="6.2" fill="#000"/>
<rect x="49.79" y="842.73" width="6.2" height="6.2" fill="#000"/>
<rect x="50.33" y="842.51" width="6.2" height="6.2" fill="#000"/>
<rect x="50.88" y="847.13" width="6.2" height="6.2" fill="#000"/>
<rect x="51.43" y="844.98" width="6.2" height="6.2" fill="#000"/>
<rect x="51.97" y="843.14" width="6.2" height="6.2" fill="#000"/>
<rect x="52.52" y="846.68" width="6.2" height="6.2" fill="#000"/>
<rect x="53.07" y="844.37" width="6.2" height="6.2" fill="#000"/>
<rect x="53.61" y="842.7" width="6.2" height="6.2" fill="#000"/>
<rect x="54.16" y="842.78" width="6.2" height="6.2" fill="#000"/>
<rect x="54.71" y="841.18" width="6.2" height="6.2" fill="#000"/>
<rect x="55.25" y="841.86" width="6.2" height="6.2" fill="#000"/>
<rect x="55.8" y="843.37" width="6.2" height="6.2" fill="#000"/>
<rect x="56.35" y="844.44" width="6.2" height="6.2" fill="#000"/>
<rect x="59.57" y="843" width="6.2" height="6.2" fill="#000"/>
<rect x="66.13" y="842.4" width="6.2" height="6.2" fill="#000"/>
<rect x="72.69" y="842.1" width="6.2" height="6.2" fill="#000"/>
<rect x="79.25" y="841.8" width="6.2" height="6.2" fill="#000"/>
<rect x="85.81" y="841.6" width="6.2" height="6.2" fill="#000"/>
<rect x="92.37" y="841.6" width="6.2" height="6.2" fill="#000"/>
<rect x="98.93" y="841.3" width="6.2" height="6.2" fill="#000"/>
<rect x="105.49" y="841.1" width="6.2" height="6.2" fill="#000"/>
<rect x="116.97" y="841.3" width="6.2" height="6.2" fill="#000"/>
<rect x="133.37" y="841.8" width="6.2" height="6.2" fill="#000"/>
<rect x="149.77" y="841.9" width="6.2" height="6.2" fill="#000"/>
<rect x="166.17" y="842.1" width="6.2" height="6.2" fill="#000"/>
<rect x="182.57" y="842.4" width="6.2" height="6.2" fill="#000"/>
<rect x="198.97" y="842.8" width="6.2" height="6.2" fill="#000"/>
<rect x="215.37" y="843.2" width="6.2" height="6.2" fill="#000"/>
<rect x="231.77" y="843.7" width="6.2" height="6.2" fill="#000"/>
<rect x="256.37" y="844.4" width="6.2" height="6.2" fill="#000"/>
<rect x="289.17" y="845.1" width="6.2" height="6.2" fill="#000"/>
<rect x="321.97" y="845.9" width="6.2" height="6.2" fill="#000"/>
</g>
</g>
<path d="M46.6 731.6V949.1" stroke="#000" stroke-width="1.15" fill="none"/>
<path d="M45.9 948.5H342.3" stroke="#000" stroke-width="1.1" fill="none"/>
<path d="M41.8 948.5H46.6 M41.8 870.5H46.6 M41.8 792.5H46.6 M44 925.02H46.6 M44 911.28H46.6 M44 901.54H46.6 M44 893.98H46.6 M44 887.8H46.6 M44 882.58H46.6 M44 878.06H46.6 M44 874.07H46.6 M44 847.02H46.6 M44 833.28H46.6 M44 823.54H46.6 M44 815.98H46.6 M44 809.8H46.6 M44 804.58H46.6 M44 800.06H46.6 M44 796.07H46.6 M44 769.02H46.6 M44 755.28H46.6 M44 745.54H46.6 M44 737.98H46.6 M44 731.8H46.6" stroke="#000" stroke-width="1" fill="none"/>
<path d="M46.6 948.5V952.7 M145 948.5V952.7 M243.4 948.5V952.7 M341.8 948.5V952.7 M95.8 948.5V950.8 M194.2 948.5V950.8 M292.6 948.5V950.8" stroke="#000" stroke-width="1" fill="none"/>
<path d="M94.4 891H123.1" stroke="#000" stroke-width="1.45"/>
<circle cx="109.6" cy="891" r="3.15" fill="#fff" stroke="#000" stroke-width="1.15"/>
<text x="127.4" y="895.6" font-size="12.9">heart</text>
<path d="M94.4 906.3H123.1" stroke="#000" stroke-width="1.45"/>
<path d="M109.6 903.1V909.5" stroke="#000" stroke-width="1.1" fill="none"/>
<text x="127.4" y="910.9" font-size="12.9">muscle</text>
<path d="M94.4 921.8H123.1" stroke="#000" stroke-width="1.45"/>
<path d="M109.6 917.75 L113.3 924.05 L105.9 924.05 Z" fill="#fff" stroke="#000" stroke-width="1.1" stroke-linejoin="miter"/>
<text x="127.4" y="926.4" font-size="12.9">kidney</text>
<path d="M94.4 937.6H123.1" stroke="#000" stroke-width="1.45"/>
<rect x="106.5" y="934.5" width="6.2" height="6.2" fill="#000"/>
<text x="127.4" y="942.2" font-size="12.9">tumor</text>
<text x="135" y="793.3" font-size="11.48" fill="#2b2b2b" stroke="none">d) [<tspan font-size="6.66" dy="-4.2" letter-spacing="-0.35">68</tspan><tspan dy="4.2">Ga]DOTAGA-ffk(Sub-KuE)</tspan></text>
<text x="148.4" y="806.1" font-size="11" fill="#2b2b2b" stroke="none"><tspan font-size="6.38" dy="-4.2" letter-spacing="-0.35">68</tspan><tspan dy="4.2">Ga-</tspan><tspan font-weight="bold">12</tspan></text>
</g>
<text x="194.6" y="985.8" text-anchor="middle" font-size="12.85">time [min]</text>
</svg></body></html>
